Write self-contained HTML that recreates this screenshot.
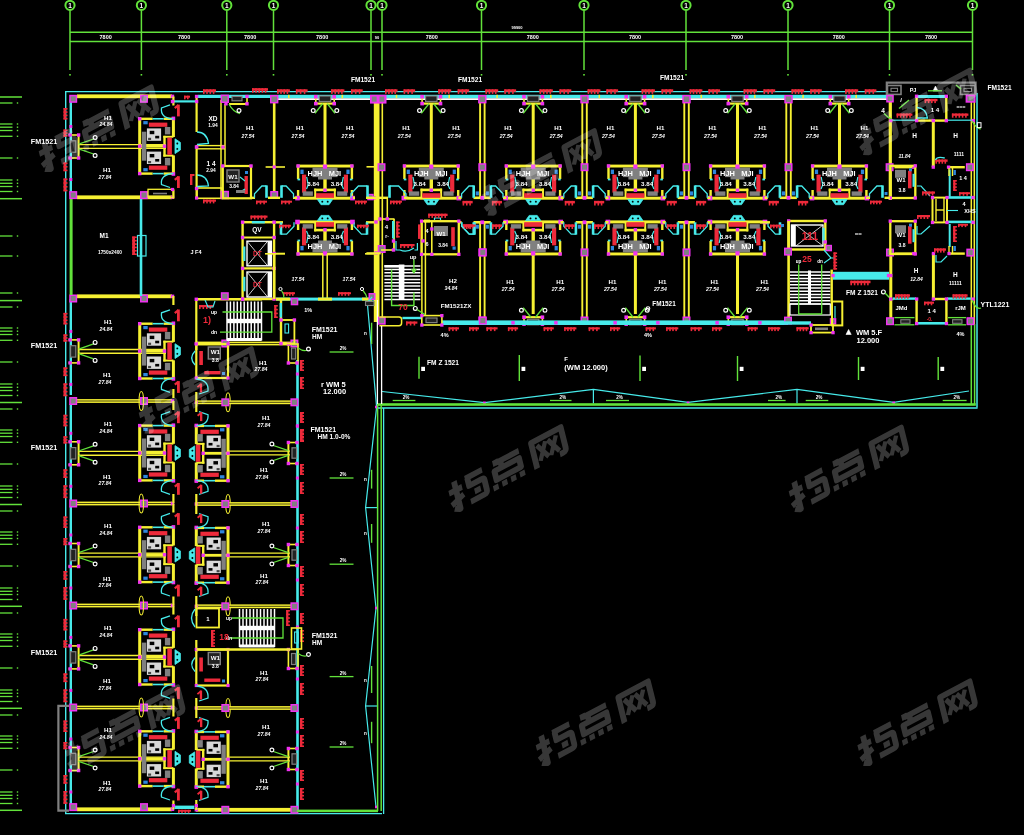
<!DOCTYPE html>
<html><head><meta charset="utf-8"><title>Floor plan</title>
<style>html,body{margin:0;padding:0;background:#000;overflow:hidden}svg{display:block}text{font-family:"Liberation Sans",sans-serif}</style>
</head><body>
<svg width="1024" height="835" viewBox="0 0 1024 835" font-family="Liberation Sans, sans-serif">
<defs><filter id="bl" x="0" y="0" width="1024" height="835" filterUnits="userSpaceOnUse"><feGaussianBlur stdDeviation="0.45"/></filter><g id="wm" fill="none" stroke="#fff" stroke-width="5.8" stroke-linejoin="round" stroke-linecap="butt">
<g transform="translate(-65,-13.6) scale(1.05,0.96)">
<path d="M0 9 H14 M7.5 0 V28.5 L2 25.5 M0 21.5 L14 16.5 M18.5 3 H37 M21 3 V11.5 H34 Q37 11.5 37 14.5 V24 Q37 27 34 27 H19 M25 19.5 H31.5"/>
<g transform="translate(43.5,0)"><path d="M8 0 V6 M8 3.5 H33 M13 3.5 V10 M5 10.5 H31.5 V19.5 H5 Z"/><path d="M0 23.5 h5.5 v5.5 h-5.5z M9.5 23.5 h5.5 v5.5 h-5.5z M19 23.5 h5.5 v5.5 h-5.5z M28.5 23.5 h5.5 v5.5 h-5.5z" fill="#fff" stroke="none"/></g>
<g transform="translate(87,0)"><path d="M3 29 V2.5 H35 V24 Q35 27 32 27 H28" /><path d="M8 7.5 L17 23.5 M17 7.5 L8 23.5 M19.5 7.5 L28.5 23.5 M28.5 7.5 L19.5 23.5" stroke-width="4.6"/></g>
</g></g></defs>
<rect width="1024" height="835" fill="#000"/>
<g filter="url(#bl)">
<line x1="70.0" y1="10.5" x2="70.0" y2="70.0" stroke="#62e23a" stroke-width="1.5" />
<rect x="69.2" y="74.0" width="1.6" height="1.6" fill="#62e23a"/>
<circle cx="70.0" cy="5.3" r="4.6" fill="none" stroke="#62e23a" stroke-width="2.0"/>
<text x="70.0" y="7.6" fill="#ffffff" font-size="6.5" text-anchor="middle" font-weight="bold" >1</text>
<line x1="141.4" y1="10.5" x2="141.4" y2="70.0" stroke="#62e23a" stroke-width="1.5" />
<rect x="140.6" y="74.0" width="1.6" height="1.6" fill="#62e23a"/>
<circle cx="141.4" cy="5.3" r="4.6" fill="none" stroke="#62e23a" stroke-width="2.0"/>
<text x="141.4" y="7.6" fill="#ffffff" font-size="6.5" text-anchor="middle" font-weight="bold" >1</text>
<line x1="226.8" y1="10.5" x2="226.8" y2="70.0" stroke="#62e23a" stroke-width="1.5" />
<rect x="226.0" y="74.0" width="1.6" height="1.6" fill="#62e23a"/>
<circle cx="226.8" cy="5.3" r="4.6" fill="none" stroke="#62e23a" stroke-width="2.0"/>
<text x="226.8" y="7.6" fill="#ffffff" font-size="6.5" text-anchor="middle" font-weight="bold" >1</text>
<line x1="273.5" y1="10.5" x2="273.5" y2="70.0" stroke="#62e23a" stroke-width="1.5" />
<rect x="272.7" y="74.0" width="1.6" height="1.6" fill="#62e23a"/>
<circle cx="273.5" cy="5.3" r="4.6" fill="none" stroke="#62e23a" stroke-width="2.0"/>
<text x="273.5" y="7.6" fill="#ffffff" font-size="6.5" text-anchor="middle" font-weight="bold" >1</text>
<line x1="371.0" y1="10.5" x2="371.0" y2="70.0" stroke="#62e23a" stroke-width="1.5" />
<rect x="370.2" y="74.0" width="1.6" height="1.6" fill="#62e23a"/>
<circle cx="371.0" cy="5.3" r="4.6" fill="none" stroke="#62e23a" stroke-width="2.0"/>
<text x="371.0" y="7.6" fill="#ffffff" font-size="6.5" text-anchor="middle" font-weight="bold" >1</text>
<line x1="382.0" y1="10.5" x2="382.0" y2="70.0" stroke="#62e23a" stroke-width="1.5" />
<rect x="381.2" y="74.0" width="1.6" height="1.6" fill="#62e23a"/>
<circle cx="382.0" cy="5.3" r="4.6" fill="none" stroke="#62e23a" stroke-width="2.0"/>
<text x="382.0" y="7.6" fill="#ffffff" font-size="6.5" text-anchor="middle" font-weight="bold" >1</text>
<line x1="481.5" y1="10.5" x2="481.5" y2="70.0" stroke="#62e23a" stroke-width="1.5" />
<rect x="480.7" y="74.0" width="1.6" height="1.6" fill="#62e23a"/>
<circle cx="481.5" cy="5.3" r="4.6" fill="none" stroke="#62e23a" stroke-width="2.0"/>
<text x="481.5" y="7.6" fill="#ffffff" font-size="6.5" text-anchor="middle" font-weight="bold" >1</text>
<line x1="584.0" y1="10.5" x2="584.0" y2="70.0" stroke="#62e23a" stroke-width="1.5" />
<rect x="583.2" y="74.0" width="1.6" height="1.6" fill="#62e23a"/>
<circle cx="584.0" cy="5.3" r="4.6" fill="none" stroke="#62e23a" stroke-width="2.0"/>
<text x="584.0" y="7.6" fill="#ffffff" font-size="6.5" text-anchor="middle" font-weight="bold" >1</text>
<line x1="686.0" y1="10.5" x2="686.0" y2="70.0" stroke="#62e23a" stroke-width="1.5" />
<rect x="685.2" y="74.0" width="1.6" height="1.6" fill="#62e23a"/>
<circle cx="686.0" cy="5.3" r="4.6" fill="none" stroke="#62e23a" stroke-width="2.0"/>
<text x="686.0" y="7.6" fill="#ffffff" font-size="6.5" text-anchor="middle" font-weight="bold" >1</text>
<line x1="788.0" y1="10.5" x2="788.0" y2="70.0" stroke="#62e23a" stroke-width="1.5" />
<rect x="787.2" y="74.0" width="1.6" height="1.6" fill="#62e23a"/>
<circle cx="788.0" cy="5.3" r="4.6" fill="none" stroke="#62e23a" stroke-width="2.0"/>
<text x="788.0" y="7.6" fill="#ffffff" font-size="6.5" text-anchor="middle" font-weight="bold" >1</text>
<line x1="889.5" y1="10.5" x2="889.5" y2="70.0" stroke="#62e23a" stroke-width="1.5" />
<rect x="888.7" y="74.0" width="1.6" height="1.6" fill="#62e23a"/>
<circle cx="889.5" cy="5.3" r="4.6" fill="none" stroke="#62e23a" stroke-width="2.0"/>
<text x="889.5" y="7.6" fill="#ffffff" font-size="6.5" text-anchor="middle" font-weight="bold" >1</text>
<line x1="972.5" y1="10.5" x2="972.5" y2="70.0" stroke="#62e23a" stroke-width="1.5" />
<rect x="971.7" y="74.0" width="1.6" height="1.6" fill="#62e23a"/>
<circle cx="972.5" cy="5.3" r="4.6" fill="none" stroke="#62e23a" stroke-width="2.0"/>
<text x="972.5" y="7.6" fill="#ffffff" font-size="6.5" text-anchor="middle" font-weight="bold" >1</text>
<line x1="70.0" y1="32.2" x2="972.5" y2="32.2" stroke="#62e23a" stroke-width="1.5" />
<line x1="70.0" y1="41.4" x2="972.5" y2="41.4" stroke="#62e23a" stroke-width="1.5" />
<text x="105.7" y="39.2" fill="#ffffff" font-size="5.5" text-anchor="middle" font-weight="bold" >7800</text>
<text x="184.1" y="39.2" fill="#ffffff" font-size="5.5" text-anchor="middle" font-weight="bold" >7800</text>
<text x="250.2" y="39.2" fill="#ffffff" font-size="5.5" text-anchor="middle" font-weight="bold" >7800</text>
<text x="322.2" y="39.2" fill="#ffffff" font-size="5.5" text-anchor="middle" font-weight="bold" >7800</text>
<text x="431.8" y="39.2" fill="#ffffff" font-size="5.5" text-anchor="middle" font-weight="bold" >7800</text>
<text x="532.8" y="39.2" fill="#ffffff" font-size="5.5" text-anchor="middle" font-weight="bold" >7800</text>
<text x="635.0" y="39.2" fill="#ffffff" font-size="5.5" text-anchor="middle" font-weight="bold" >7800</text>
<text x="737.0" y="39.2" fill="#ffffff" font-size="5.5" text-anchor="middle" font-weight="bold" >7800</text>
<text x="838.8" y="39.2" fill="#ffffff" font-size="5.5" text-anchor="middle" font-weight="bold" >7800</text>
<text x="931.0" y="39.2" fill="#ffffff" font-size="5.5" text-anchor="middle" font-weight="bold" >7800</text>
<text x="377.0" y="39.2" fill="#ffffff" font-size="4" text-anchor="middle" font-weight="bold" >90</text>
<text x="517.0" y="29.0" fill="#ffffff" font-size="4" text-anchor="middle" font-weight="bold" >99900</text>
<line x1="0.0" y1="103.0" x2="12.5" y2="103.0" stroke="#62e23a" stroke-width="1.3" />
<rect x="16.8" y="102.3" width="1.4" height="1.4" fill="#62e23a"/>
<line x1="0.0" y1="124.0" x2="12.5" y2="124.0" stroke="#62e23a" stroke-width="1.3" />
<rect x="16.8" y="123.3" width="1.4" height="1.4" fill="#62e23a"/>
<line x1="0.0" y1="127.2" x2="12.5" y2="127.2" stroke="#62e23a" stroke-width="1.3" />
<rect x="16.8" y="126.5" width="1.4" height="1.4" fill="#62e23a"/>
<line x1="0.0" y1="130.5" x2="12.5" y2="130.5" stroke="#62e23a" stroke-width="1.3" />
<rect x="16.8" y="129.8" width="1.4" height="1.4" fill="#62e23a"/>
<line x1="0.0" y1="136.3" x2="12.5" y2="136.3" stroke="#62e23a" stroke-width="1.3" />
<rect x="16.8" y="135.6" width="1.4" height="1.4" fill="#62e23a"/>
<line x1="0.0" y1="158.0" x2="12.5" y2="158.0" stroke="#62e23a" stroke-width="1.3" />
<rect x="16.8" y="157.3" width="1.4" height="1.4" fill="#62e23a"/>
<line x1="0.0" y1="180.0" x2="12.5" y2="180.0" stroke="#62e23a" stroke-width="1.3" />
<rect x="16.8" y="179.3" width="1.4" height="1.4" fill="#62e23a"/>
<line x1="0.0" y1="183.3" x2="12.5" y2="183.3" stroke="#62e23a" stroke-width="1.3" />
<rect x="16.8" y="182.6" width="1.4" height="1.4" fill="#62e23a"/>
<line x1="0.0" y1="186.5" x2="12.5" y2="186.5" stroke="#62e23a" stroke-width="1.3" />
<rect x="16.8" y="185.8" width="1.4" height="1.4" fill="#62e23a"/>
<line x1="0.0" y1="191.5" x2="12.5" y2="191.5" stroke="#62e23a" stroke-width="1.3" />
<rect x="16.8" y="190.8" width="1.4" height="1.4" fill="#62e23a"/>
<line x1="0.0" y1="307.0" x2="12.5" y2="307.0" stroke="#62e23a" stroke-width="1.3" />
<rect x="16.8" y="306.3" width="1.4" height="1.4" fill="#62e23a"/>
<line x1="0.0" y1="328.0" x2="12.5" y2="328.0" stroke="#62e23a" stroke-width="1.3" />
<rect x="16.8" y="327.3" width="1.4" height="1.4" fill="#62e23a"/>
<line x1="0.0" y1="331.2" x2="12.5" y2="331.2" stroke="#62e23a" stroke-width="1.3" />
<rect x="16.8" y="330.5" width="1.4" height="1.4" fill="#62e23a"/>
<line x1="0.0" y1="334.5" x2="12.5" y2="334.5" stroke="#62e23a" stroke-width="1.3" />
<rect x="16.8" y="333.8" width="1.4" height="1.4" fill="#62e23a"/>
<line x1="0.0" y1="340.3" x2="12.5" y2="340.3" stroke="#62e23a" stroke-width="1.3" />
<rect x="16.8" y="339.6" width="1.4" height="1.4" fill="#62e23a"/>
<line x1="0.0" y1="362.0" x2="12.5" y2="362.0" stroke="#62e23a" stroke-width="1.3" />
<rect x="16.8" y="361.3" width="1.4" height="1.4" fill="#62e23a"/>
<line x1="0.0" y1="384.0" x2="12.5" y2="384.0" stroke="#62e23a" stroke-width="1.3" />
<rect x="16.8" y="383.3" width="1.4" height="1.4" fill="#62e23a"/>
<line x1="0.0" y1="387.3" x2="12.5" y2="387.3" stroke="#62e23a" stroke-width="1.3" />
<rect x="16.8" y="386.6" width="1.4" height="1.4" fill="#62e23a"/>
<line x1="0.0" y1="390.5" x2="12.5" y2="390.5" stroke="#62e23a" stroke-width="1.3" />
<rect x="16.8" y="389.8" width="1.4" height="1.4" fill="#62e23a"/>
<line x1="0.0" y1="395.5" x2="12.5" y2="395.5" stroke="#62e23a" stroke-width="1.3" />
<rect x="16.8" y="394.8" width="1.4" height="1.4" fill="#62e23a"/>
<line x1="0.0" y1="409.0" x2="12.5" y2="409.0" stroke="#62e23a" stroke-width="1.3" />
<rect x="16.8" y="408.3" width="1.4" height="1.4" fill="#62e23a"/>
<line x1="0.0" y1="430.0" x2="12.5" y2="430.0" stroke="#62e23a" stroke-width="1.3" />
<rect x="16.8" y="429.3" width="1.4" height="1.4" fill="#62e23a"/>
<line x1="0.0" y1="433.2" x2="12.5" y2="433.2" stroke="#62e23a" stroke-width="1.3" />
<rect x="16.8" y="432.5" width="1.4" height="1.4" fill="#62e23a"/>
<line x1="0.0" y1="436.5" x2="12.5" y2="436.5" stroke="#62e23a" stroke-width="1.3" />
<rect x="16.8" y="435.8" width="1.4" height="1.4" fill="#62e23a"/>
<line x1="0.0" y1="442.3" x2="12.5" y2="442.3" stroke="#62e23a" stroke-width="1.3" />
<rect x="16.8" y="441.6" width="1.4" height="1.4" fill="#62e23a"/>
<line x1="0.0" y1="464.0" x2="12.5" y2="464.0" stroke="#62e23a" stroke-width="1.3" />
<rect x="16.8" y="463.3" width="1.4" height="1.4" fill="#62e23a"/>
<line x1="0.0" y1="486.0" x2="12.5" y2="486.0" stroke="#62e23a" stroke-width="1.3" />
<rect x="16.8" y="485.3" width="1.4" height="1.4" fill="#62e23a"/>
<line x1="0.0" y1="489.3" x2="12.5" y2="489.3" stroke="#62e23a" stroke-width="1.3" />
<rect x="16.8" y="488.6" width="1.4" height="1.4" fill="#62e23a"/>
<line x1="0.0" y1="492.5" x2="12.5" y2="492.5" stroke="#62e23a" stroke-width="1.3" />
<rect x="16.8" y="491.8" width="1.4" height="1.4" fill="#62e23a"/>
<line x1="0.0" y1="497.5" x2="12.5" y2="497.5" stroke="#62e23a" stroke-width="1.3" />
<rect x="16.8" y="496.8" width="1.4" height="1.4" fill="#62e23a"/>
<line x1="0.0" y1="511.0" x2="12.5" y2="511.0" stroke="#62e23a" stroke-width="1.3" />
<rect x="16.8" y="510.3" width="1.4" height="1.4" fill="#62e23a"/>
<line x1="0.0" y1="532.0" x2="12.5" y2="532.0" stroke="#62e23a" stroke-width="1.3" />
<rect x="16.8" y="531.3" width="1.4" height="1.4" fill="#62e23a"/>
<line x1="0.0" y1="535.2" x2="12.5" y2="535.2" stroke="#62e23a" stroke-width="1.3" />
<rect x="16.8" y="534.5" width="1.4" height="1.4" fill="#62e23a"/>
<line x1="0.0" y1="538.5" x2="12.5" y2="538.5" stroke="#62e23a" stroke-width="1.3" />
<rect x="16.8" y="537.8" width="1.4" height="1.4" fill="#62e23a"/>
<line x1="0.0" y1="544.3" x2="12.5" y2="544.3" stroke="#62e23a" stroke-width="1.3" />
<rect x="16.8" y="543.6" width="1.4" height="1.4" fill="#62e23a"/>
<line x1="0.0" y1="566.0" x2="12.5" y2="566.0" stroke="#62e23a" stroke-width="1.3" />
<rect x="16.8" y="565.3" width="1.4" height="1.4" fill="#62e23a"/>
<line x1="0.0" y1="588.0" x2="12.5" y2="588.0" stroke="#62e23a" stroke-width="1.3" />
<rect x="16.8" y="587.3" width="1.4" height="1.4" fill="#62e23a"/>
<line x1="0.0" y1="591.3" x2="12.5" y2="591.3" stroke="#62e23a" stroke-width="1.3" />
<rect x="16.8" y="590.6" width="1.4" height="1.4" fill="#62e23a"/>
<line x1="0.0" y1="594.5" x2="12.5" y2="594.5" stroke="#62e23a" stroke-width="1.3" />
<rect x="16.8" y="593.8" width="1.4" height="1.4" fill="#62e23a"/>
<line x1="0.0" y1="599.5" x2="12.5" y2="599.5" stroke="#62e23a" stroke-width="1.3" />
<rect x="16.8" y="598.8" width="1.4" height="1.4" fill="#62e23a"/>
<line x1="0.0" y1="613.0" x2="12.5" y2="613.0" stroke="#62e23a" stroke-width="1.3" />
<rect x="16.8" y="612.3" width="1.4" height="1.4" fill="#62e23a"/>
<line x1="0.0" y1="634.0" x2="12.5" y2="634.0" stroke="#62e23a" stroke-width="1.3" />
<rect x="16.8" y="633.3" width="1.4" height="1.4" fill="#62e23a"/>
<line x1="0.0" y1="637.2" x2="12.5" y2="637.2" stroke="#62e23a" stroke-width="1.3" />
<rect x="16.8" y="636.5" width="1.4" height="1.4" fill="#62e23a"/>
<line x1="0.0" y1="640.5" x2="12.5" y2="640.5" stroke="#62e23a" stroke-width="1.3" />
<rect x="16.8" y="639.8" width="1.4" height="1.4" fill="#62e23a"/>
<line x1="0.0" y1="646.3" x2="12.5" y2="646.3" stroke="#62e23a" stroke-width="1.3" />
<rect x="16.8" y="645.6" width="1.4" height="1.4" fill="#62e23a"/>
<line x1="0.0" y1="668.0" x2="12.5" y2="668.0" stroke="#62e23a" stroke-width="1.3" />
<rect x="16.8" y="667.3" width="1.4" height="1.4" fill="#62e23a"/>
<line x1="0.0" y1="690.0" x2="12.5" y2="690.0" stroke="#62e23a" stroke-width="1.3" />
<rect x="16.8" y="689.3" width="1.4" height="1.4" fill="#62e23a"/>
<line x1="0.0" y1="693.3" x2="12.5" y2="693.3" stroke="#62e23a" stroke-width="1.3" />
<rect x="16.8" y="692.6" width="1.4" height="1.4" fill="#62e23a"/>
<line x1="0.0" y1="696.5" x2="12.5" y2="696.5" stroke="#62e23a" stroke-width="1.3" />
<rect x="16.8" y="695.8" width="1.4" height="1.4" fill="#62e23a"/>
<line x1="0.0" y1="701.5" x2="12.5" y2="701.5" stroke="#62e23a" stroke-width="1.3" />
<rect x="16.8" y="700.8" width="1.4" height="1.4" fill="#62e23a"/>
<line x1="0.0" y1="715.0" x2="12.5" y2="715.0" stroke="#62e23a" stroke-width="1.3" />
<rect x="16.8" y="714.3" width="1.4" height="1.4" fill="#62e23a"/>
<line x1="0.0" y1="736.0" x2="12.5" y2="736.0" stroke="#62e23a" stroke-width="1.3" />
<rect x="16.8" y="735.3" width="1.4" height="1.4" fill="#62e23a"/>
<line x1="0.0" y1="739.2" x2="12.5" y2="739.2" stroke="#62e23a" stroke-width="1.3" />
<rect x="16.8" y="738.5" width="1.4" height="1.4" fill="#62e23a"/>
<line x1="0.0" y1="742.5" x2="12.5" y2="742.5" stroke="#62e23a" stroke-width="1.3" />
<rect x="16.8" y="741.8" width="1.4" height="1.4" fill="#62e23a"/>
<line x1="0.0" y1="748.3" x2="12.5" y2="748.3" stroke="#62e23a" stroke-width="1.3" />
<rect x="16.8" y="747.6" width="1.4" height="1.4" fill="#62e23a"/>
<line x1="0.0" y1="770.0" x2="12.5" y2="770.0" stroke="#62e23a" stroke-width="1.3" />
<rect x="16.8" y="769.3" width="1.4" height="1.4" fill="#62e23a"/>
<line x1="0.0" y1="792.0" x2="12.5" y2="792.0" stroke="#62e23a" stroke-width="1.3" />
<rect x="16.8" y="791.3" width="1.4" height="1.4" fill="#62e23a"/>
<line x1="0.0" y1="795.3" x2="12.5" y2="795.3" stroke="#62e23a" stroke-width="1.3" />
<rect x="16.8" y="794.6" width="1.4" height="1.4" fill="#62e23a"/>
<line x1="0.0" y1="798.5" x2="12.5" y2="798.5" stroke="#62e23a" stroke-width="1.3" />
<rect x="16.8" y="797.8" width="1.4" height="1.4" fill="#62e23a"/>
<line x1="0.0" y1="803.5" x2="12.5" y2="803.5" stroke="#62e23a" stroke-width="1.3" />
<rect x="16.8" y="802.8" width="1.4" height="1.4" fill="#62e23a"/>
<line x1="0.0" y1="97.0" x2="22.0" y2="97.0" stroke="#62e23a" stroke-width="1.5" />
<line x1="0.0" y1="198.7" x2="22.0" y2="198.7" stroke="#62e23a" stroke-width="1.5" />
<line x1="0.0" y1="300.6" x2="22.0" y2="300.6" stroke="#62e23a" stroke-width="1.5" />
<line x1="0.0" y1="402.5" x2="22.0" y2="402.5" stroke="#62e23a" stroke-width="1.5" />
<line x1="0.0" y1="504.5" x2="22.0" y2="504.5" stroke="#62e23a" stroke-width="1.5" />
<line x1="0.0" y1="606.3" x2="22.0" y2="606.3" stroke="#62e23a" stroke-width="1.5" />
<line x1="0.0" y1="708.3" x2="22.0" y2="708.3" stroke="#62e23a" stroke-width="1.5" />
<line x1="0.0" y1="810.3" x2="22.0" y2="810.3" stroke="#62e23a" stroke-width="1.5" />
<line x1="0.0" y1="236.0" x2="12.5" y2="236.0" stroke="#62e23a" stroke-width="1.3" />
<rect x="16.8" y="235.3" width="1.4" height="1.4" fill="#62e23a"/>
<line x1="0.0" y1="256.0" x2="12.5" y2="256.0" stroke="#62e23a" stroke-width="1.3" />
<rect x="16.8" y="255.3" width="1.4" height="1.4" fill="#62e23a"/>
<line x1="0.0" y1="293.0" x2="12.5" y2="293.0" stroke="#62e23a" stroke-width="1.3" />
<rect x="16.8" y="292.3" width="1.4" height="1.4" fill="#62e23a"/>
<line x1="65.7" y1="91.0" x2="65.7" y2="814.0" stroke="#46eaea" stroke-width="1.4" />
<line x1="65.0" y1="91.6" x2="886.0" y2="91.6" stroke="#46eaea" stroke-width="1.4" />
<line x1="65.0" y1="813.6" x2="382.0" y2="813.6" stroke="#46eaea" stroke-width="1.4" />
<rect x="198.0" y="94.8" width="76.0" height="3.2" fill="#46eaea"/>
<rect x="274.0" y="94.8" width="615.0" height="3.4" fill="#46eaea"/>
<rect x="274.0" y="98.2" width="615.0" height="1.8" fill="#ffffff"/>
<rect x="173.0" y="100.3" width="23.0" height="2.2" fill="#46eaea"/>
<rect x="277.1" y="89.3" width="12.8" height="2.5" fill="#ee2a3a"/>
<rect x="277.1" y="89.3" width="1.6" height="4.6" fill="#ee2a3a"/>
<rect x="280.2" y="89.3" width="1.6" height="4.6" fill="#ee2a3a"/>
<rect x="283.4" y="89.3" width="1.6" height="4.6" fill="#ee2a3a"/>
<rect x="286.6" y="89.3" width="1.6" height="4.6" fill="#ee2a3a"/>
<rect x="295.9" y="89.3" width="11.7" height="2.5" fill="#ee2a3a"/>
<rect x="295.9" y="89.3" width="1.6" height="4.6" fill="#ee2a3a"/>
<rect x="299.8" y="89.3" width="1.6" height="4.6" fill="#ee2a3a"/>
<rect x="303.8" y="89.3" width="1.6" height="4.6" fill="#ee2a3a"/>
<rect x="331.1" y="89.3" width="13.3" height="2.5" fill="#ee2a3a"/>
<rect x="331.1" y="89.3" width="1.6" height="4.6" fill="#ee2a3a"/>
<rect x="334.4" y="89.3" width="1.6" height="4.6" fill="#ee2a3a"/>
<rect x="337.8" y="89.3" width="1.6" height="4.6" fill="#ee2a3a"/>
<rect x="341.1" y="89.3" width="1.6" height="4.6" fill="#ee2a3a"/>
<rect x="351.0" y="89.3" width="11.7" height="2.5" fill="#ee2a3a"/>
<rect x="351.0" y="89.3" width="1.6" height="4.6" fill="#ee2a3a"/>
<rect x="354.9" y="89.3" width="1.6" height="4.6" fill="#ee2a3a"/>
<rect x="358.8" y="89.3" width="1.6" height="4.6" fill="#ee2a3a"/>
<rect x="288.0" y="94.8" width="1.6" height="3.4" fill="#f6f032"/>
<rect x="341.5" y="94.8" width="1.6" height="3.4" fill="#f6f032"/>
<rect x="385.0" y="89.3" width="12.5" height="2.5" fill="#ee2a3a"/>
<rect x="385.0" y="89.3" width="1.6" height="4.6" fill="#ee2a3a"/>
<rect x="388.1" y="89.3" width="1.6" height="4.6" fill="#ee2a3a"/>
<rect x="391.3" y="89.3" width="1.6" height="4.6" fill="#ee2a3a"/>
<rect x="394.4" y="89.3" width="1.6" height="4.6" fill="#ee2a3a"/>
<rect x="403.6" y="89.3" width="11.5" height="2.5" fill="#ee2a3a"/>
<rect x="403.6" y="89.3" width="1.6" height="4.6" fill="#ee2a3a"/>
<rect x="407.4" y="89.3" width="1.6" height="4.6" fill="#ee2a3a"/>
<rect x="411.3" y="89.3" width="1.6" height="4.6" fill="#ee2a3a"/>
<rect x="438.2" y="89.3" width="13.0" height="2.5" fill="#ee2a3a"/>
<rect x="438.2" y="89.3" width="1.6" height="4.6" fill="#ee2a3a"/>
<rect x="441.4" y="89.3" width="1.6" height="4.6" fill="#ee2a3a"/>
<rect x="444.7" y="89.3" width="1.6" height="4.6" fill="#ee2a3a"/>
<rect x="447.9" y="89.3" width="1.6" height="4.6" fill="#ee2a3a"/>
<rect x="457.7" y="89.3" width="11.5" height="2.5" fill="#ee2a3a"/>
<rect x="457.7" y="89.3" width="1.6" height="4.6" fill="#ee2a3a"/>
<rect x="461.6" y="89.3" width="1.6" height="4.6" fill="#ee2a3a"/>
<rect x="465.4" y="89.3" width="1.6" height="4.6" fill="#ee2a3a"/>
<rect x="395.7" y="94.8" width="1.6" height="3.4" fill="#f6f032"/>
<rect x="448.4" y="94.8" width="1.6" height="3.4" fill="#f6f032"/>
<rect x="485.4" y="89.3" width="12.8" height="2.5" fill="#ee2a3a"/>
<rect x="485.4" y="89.3" width="1.6" height="4.6" fill="#ee2a3a"/>
<rect x="488.6" y="89.3" width="1.6" height="4.6" fill="#ee2a3a"/>
<rect x="491.8" y="89.3" width="1.6" height="4.6" fill="#ee2a3a"/>
<rect x="494.9" y="89.3" width="1.6" height="4.6" fill="#ee2a3a"/>
<rect x="504.3" y="89.3" width="11.8" height="2.5" fill="#ee2a3a"/>
<rect x="504.3" y="89.3" width="1.6" height="4.6" fill="#ee2a3a"/>
<rect x="508.2" y="89.3" width="1.6" height="4.6" fill="#ee2a3a"/>
<rect x="512.1" y="89.3" width="1.6" height="4.6" fill="#ee2a3a"/>
<rect x="539.5" y="89.3" width="13.3" height="2.5" fill="#ee2a3a"/>
<rect x="539.5" y="89.3" width="1.6" height="4.6" fill="#ee2a3a"/>
<rect x="542.9" y="89.3" width="1.6" height="4.6" fill="#ee2a3a"/>
<rect x="546.2" y="89.3" width="1.6" height="4.6" fill="#ee2a3a"/>
<rect x="549.5" y="89.3" width="1.6" height="4.6" fill="#ee2a3a"/>
<rect x="559.5" y="89.3" width="11.8" height="2.5" fill="#ee2a3a"/>
<rect x="559.5" y="89.3" width="1.6" height="4.6" fill="#ee2a3a"/>
<rect x="563.4" y="89.3" width="1.6" height="4.6" fill="#ee2a3a"/>
<rect x="567.3" y="89.3" width="1.6" height="4.6" fill="#ee2a3a"/>
<rect x="496.3" y="94.8" width="1.6" height="3.4" fill="#f6f032"/>
<rect x="550.0" y="94.8" width="1.6" height="3.4" fill="#f6f032"/>
<rect x="587.6" y="89.3" width="12.8" height="2.5" fill="#ee2a3a"/>
<rect x="587.6" y="89.3" width="1.6" height="4.6" fill="#ee2a3a"/>
<rect x="590.7" y="89.3" width="1.6" height="4.6" fill="#ee2a3a"/>
<rect x="593.9" y="89.3" width="1.6" height="4.6" fill="#ee2a3a"/>
<rect x="597.1" y="89.3" width="1.6" height="4.6" fill="#ee2a3a"/>
<rect x="606.4" y="89.3" width="11.7" height="2.5" fill="#ee2a3a"/>
<rect x="606.4" y="89.3" width="1.6" height="4.6" fill="#ee2a3a"/>
<rect x="610.3" y="89.3" width="1.6" height="4.6" fill="#ee2a3a"/>
<rect x="614.2" y="89.3" width="1.6" height="4.6" fill="#ee2a3a"/>
<rect x="641.6" y="89.3" width="13.3" height="2.5" fill="#ee2a3a"/>
<rect x="641.6" y="89.3" width="1.6" height="4.6" fill="#ee2a3a"/>
<rect x="644.9" y="89.3" width="1.6" height="4.6" fill="#ee2a3a"/>
<rect x="648.2" y="89.3" width="1.6" height="4.6" fill="#ee2a3a"/>
<rect x="651.6" y="89.3" width="1.6" height="4.6" fill="#ee2a3a"/>
<rect x="661.5" y="89.3" width="11.7" height="2.5" fill="#ee2a3a"/>
<rect x="661.5" y="89.3" width="1.6" height="4.6" fill="#ee2a3a"/>
<rect x="665.4" y="89.3" width="1.6" height="4.6" fill="#ee2a3a"/>
<rect x="669.3" y="89.3" width="1.6" height="4.6" fill="#ee2a3a"/>
<rect x="598.5" y="94.8" width="1.6" height="3.4" fill="#f6f032"/>
<rect x="652.0" y="94.8" width="1.6" height="3.4" fill="#f6f032"/>
<rect x="689.6" y="89.3" width="12.8" height="2.5" fill="#ee2a3a"/>
<rect x="689.6" y="89.3" width="1.6" height="4.6" fill="#ee2a3a"/>
<rect x="692.7" y="89.3" width="1.6" height="4.6" fill="#ee2a3a"/>
<rect x="695.9" y="89.3" width="1.6" height="4.6" fill="#ee2a3a"/>
<rect x="699.1" y="89.3" width="1.6" height="4.6" fill="#ee2a3a"/>
<rect x="708.4" y="89.3" width="11.7" height="2.5" fill="#ee2a3a"/>
<rect x="708.4" y="89.3" width="1.6" height="4.6" fill="#ee2a3a"/>
<rect x="712.3" y="89.3" width="1.6" height="4.6" fill="#ee2a3a"/>
<rect x="716.2" y="89.3" width="1.6" height="4.6" fill="#ee2a3a"/>
<rect x="743.6" y="89.3" width="13.3" height="2.5" fill="#ee2a3a"/>
<rect x="743.6" y="89.3" width="1.6" height="4.6" fill="#ee2a3a"/>
<rect x="746.9" y="89.3" width="1.6" height="4.6" fill="#ee2a3a"/>
<rect x="750.2" y="89.3" width="1.6" height="4.6" fill="#ee2a3a"/>
<rect x="753.6" y="89.3" width="1.6" height="4.6" fill="#ee2a3a"/>
<rect x="763.5" y="89.3" width="11.7" height="2.5" fill="#ee2a3a"/>
<rect x="763.5" y="89.3" width="1.6" height="4.6" fill="#ee2a3a"/>
<rect x="767.4" y="89.3" width="1.6" height="4.6" fill="#ee2a3a"/>
<rect x="771.3" y="89.3" width="1.6" height="4.6" fill="#ee2a3a"/>
<rect x="700.5" y="94.8" width="1.6" height="3.4" fill="#f6f032"/>
<rect x="754.0" y="94.8" width="1.6" height="3.4" fill="#f6f032"/>
<rect x="791.5" y="89.3" width="12.6" height="2.5" fill="#ee2a3a"/>
<rect x="791.5" y="89.3" width="1.6" height="4.6" fill="#ee2a3a"/>
<rect x="794.7" y="89.3" width="1.6" height="4.6" fill="#ee2a3a"/>
<rect x="797.8" y="89.3" width="1.6" height="4.6" fill="#ee2a3a"/>
<rect x="801.0" y="89.3" width="1.6" height="4.6" fill="#ee2a3a"/>
<rect x="810.2" y="89.3" width="11.6" height="2.5" fill="#ee2a3a"/>
<rect x="810.2" y="89.3" width="1.6" height="4.6" fill="#ee2a3a"/>
<rect x="814.1" y="89.3" width="1.6" height="4.6" fill="#ee2a3a"/>
<rect x="818.0" y="89.3" width="1.6" height="4.6" fill="#ee2a3a"/>
<rect x="845.1" y="89.3" width="13.1" height="2.5" fill="#ee2a3a"/>
<rect x="845.1" y="89.3" width="1.6" height="4.6" fill="#ee2a3a"/>
<rect x="848.3" y="89.3" width="1.6" height="4.6" fill="#ee2a3a"/>
<rect x="851.6" y="89.3" width="1.6" height="4.6" fill="#ee2a3a"/>
<rect x="854.9" y="89.3" width="1.6" height="4.6" fill="#ee2a3a"/>
<rect x="864.8" y="89.3" width="11.6" height="2.5" fill="#ee2a3a"/>
<rect x="864.8" y="89.3" width="1.6" height="4.6" fill="#ee2a3a"/>
<rect x="868.6" y="89.3" width="1.6" height="4.6" fill="#ee2a3a"/>
<rect x="872.5" y="89.3" width="1.6" height="4.6" fill="#ee2a3a"/>
<rect x="802.3" y="94.8" width="1.6" height="3.4" fill="#f6f032"/>
<rect x="855.4" y="94.8" width="1.6" height="3.4" fill="#f6f032"/>
<rect x="203.0" y="89.3" width="13.0" height="2.5" fill="#ee2a3a"/>
<rect x="203.0" y="89.3" width="1.6" height="4.6" fill="#ee2a3a"/>
<rect x="206.2" y="89.3" width="1.6" height="4.6" fill="#ee2a3a"/>
<rect x="209.5" y="89.3" width="1.6" height="4.6" fill="#ee2a3a"/>
<rect x="212.8" y="89.3" width="1.6" height="4.6" fill="#ee2a3a"/>
<rect x="252.0" y="88.2" width="16.0" height="2.5" fill="#ee2a3a"/>
<rect x="252.0" y="88.2" width="1.6" height="4.6" fill="#ee2a3a"/>
<rect x="255.2" y="88.2" width="1.6" height="4.6" fill="#ee2a3a"/>
<rect x="258.4" y="88.2" width="1.6" height="4.6" fill="#ee2a3a"/>
<rect x="261.6" y="88.2" width="1.6" height="4.6" fill="#ee2a3a"/>
<rect x="264.8" y="88.2" width="1.6" height="4.6" fill="#ee2a3a"/>
<rect x="373.8" y="100.0" width="5.7" height="222.0" fill="#f6f032"/>
<line x1="382.3" y1="100.0" x2="382.3" y2="322.0" stroke="#f6f032" stroke-width="1.6" />
<line x1="274.2" y1="100.0" x2="274.2" y2="198.0" stroke="#f6f032" stroke-width="2.6" />
<line x1="480.1" y1="100.0" x2="480.1" y2="198.0" stroke="#f6f032" stroke-width="1.9" />
<line x1="484.6" y1="100.0" x2="484.6" y2="198.0" stroke="#f6f032" stroke-width="1.9" />
<line x1="582.3" y1="100.0" x2="582.3" y2="198.0" stroke="#f6f032" stroke-width="1.9" />
<line x1="586.8" y1="100.0" x2="586.8" y2="198.0" stroke="#f6f032" stroke-width="1.9" />
<line x1="684.3" y1="100.0" x2="684.3" y2="198.0" stroke="#f6f032" stroke-width="1.9" />
<line x1="688.8" y1="100.0" x2="688.8" y2="198.0" stroke="#f6f032" stroke-width="1.9" />
<line x1="786.3" y1="100.0" x2="786.3" y2="198.0" stroke="#f6f032" stroke-width="1.9" />
<line x1="790.8" y1="100.0" x2="790.8" y2="198.0" stroke="#f6f032" stroke-width="1.9" />
<line x1="480.1" y1="222.0" x2="480.1" y2="322.0" stroke="#f6f032" stroke-width="1.9" />
<line x1="484.6" y1="222.0" x2="484.6" y2="322.0" stroke="#f6f032" stroke-width="1.9" />
<line x1="582.3" y1="222.0" x2="582.3" y2="322.0" stroke="#f6f032" stroke-width="1.9" />
<line x1="586.8" y1="222.0" x2="586.8" y2="322.0" stroke="#f6f032" stroke-width="1.9" />
<line x1="684.3" y1="222.0" x2="684.3" y2="322.0" stroke="#f6f032" stroke-width="1.9" />
<line x1="688.8" y1="222.0" x2="688.8" y2="322.0" stroke="#f6f032" stroke-width="1.9" />
<line x1="325.0" y1="104.0" x2="325.0" y2="166.0" stroke="#f6f032" stroke-width="3.0" />
<line x1="315.8" y1="95.0" x2="315.8" y2="103.6" stroke="#f6f032" stroke-width="1.6" />
<line x1="334.2" y1="95.0" x2="334.2" y2="103.6" stroke="#f6f032" stroke-width="1.6" />
<line x1="315.8" y1="103.6" x2="334.2" y2="103.6" stroke="#f6f032" stroke-width="2.2" />
<rect x="319.3" y="96.0" width="11.4" height="5.5" fill="#202020" stroke="#808080" stroke-width="1.2"/>
<rect x="314.0" y="94.9" width="3.6" height="3.6" fill="#f030f0"/>
<rect x="314.0" y="101.8" width="3.6" height="3.6" fill="#f030f0"/>
<rect x="332.4" y="94.9" width="3.6" height="3.6" fill="#f030f0"/>
<rect x="332.4" y="101.8" width="3.6" height="3.6" fill="#f030f0"/>
<path d="M322.7 103.6 L315.0 113.2" fill="none" stroke="#62e23a" stroke-width="1.4"/>
<path d="M327.3 103.6 L335.0 113.2" fill="none" stroke="#62e23a" stroke-width="1.4"/>
<circle cx="313.2" cy="110.6" r="1.9" fill="none" stroke="#ffffff" stroke-width="1.2"/>
<circle cx="336.8" cy="110.6" r="1.9" fill="none" stroke="#ffffff" stroke-width="1.2"/>
<rect x="296.7" y="164.6" width="56.6" height="2.9" fill="#f6f032"/>
<rect x="296.7" y="196.7" width="56.6" height="3.0" fill="#f6f032"/>
<rect x="296.9" y="166.0" width="2.4" height="13.0" fill="#f6f032"/>
<rect x="296.9" y="190.0" width="2.4" height="8.3" fill="#f6f032"/>
<rect x="350.7" y="166.0" width="2.4" height="13.0" fill="#f6f032"/>
<rect x="350.7" y="190.0" width="2.4" height="8.3" fill="#f6f032"/>
<rect x="323.3" y="166.0" width="3.4" height="25.0" fill="#f6f032"/>
<rect x="314.2" y="188.6" width="21.6" height="2.6" fill="#f6f032"/>
<rect x="314.2" y="188.6" width="2.0" height="9.7" fill="#f6f032"/>
<rect x="333.8" y="188.6" width="2.0" height="9.7" fill="#f6f032"/>
<rect x="316.0" y="193.2" width="18.0" height="4.6" fill="#ee2a3a"/>
<rect x="312.5" y="167.6" width="25.0" height="9.5" fill="#808080"/>
<rect x="318.0" y="174.0" width="14.0" height="5.5" fill="#808080"/>
<rect x="300.4" y="169.6" width="3.2" height="4.4" fill="#2f86dc"/>
<rect x="302.0" y="174.6" width="4.2" height="18.0" fill="#ee2a3a"/>
<rect x="297.5" y="178.6" width="2.6" height="1.8" fill="#46eaea"/>
<path d="M306.7 177.0 L308.2 185.0 L306.5 189.0" fill="none" stroke="#46eaea" stroke-width="1.2"/>
<text x="315.0" y="176.2" fill="#ffffff" font-size="7.4" text-anchor="middle" font-weight="bold" >HJH</text>
<text x="313.3" y="185.7" fill="#ffffff" font-size="6.2" text-anchor="middle" font-weight="bold" >3.84</text>
<rect x="302.7" y="191.4" width="10.2" height="4.4" fill="#808080"/>
<rect x="346.4" y="169.6" width="3.2" height="4.4" fill="#2f86dc"/>
<rect x="343.8" y="174.6" width="4.2" height="18.0" fill="#ee2a3a"/>
<rect x="349.9" y="178.6" width="2.6" height="1.8" fill="#46eaea"/>
<path d="M343.3 177.0 L341.8 185.0 L343.5 189.0" fill="none" stroke="#46eaea" stroke-width="1.2"/>
<text x="335.0" y="176.2" fill="#ffffff" font-size="7.4" text-anchor="middle" font-weight="bold" >MJI</text>
<text x="336.7" y="185.7" fill="#ffffff" font-size="6.2" text-anchor="middle" font-weight="bold" >3.84</text>
<rect x="337.1" y="191.4" width="10.2" height="4.4" fill="#808080"/>
<rect x="296.4" y="164.3" width="3.4" height="3.4" fill="#f030f0"/>
<rect x="350.2" y="164.3" width="3.4" height="3.4" fill="#f030f0"/>
<rect x="322.9" y="164.5" width="4.2" height="4.2" fill="#f030f0"/>
<rect x="323.3" y="188.5" width="3.4" height="3.4" fill="#f030f0"/>
<rect x="295.2" y="195.8" width="4.6" height="4.6" fill="#f030f0"/>
<rect x="350.2" y="195.8" width="4.6" height="4.6" fill="#f030f0"/>
<path d="M317.4 199.5 H332.6 L329.0 204.7 H321.0 Z" fill="#46eaea" stroke="#46eaea" stroke-width="0.8"/>
<circle cx="322.3" cy="201.7" r="0.9" fill="#000" stroke="#000" stroke-width="0.1"/>
<circle cx="327.7" cy="201.7" r="0.9" fill="#000" stroke="#000" stroke-width="0.1"/>
<line x1="431.3" y1="104.0" x2="431.3" y2="166.0" stroke="#f6f032" stroke-width="3.0" />
<line x1="422.1" y1="95.0" x2="422.1" y2="103.6" stroke="#f6f032" stroke-width="1.6" />
<line x1="440.5" y1="95.0" x2="440.5" y2="103.6" stroke="#f6f032" stroke-width="1.6" />
<line x1="422.1" y1="103.6" x2="440.5" y2="103.6" stroke="#f6f032" stroke-width="2.2" />
<rect x="425.6" y="96.0" width="11.4" height="5.5" fill="#202020" stroke="#808080" stroke-width="1.2"/>
<rect x="420.3" y="94.9" width="3.6" height="3.6" fill="#f030f0"/>
<rect x="420.3" y="101.8" width="3.6" height="3.6" fill="#f030f0"/>
<rect x="438.7" y="94.9" width="3.6" height="3.6" fill="#f030f0"/>
<rect x="438.7" y="101.8" width="3.6" height="3.6" fill="#f030f0"/>
<path d="M429.0 103.6 L421.3 113.2" fill="none" stroke="#62e23a" stroke-width="1.4"/>
<path d="M433.6 103.6 L441.3 113.2" fill="none" stroke="#62e23a" stroke-width="1.4"/>
<circle cx="419.5" cy="110.6" r="1.9" fill="none" stroke="#ffffff" stroke-width="1.2"/>
<circle cx="443.1" cy="110.6" r="1.9" fill="none" stroke="#ffffff" stroke-width="1.2"/>
<rect x="403.0" y="164.6" width="56.6" height="2.9" fill="#f6f032"/>
<rect x="403.0" y="196.7" width="56.6" height="3.0" fill="#f6f032"/>
<rect x="403.2" y="166.0" width="2.4" height="13.0" fill="#f6f032"/>
<rect x="403.2" y="190.0" width="2.4" height="8.3" fill="#f6f032"/>
<rect x="457.0" y="166.0" width="2.4" height="13.0" fill="#f6f032"/>
<rect x="457.0" y="190.0" width="2.4" height="8.3" fill="#f6f032"/>
<rect x="429.6" y="166.0" width="3.4" height="25.0" fill="#f6f032"/>
<rect x="420.5" y="188.6" width="21.6" height="2.6" fill="#f6f032"/>
<rect x="420.5" y="188.6" width="2.0" height="9.7" fill="#f6f032"/>
<rect x="440.1" y="188.6" width="2.0" height="9.7" fill="#f6f032"/>
<rect x="422.3" y="193.2" width="18.0" height="4.6" fill="#ee2a3a"/>
<rect x="418.8" y="167.6" width="25.0" height="9.5" fill="#808080"/>
<rect x="424.3" y="174.0" width="14.0" height="5.5" fill="#808080"/>
<rect x="406.7" y="169.6" width="3.2" height="4.4" fill="#2f86dc"/>
<rect x="408.3" y="174.6" width="4.2" height="18.0" fill="#ee2a3a"/>
<rect x="403.8" y="178.6" width="2.6" height="1.8" fill="#46eaea"/>
<path d="M413.0 177.0 L414.5 185.0 L412.8 189.0" fill="none" stroke="#46eaea" stroke-width="1.2"/>
<text x="421.3" y="176.2" fill="#ffffff" font-size="7.4" text-anchor="middle" font-weight="bold" >HJH</text>
<text x="419.6" y="185.7" fill="#ffffff" font-size="6.2" text-anchor="middle" font-weight="bold" >3.84</text>
<rect x="409.0" y="191.4" width="10.2" height="4.4" fill="#808080"/>
<rect x="452.7" y="169.6" width="3.2" height="4.4" fill="#2f86dc"/>
<rect x="450.1" y="174.6" width="4.2" height="18.0" fill="#ee2a3a"/>
<rect x="456.2" y="178.6" width="2.6" height="1.8" fill="#46eaea"/>
<path d="M449.6 177.0 L448.1 185.0 L449.8 189.0" fill="none" stroke="#46eaea" stroke-width="1.2"/>
<text x="441.3" y="176.2" fill="#ffffff" font-size="7.4" text-anchor="middle" font-weight="bold" >MJI</text>
<text x="443.0" y="185.7" fill="#ffffff" font-size="6.2" text-anchor="middle" font-weight="bold" >3.84</text>
<rect x="443.4" y="191.4" width="10.2" height="4.4" fill="#808080"/>
<rect x="402.7" y="164.3" width="3.4" height="3.4" fill="#f030f0"/>
<rect x="456.5" y="164.3" width="3.4" height="3.4" fill="#f030f0"/>
<rect x="429.2" y="164.5" width="4.2" height="4.2" fill="#f030f0"/>
<rect x="429.6" y="188.5" width="3.4" height="3.4" fill="#f030f0"/>
<rect x="401.5" y="195.8" width="4.6" height="4.6" fill="#f030f0"/>
<rect x="456.5" y="195.8" width="4.6" height="4.6" fill="#f030f0"/>
<path d="M423.7 199.5 H438.9 L435.3 204.7 H427.3 Z" fill="#46eaea" stroke="#46eaea" stroke-width="0.8"/>
<circle cx="428.6" cy="201.7" r="0.9" fill="#000" stroke="#000" stroke-width="0.1"/>
<circle cx="434.0" cy="201.7" r="0.9" fill="#000" stroke="#000" stroke-width="0.1"/>
<line x1="533.2" y1="104.0" x2="533.2" y2="166.0" stroke="#f6f032" stroke-width="3.0" />
<line x1="524.0" y1="95.0" x2="524.0" y2="103.6" stroke="#f6f032" stroke-width="1.6" />
<line x1="542.4" y1="95.0" x2="542.4" y2="103.6" stroke="#f6f032" stroke-width="1.6" />
<line x1="524.0" y1="103.6" x2="542.4" y2="103.6" stroke="#f6f032" stroke-width="2.2" />
<rect x="527.5" y="96.0" width="11.4" height="5.5" fill="#202020" stroke="#808080" stroke-width="1.2"/>
<rect x="522.2" y="94.9" width="3.6" height="3.6" fill="#f030f0"/>
<rect x="522.2" y="101.8" width="3.6" height="3.6" fill="#f030f0"/>
<rect x="540.6" y="94.9" width="3.6" height="3.6" fill="#f030f0"/>
<rect x="540.6" y="101.8" width="3.6" height="3.6" fill="#f030f0"/>
<path d="M530.9 103.6 L523.2 113.2" fill="none" stroke="#62e23a" stroke-width="1.4"/>
<path d="M535.5 103.6 L543.2 113.2" fill="none" stroke="#62e23a" stroke-width="1.4"/>
<circle cx="521.4" cy="110.6" r="1.9" fill="none" stroke="#ffffff" stroke-width="1.2"/>
<circle cx="545.0" cy="110.6" r="1.9" fill="none" stroke="#ffffff" stroke-width="1.2"/>
<rect x="504.9" y="164.6" width="56.6" height="2.9" fill="#f6f032"/>
<rect x="504.9" y="196.7" width="56.6" height="3.0" fill="#f6f032"/>
<rect x="505.1" y="166.0" width="2.4" height="13.0" fill="#f6f032"/>
<rect x="505.1" y="190.0" width="2.4" height="8.3" fill="#f6f032"/>
<rect x="558.9" y="166.0" width="2.4" height="13.0" fill="#f6f032"/>
<rect x="558.9" y="190.0" width="2.4" height="8.3" fill="#f6f032"/>
<rect x="531.5" y="166.0" width="3.4" height="25.0" fill="#f6f032"/>
<rect x="522.4" y="188.6" width="21.6" height="2.6" fill="#f6f032"/>
<rect x="522.4" y="188.6" width="2.0" height="9.7" fill="#f6f032"/>
<rect x="542.0" y="188.6" width="2.0" height="9.7" fill="#f6f032"/>
<rect x="524.2" y="193.2" width="18.0" height="4.6" fill="#ee2a3a"/>
<rect x="520.7" y="167.6" width="25.0" height="9.5" fill="#808080"/>
<rect x="526.2" y="174.0" width="14.0" height="5.5" fill="#808080"/>
<rect x="508.6" y="169.6" width="3.2" height="4.4" fill="#2f86dc"/>
<rect x="510.2" y="174.6" width="4.2" height="18.0" fill="#ee2a3a"/>
<rect x="505.7" y="178.6" width="2.6" height="1.8" fill="#46eaea"/>
<path d="M514.9 177.0 L516.4 185.0 L514.7 189.0" fill="none" stroke="#46eaea" stroke-width="1.2"/>
<text x="523.2" y="176.2" fill="#ffffff" font-size="7.4" text-anchor="middle" font-weight="bold" >HJH</text>
<text x="521.5" y="185.7" fill="#ffffff" font-size="6.2" text-anchor="middle" font-weight="bold" >3.84</text>
<rect x="510.9" y="191.4" width="10.2" height="4.4" fill="#808080"/>
<rect x="554.6" y="169.6" width="3.2" height="4.4" fill="#2f86dc"/>
<rect x="552.0" y="174.6" width="4.2" height="18.0" fill="#ee2a3a"/>
<rect x="558.1" y="178.6" width="2.6" height="1.8" fill="#46eaea"/>
<path d="M551.5 177.0 L550.0 185.0 L551.7 189.0" fill="none" stroke="#46eaea" stroke-width="1.2"/>
<text x="543.2" y="176.2" fill="#ffffff" font-size="7.4" text-anchor="middle" font-weight="bold" >MJI</text>
<text x="544.9" y="185.7" fill="#ffffff" font-size="6.2" text-anchor="middle" font-weight="bold" >3.84</text>
<rect x="545.3" y="191.4" width="10.2" height="4.4" fill="#808080"/>
<rect x="504.6" y="164.3" width="3.4" height="3.4" fill="#f030f0"/>
<rect x="558.4" y="164.3" width="3.4" height="3.4" fill="#f030f0"/>
<rect x="531.1" y="164.5" width="4.2" height="4.2" fill="#f030f0"/>
<rect x="531.5" y="188.5" width="3.4" height="3.4" fill="#f030f0"/>
<rect x="503.4" y="195.8" width="4.6" height="4.6" fill="#f030f0"/>
<rect x="558.4" y="195.8" width="4.6" height="4.6" fill="#f030f0"/>
<path d="M525.6 199.5 H540.8 L537.2 204.7 H529.2 Z" fill="#46eaea" stroke="#46eaea" stroke-width="0.8"/>
<circle cx="530.5" cy="201.7" r="0.9" fill="#000" stroke="#000" stroke-width="0.1"/>
<circle cx="535.9" cy="201.7" r="0.9" fill="#000" stroke="#000" stroke-width="0.1"/>
<line x1="635.4" y1="104.0" x2="635.4" y2="166.0" stroke="#f6f032" stroke-width="3.0" />
<line x1="626.2" y1="95.0" x2="626.2" y2="103.6" stroke="#f6f032" stroke-width="1.6" />
<line x1="644.6" y1="95.0" x2="644.6" y2="103.6" stroke="#f6f032" stroke-width="1.6" />
<line x1="626.2" y1="103.6" x2="644.6" y2="103.6" stroke="#f6f032" stroke-width="2.2" />
<rect x="629.7" y="96.0" width="11.4" height="5.5" fill="#202020" stroke="#808080" stroke-width="1.2"/>
<rect x="624.4" y="94.9" width="3.6" height="3.6" fill="#f030f0"/>
<rect x="624.4" y="101.8" width="3.6" height="3.6" fill="#f030f0"/>
<rect x="642.8" y="94.9" width="3.6" height="3.6" fill="#f030f0"/>
<rect x="642.8" y="101.8" width="3.6" height="3.6" fill="#f030f0"/>
<path d="M633.1 103.6 L625.4 113.2" fill="none" stroke="#62e23a" stroke-width="1.4"/>
<path d="M637.7 103.6 L645.4 113.2" fill="none" stroke="#62e23a" stroke-width="1.4"/>
<circle cx="623.6" cy="110.6" r="1.9" fill="none" stroke="#ffffff" stroke-width="1.2"/>
<circle cx="647.2" cy="110.6" r="1.9" fill="none" stroke="#ffffff" stroke-width="1.2"/>
<rect x="607.1" y="164.6" width="56.6" height="2.9" fill="#f6f032"/>
<rect x="607.1" y="196.7" width="56.6" height="3.0" fill="#f6f032"/>
<rect x="607.3" y="166.0" width="2.4" height="13.0" fill="#f6f032"/>
<rect x="607.3" y="190.0" width="2.4" height="8.3" fill="#f6f032"/>
<rect x="661.1" y="166.0" width="2.4" height="13.0" fill="#f6f032"/>
<rect x="661.1" y="190.0" width="2.4" height="8.3" fill="#f6f032"/>
<rect x="633.7" y="166.0" width="3.4" height="25.0" fill="#f6f032"/>
<rect x="624.6" y="188.6" width="21.6" height="2.6" fill="#f6f032"/>
<rect x="624.6" y="188.6" width="2.0" height="9.7" fill="#f6f032"/>
<rect x="644.2" y="188.6" width="2.0" height="9.7" fill="#f6f032"/>
<rect x="626.4" y="193.2" width="18.0" height="4.6" fill="#ee2a3a"/>
<rect x="622.9" y="167.6" width="25.0" height="9.5" fill="#808080"/>
<rect x="628.4" y="174.0" width="14.0" height="5.5" fill="#808080"/>
<rect x="610.8" y="169.6" width="3.2" height="4.4" fill="#2f86dc"/>
<rect x="612.4" y="174.6" width="4.2" height="18.0" fill="#ee2a3a"/>
<rect x="607.9" y="178.6" width="2.6" height="1.8" fill="#46eaea"/>
<path d="M617.1 177.0 L618.6 185.0 L616.9 189.0" fill="none" stroke="#46eaea" stroke-width="1.2"/>
<text x="625.4" y="176.2" fill="#ffffff" font-size="7.4" text-anchor="middle" font-weight="bold" >HJH</text>
<text x="623.7" y="185.7" fill="#ffffff" font-size="6.2" text-anchor="middle" font-weight="bold" >3.84</text>
<rect x="613.1" y="191.4" width="10.2" height="4.4" fill="#808080"/>
<rect x="656.8" y="169.6" width="3.2" height="4.4" fill="#2f86dc"/>
<rect x="654.2" y="174.6" width="4.2" height="18.0" fill="#ee2a3a"/>
<rect x="660.3" y="178.6" width="2.6" height="1.8" fill="#46eaea"/>
<path d="M653.7 177.0 L652.2 185.0 L653.9 189.0" fill="none" stroke="#46eaea" stroke-width="1.2"/>
<text x="645.4" y="176.2" fill="#ffffff" font-size="7.4" text-anchor="middle" font-weight="bold" >MJI</text>
<text x="647.1" y="185.7" fill="#ffffff" font-size="6.2" text-anchor="middle" font-weight="bold" >3.84</text>
<rect x="647.5" y="191.4" width="10.2" height="4.4" fill="#808080"/>
<rect x="606.8" y="164.3" width="3.4" height="3.4" fill="#f030f0"/>
<rect x="660.6" y="164.3" width="3.4" height="3.4" fill="#f030f0"/>
<rect x="633.3" y="164.5" width="4.2" height="4.2" fill="#f030f0"/>
<rect x="633.7" y="188.5" width="3.4" height="3.4" fill="#f030f0"/>
<rect x="605.6" y="195.8" width="4.6" height="4.6" fill="#f030f0"/>
<rect x="660.6" y="195.8" width="4.6" height="4.6" fill="#f030f0"/>
<path d="M627.8 199.5 H643.0 L639.4 204.7 H631.4 Z" fill="#46eaea" stroke="#46eaea" stroke-width="0.8"/>
<circle cx="632.7" cy="201.7" r="0.9" fill="#000" stroke="#000" stroke-width="0.1"/>
<circle cx="638.1" cy="201.7" r="0.9" fill="#000" stroke="#000" stroke-width="0.1"/>
<line x1="737.5" y1="104.0" x2="737.5" y2="166.0" stroke="#f6f032" stroke-width="3.0" />
<line x1="728.3" y1="95.0" x2="728.3" y2="103.6" stroke="#f6f032" stroke-width="1.6" />
<line x1="746.7" y1="95.0" x2="746.7" y2="103.6" stroke="#f6f032" stroke-width="1.6" />
<line x1="728.3" y1="103.6" x2="746.7" y2="103.6" stroke="#f6f032" stroke-width="2.2" />
<rect x="731.8" y="96.0" width="11.4" height="5.5" fill="#202020" stroke="#808080" stroke-width="1.2"/>
<rect x="726.5" y="94.9" width="3.6" height="3.6" fill="#f030f0"/>
<rect x="726.5" y="101.8" width="3.6" height="3.6" fill="#f030f0"/>
<rect x="744.9" y="94.9" width="3.6" height="3.6" fill="#f030f0"/>
<rect x="744.9" y="101.8" width="3.6" height="3.6" fill="#f030f0"/>
<path d="M735.2 103.6 L727.5 113.2" fill="none" stroke="#62e23a" stroke-width="1.4"/>
<path d="M739.8 103.6 L747.5 113.2" fill="none" stroke="#62e23a" stroke-width="1.4"/>
<circle cx="725.7" cy="110.6" r="1.9" fill="none" stroke="#ffffff" stroke-width="1.2"/>
<circle cx="749.3" cy="110.6" r="1.9" fill="none" stroke="#ffffff" stroke-width="1.2"/>
<rect x="709.2" y="164.6" width="56.6" height="2.9" fill="#f6f032"/>
<rect x="709.2" y="196.7" width="56.6" height="3.0" fill="#f6f032"/>
<rect x="709.4" y="166.0" width="2.4" height="13.0" fill="#f6f032"/>
<rect x="709.4" y="190.0" width="2.4" height="8.3" fill="#f6f032"/>
<rect x="763.2" y="166.0" width="2.4" height="13.0" fill="#f6f032"/>
<rect x="763.2" y="190.0" width="2.4" height="8.3" fill="#f6f032"/>
<rect x="735.8" y="166.0" width="3.4" height="25.0" fill="#f6f032"/>
<rect x="726.7" y="188.6" width="21.6" height="2.6" fill="#f6f032"/>
<rect x="726.7" y="188.6" width="2.0" height="9.7" fill="#f6f032"/>
<rect x="746.3" y="188.6" width="2.0" height="9.7" fill="#f6f032"/>
<rect x="728.5" y="193.2" width="18.0" height="4.6" fill="#ee2a3a"/>
<rect x="725.0" y="167.6" width="25.0" height="9.5" fill="#808080"/>
<rect x="730.5" y="174.0" width="14.0" height="5.5" fill="#808080"/>
<rect x="712.9" y="169.6" width="3.2" height="4.4" fill="#2f86dc"/>
<rect x="714.5" y="174.6" width="4.2" height="18.0" fill="#ee2a3a"/>
<rect x="710.0" y="178.6" width="2.6" height="1.8" fill="#46eaea"/>
<path d="M719.2 177.0 L720.7 185.0 L719.0 189.0" fill="none" stroke="#46eaea" stroke-width="1.2"/>
<text x="727.5" y="176.2" fill="#ffffff" font-size="7.4" text-anchor="middle" font-weight="bold" >HJH</text>
<text x="725.8" y="185.7" fill="#ffffff" font-size="6.2" text-anchor="middle" font-weight="bold" >3.84</text>
<rect x="715.2" y="191.4" width="10.2" height="4.4" fill="#808080"/>
<rect x="758.9" y="169.6" width="3.2" height="4.4" fill="#2f86dc"/>
<rect x="756.3" y="174.6" width="4.2" height="18.0" fill="#ee2a3a"/>
<rect x="762.4" y="178.6" width="2.6" height="1.8" fill="#46eaea"/>
<path d="M755.8 177.0 L754.3 185.0 L756.0 189.0" fill="none" stroke="#46eaea" stroke-width="1.2"/>
<text x="747.5" y="176.2" fill="#ffffff" font-size="7.4" text-anchor="middle" font-weight="bold" >MJI</text>
<text x="749.2" y="185.7" fill="#ffffff" font-size="6.2" text-anchor="middle" font-weight="bold" >3.84</text>
<rect x="749.6" y="191.4" width="10.2" height="4.4" fill="#808080"/>
<rect x="708.9" y="164.3" width="3.4" height="3.4" fill="#f030f0"/>
<rect x="762.7" y="164.3" width="3.4" height="3.4" fill="#f030f0"/>
<rect x="735.4" y="164.5" width="4.2" height="4.2" fill="#f030f0"/>
<rect x="735.8" y="188.5" width="3.4" height="3.4" fill="#f030f0"/>
<rect x="707.7" y="195.8" width="4.6" height="4.6" fill="#f030f0"/>
<rect x="762.7" y="195.8" width="4.6" height="4.6" fill="#f030f0"/>
<path d="M729.9 199.5 H745.1 L741.5 204.7 H733.5 Z" fill="#46eaea" stroke="#46eaea" stroke-width="0.8"/>
<circle cx="734.8" cy="201.7" r="0.9" fill="#000" stroke="#000" stroke-width="0.1"/>
<circle cx="740.2" cy="201.7" r="0.9" fill="#000" stroke="#000" stroke-width="0.1"/>
<line x1="839.5" y1="104.0" x2="839.5" y2="166.0" stroke="#f6f032" stroke-width="3.0" />
<line x1="830.3" y1="95.0" x2="830.3" y2="103.6" stroke="#f6f032" stroke-width="1.6" />
<line x1="848.7" y1="95.0" x2="848.7" y2="103.6" stroke="#f6f032" stroke-width="1.6" />
<line x1="830.3" y1="103.6" x2="848.7" y2="103.6" stroke="#f6f032" stroke-width="2.2" />
<rect x="833.8" y="96.0" width="11.4" height="5.5" fill="#202020" stroke="#808080" stroke-width="1.2"/>
<rect x="828.5" y="94.9" width="3.6" height="3.6" fill="#f030f0"/>
<rect x="828.5" y="101.8" width="3.6" height="3.6" fill="#f030f0"/>
<rect x="846.9" y="94.9" width="3.6" height="3.6" fill="#f030f0"/>
<rect x="846.9" y="101.8" width="3.6" height="3.6" fill="#f030f0"/>
<path d="M837.2 103.6 L829.5 113.2" fill="none" stroke="#62e23a" stroke-width="1.4"/>
<path d="M841.8 103.6 L849.5 113.2" fill="none" stroke="#62e23a" stroke-width="1.4"/>
<circle cx="827.7" cy="110.6" r="1.9" fill="none" stroke="#ffffff" stroke-width="1.2"/>
<circle cx="851.3" cy="110.6" r="1.9" fill="none" stroke="#ffffff" stroke-width="1.2"/>
<rect x="811.2" y="164.6" width="56.6" height="2.9" fill="#f6f032"/>
<rect x="811.2" y="196.7" width="56.6" height="3.0" fill="#f6f032"/>
<rect x="811.4" y="166.0" width="2.4" height="13.0" fill="#f6f032"/>
<rect x="811.4" y="190.0" width="2.4" height="8.3" fill="#f6f032"/>
<rect x="865.2" y="166.0" width="2.4" height="13.0" fill="#f6f032"/>
<rect x="865.2" y="190.0" width="2.4" height="8.3" fill="#f6f032"/>
<rect x="837.8" y="166.0" width="3.4" height="25.0" fill="#f6f032"/>
<rect x="828.7" y="188.6" width="21.6" height="2.6" fill="#f6f032"/>
<rect x="828.7" y="188.6" width="2.0" height="9.7" fill="#f6f032"/>
<rect x="848.3" y="188.6" width="2.0" height="9.7" fill="#f6f032"/>
<rect x="830.5" y="193.2" width="18.0" height="4.6" fill="#ee2a3a"/>
<rect x="827.0" y="167.6" width="25.0" height="9.5" fill="#808080"/>
<rect x="832.5" y="174.0" width="14.0" height="5.5" fill="#808080"/>
<rect x="814.9" y="169.6" width="3.2" height="4.4" fill="#2f86dc"/>
<rect x="816.5" y="174.6" width="4.2" height="18.0" fill="#ee2a3a"/>
<rect x="812.0" y="178.6" width="2.6" height="1.8" fill="#46eaea"/>
<path d="M821.2 177.0 L822.7 185.0 L821.0 189.0" fill="none" stroke="#46eaea" stroke-width="1.2"/>
<text x="829.5" y="176.2" fill="#ffffff" font-size="7.4" text-anchor="middle" font-weight="bold" >HJH</text>
<text x="827.8" y="185.7" fill="#ffffff" font-size="6.2" text-anchor="middle" font-weight="bold" >3.84</text>
<rect x="817.2" y="191.4" width="10.2" height="4.4" fill="#808080"/>
<rect x="860.9" y="169.6" width="3.2" height="4.4" fill="#2f86dc"/>
<rect x="858.3" y="174.6" width="4.2" height="18.0" fill="#ee2a3a"/>
<rect x="864.4" y="178.6" width="2.6" height="1.8" fill="#46eaea"/>
<path d="M857.8 177.0 L856.3 185.0 L858.0 189.0" fill="none" stroke="#46eaea" stroke-width="1.2"/>
<text x="849.5" y="176.2" fill="#ffffff" font-size="7.4" text-anchor="middle" font-weight="bold" >MJI</text>
<text x="851.2" y="185.7" fill="#ffffff" font-size="6.2" text-anchor="middle" font-weight="bold" >3.84</text>
<rect x="851.6" y="191.4" width="10.2" height="4.4" fill="#808080"/>
<rect x="810.9" y="164.3" width="3.4" height="3.4" fill="#f030f0"/>
<rect x="864.7" y="164.3" width="3.4" height="3.4" fill="#f030f0"/>
<rect x="837.4" y="164.5" width="4.2" height="4.2" fill="#f030f0"/>
<rect x="837.8" y="188.5" width="3.4" height="3.4" fill="#f030f0"/>
<rect x="809.7" y="195.8" width="4.6" height="4.6" fill="#f030f0"/>
<rect x="864.7" y="195.8" width="4.6" height="4.6" fill="#f030f0"/>
<path d="M831.9 199.5 H847.1 L843.5 204.7 H835.5 Z" fill="#46eaea" stroke="#46eaea" stroke-width="0.8"/>
<circle cx="836.8" cy="201.7" r="0.9" fill="#000" stroke="#000" stroke-width="0.1"/>
<circle cx="842.2" cy="201.7" r="0.9" fill="#000" stroke="#000" stroke-width="0.1"/>
<line x1="533.2" y1="254.0" x2="533.2" y2="314.0" stroke="#f6f032" stroke-width="3.0" />
<line x1="524.0" y1="325.8" x2="524.0" y2="317.2" stroke="#f6f032" stroke-width="1.6" />
<line x1="542.4" y1="325.8" x2="542.4" y2="317.2" stroke="#f6f032" stroke-width="1.6" />
<line x1="524.0" y1="317.2" x2="542.4" y2="317.2" stroke="#f6f032" stroke-width="2.2" />
<rect x="527.5" y="319.3" width="11.4" height="5.5" fill="#202020" stroke="#808080" stroke-width="1.2"/>
<rect x="522.2" y="322.3" width="3.6" height="3.6" fill="#f030f0"/>
<rect x="522.2" y="315.4" width="3.6" height="3.6" fill="#f030f0"/>
<rect x="540.6" y="322.3" width="3.6" height="3.6" fill="#f030f0"/>
<rect x="540.6" y="315.4" width="3.6" height="3.6" fill="#f030f0"/>
<path d="M530.9 317.2 L523.2 307.6" fill="none" stroke="#62e23a" stroke-width="1.4"/>
<path d="M535.5 317.2 L543.2 307.6" fill="none" stroke="#62e23a" stroke-width="1.4"/>
<circle cx="521.4" cy="310.2" r="1.9" fill="none" stroke="#ffffff" stroke-width="1.2"/>
<circle cx="545.0" cy="310.2" r="1.9" fill="none" stroke="#ffffff" stroke-width="1.2"/>
<rect x="504.9" y="252.5" width="56.6" height="2.9" fill="#f6f032"/>
<rect x="504.9" y="220.4" width="56.6" height="3.0" fill="#f6f032"/>
<rect x="505.1" y="241.0" width="2.4" height="13.0" fill="#f6f032"/>
<rect x="505.1" y="221.8" width="2.4" height="8.2" fill="#f6f032"/>
<rect x="558.9" y="241.0" width="2.4" height="13.0" fill="#f6f032"/>
<rect x="558.9" y="221.8" width="2.4" height="8.2" fill="#f6f032"/>
<rect x="531.5" y="229.0" width="3.4" height="25.0" fill="#f6f032"/>
<rect x="522.4" y="228.8" width="21.6" height="2.6" fill="#f6f032"/>
<rect x="522.4" y="221.8" width="2.0" height="9.6" fill="#f6f032"/>
<rect x="542.0" y="221.8" width="2.0" height="9.6" fill="#f6f032"/>
<rect x="524.2" y="222.2" width="18.0" height="4.6" fill="#ee2a3a"/>
<rect x="520.7" y="242.9" width="25.0" height="9.5" fill="#808080"/>
<rect x="526.2" y="240.5" width="14.0" height="5.5" fill="#808080"/>
<rect x="508.6" y="246.0" width="3.2" height="4.4" fill="#2f86dc"/>
<rect x="510.2" y="227.4" width="4.2" height="18.0" fill="#ee2a3a"/>
<rect x="505.7" y="239.6" width="2.6" height="1.8" fill="#46eaea"/>
<path d="M514.9 243.0 L516.4 235.0 L514.7 231.0" fill="none" stroke="#46eaea" stroke-width="1.2"/>
<text x="523.2" y="249.0" fill="#ffffff" font-size="7.4" text-anchor="middle" font-weight="bold" >HJH</text>
<text x="521.5" y="238.5" fill="#ffffff" font-size="6.2" text-anchor="middle" font-weight="bold" >3.84</text>
<rect x="510.9" y="224.2" width="10.2" height="4.4" fill="#808080"/>
<rect x="554.6" y="246.0" width="3.2" height="4.4" fill="#2f86dc"/>
<rect x="552.0" y="227.4" width="4.2" height="18.0" fill="#ee2a3a"/>
<rect x="558.1" y="239.6" width="2.6" height="1.8" fill="#46eaea"/>
<path d="M551.5 243.0 L550.0 235.0 L551.7 231.0" fill="none" stroke="#46eaea" stroke-width="1.2"/>
<text x="543.2" y="249.0" fill="#ffffff" font-size="7.4" text-anchor="middle" font-weight="bold" >MJI</text>
<text x="544.9" y="238.5" fill="#ffffff" font-size="6.2" text-anchor="middle" font-weight="bold" >3.84</text>
<rect x="545.3" y="224.2" width="10.2" height="4.4" fill="#808080"/>
<rect x="504.6" y="252.3" width="3.4" height="3.4" fill="#f030f0"/>
<rect x="558.4" y="252.3" width="3.4" height="3.4" fill="#f030f0"/>
<rect x="531.1" y="251.3" width="4.2" height="4.2" fill="#f030f0"/>
<rect x="531.5" y="228.1" width="3.4" height="3.4" fill="#f030f0"/>
<rect x="503.4" y="219.7" width="4.6" height="4.6" fill="#f030f0"/>
<rect x="558.4" y="219.7" width="4.6" height="4.6" fill="#f030f0"/>
<path d="M525.6 220.6 H540.8 L537.2 215.4 H529.2 Z" fill="#46eaea" stroke="#46eaea" stroke-width="0.8"/>
<circle cx="530.5" cy="218.4" r="0.9" fill="#000" stroke="#000" stroke-width="0.1"/>
<circle cx="535.9" cy="218.4" r="0.9" fill="#000" stroke="#000" stroke-width="0.1"/>
<line x1="635.4" y1="254.0" x2="635.4" y2="314.0" stroke="#f6f032" stroke-width="3.0" />
<line x1="626.2" y1="325.8" x2="626.2" y2="317.2" stroke="#f6f032" stroke-width="1.6" />
<line x1="644.6" y1="325.8" x2="644.6" y2="317.2" stroke="#f6f032" stroke-width="1.6" />
<line x1="626.2" y1="317.2" x2="644.6" y2="317.2" stroke="#f6f032" stroke-width="2.2" />
<rect x="629.7" y="319.3" width="11.4" height="5.5" fill="#202020" stroke="#808080" stroke-width="1.2"/>
<rect x="624.4" y="322.3" width="3.6" height="3.6" fill="#f030f0"/>
<rect x="624.4" y="315.4" width="3.6" height="3.6" fill="#f030f0"/>
<rect x="642.8" y="322.3" width="3.6" height="3.6" fill="#f030f0"/>
<rect x="642.8" y="315.4" width="3.6" height="3.6" fill="#f030f0"/>
<path d="M633.1 317.2 L625.4 307.6" fill="none" stroke="#62e23a" stroke-width="1.4"/>
<path d="M637.7 317.2 L645.4 307.6" fill="none" stroke="#62e23a" stroke-width="1.4"/>
<circle cx="623.6" cy="310.2" r="1.9" fill="none" stroke="#ffffff" stroke-width="1.2"/>
<circle cx="647.2" cy="310.2" r="1.9" fill="none" stroke="#ffffff" stroke-width="1.2"/>
<rect x="607.1" y="252.5" width="56.6" height="2.9" fill="#f6f032"/>
<rect x="607.1" y="220.4" width="56.6" height="3.0" fill="#f6f032"/>
<rect x="607.3" y="241.0" width="2.4" height="13.0" fill="#f6f032"/>
<rect x="607.3" y="221.8" width="2.4" height="8.2" fill="#f6f032"/>
<rect x="661.1" y="241.0" width="2.4" height="13.0" fill="#f6f032"/>
<rect x="661.1" y="221.8" width="2.4" height="8.2" fill="#f6f032"/>
<rect x="633.7" y="229.0" width="3.4" height="25.0" fill="#f6f032"/>
<rect x="624.6" y="228.8" width="21.6" height="2.6" fill="#f6f032"/>
<rect x="624.6" y="221.8" width="2.0" height="9.6" fill="#f6f032"/>
<rect x="644.2" y="221.8" width="2.0" height="9.6" fill="#f6f032"/>
<rect x="626.4" y="222.2" width="18.0" height="4.6" fill="#ee2a3a"/>
<rect x="622.9" y="242.9" width="25.0" height="9.5" fill="#808080"/>
<rect x="628.4" y="240.5" width="14.0" height="5.5" fill="#808080"/>
<rect x="610.8" y="246.0" width="3.2" height="4.4" fill="#2f86dc"/>
<rect x="612.4" y="227.4" width="4.2" height="18.0" fill="#ee2a3a"/>
<rect x="607.9" y="239.6" width="2.6" height="1.8" fill="#46eaea"/>
<path d="M617.1 243.0 L618.6 235.0 L616.9 231.0" fill="none" stroke="#46eaea" stroke-width="1.2"/>
<text x="625.4" y="249.0" fill="#ffffff" font-size="7.4" text-anchor="middle" font-weight="bold" >HJH</text>
<text x="623.7" y="238.5" fill="#ffffff" font-size="6.2" text-anchor="middle" font-weight="bold" >3.84</text>
<rect x="613.1" y="224.2" width="10.2" height="4.4" fill="#808080"/>
<rect x="656.8" y="246.0" width="3.2" height="4.4" fill="#2f86dc"/>
<rect x="654.2" y="227.4" width="4.2" height="18.0" fill="#ee2a3a"/>
<rect x="660.3" y="239.6" width="2.6" height="1.8" fill="#46eaea"/>
<path d="M653.7 243.0 L652.2 235.0 L653.9 231.0" fill="none" stroke="#46eaea" stroke-width="1.2"/>
<text x="645.4" y="249.0" fill="#ffffff" font-size="7.4" text-anchor="middle" font-weight="bold" >MJI</text>
<text x="647.1" y="238.5" fill="#ffffff" font-size="6.2" text-anchor="middle" font-weight="bold" >3.84</text>
<rect x="647.5" y="224.2" width="10.2" height="4.4" fill="#808080"/>
<rect x="606.8" y="252.3" width="3.4" height="3.4" fill="#f030f0"/>
<rect x="660.6" y="252.3" width="3.4" height="3.4" fill="#f030f0"/>
<rect x="633.3" y="251.3" width="4.2" height="4.2" fill="#f030f0"/>
<rect x="633.7" y="228.1" width="3.4" height="3.4" fill="#f030f0"/>
<rect x="605.6" y="219.7" width="4.6" height="4.6" fill="#f030f0"/>
<rect x="660.6" y="219.7" width="4.6" height="4.6" fill="#f030f0"/>
<path d="M627.8 220.6 H643.0 L639.4 215.4 H631.4 Z" fill="#46eaea" stroke="#46eaea" stroke-width="0.8"/>
<circle cx="632.7" cy="218.4" r="0.9" fill="#000" stroke="#000" stroke-width="0.1"/>
<circle cx="638.1" cy="218.4" r="0.9" fill="#000" stroke="#000" stroke-width="0.1"/>
<line x1="737.5" y1="254.0" x2="737.5" y2="314.0" stroke="#f6f032" stroke-width="3.0" />
<line x1="728.3" y1="325.8" x2="728.3" y2="317.2" stroke="#f6f032" stroke-width="1.6" />
<line x1="746.7" y1="325.8" x2="746.7" y2="317.2" stroke="#f6f032" stroke-width="1.6" />
<line x1="728.3" y1="317.2" x2="746.7" y2="317.2" stroke="#f6f032" stroke-width="2.2" />
<rect x="731.8" y="319.3" width="11.4" height="5.5" fill="#202020" stroke="#808080" stroke-width="1.2"/>
<rect x="726.5" y="322.3" width="3.6" height="3.6" fill="#f030f0"/>
<rect x="726.5" y="315.4" width="3.6" height="3.6" fill="#f030f0"/>
<rect x="744.9" y="322.3" width="3.6" height="3.6" fill="#f030f0"/>
<rect x="744.9" y="315.4" width="3.6" height="3.6" fill="#f030f0"/>
<path d="M735.2 317.2 L727.5 307.6" fill="none" stroke="#62e23a" stroke-width="1.4"/>
<path d="M739.8 317.2 L747.5 307.6" fill="none" stroke="#62e23a" stroke-width="1.4"/>
<circle cx="725.7" cy="310.2" r="1.9" fill="none" stroke="#ffffff" stroke-width="1.2"/>
<circle cx="749.3" cy="310.2" r="1.9" fill="none" stroke="#ffffff" stroke-width="1.2"/>
<rect x="709.2" y="252.5" width="56.6" height="2.9" fill="#f6f032"/>
<rect x="709.2" y="220.4" width="56.6" height="3.0" fill="#f6f032"/>
<rect x="709.4" y="241.0" width="2.4" height="13.0" fill="#f6f032"/>
<rect x="709.4" y="221.8" width="2.4" height="8.2" fill="#f6f032"/>
<rect x="763.2" y="241.0" width="2.4" height="13.0" fill="#f6f032"/>
<rect x="763.2" y="221.8" width="2.4" height="8.2" fill="#f6f032"/>
<rect x="735.8" y="229.0" width="3.4" height="25.0" fill="#f6f032"/>
<rect x="726.7" y="228.8" width="21.6" height="2.6" fill="#f6f032"/>
<rect x="726.7" y="221.8" width="2.0" height="9.6" fill="#f6f032"/>
<rect x="746.3" y="221.8" width="2.0" height="9.6" fill="#f6f032"/>
<rect x="728.5" y="222.2" width="18.0" height="4.6" fill="#ee2a3a"/>
<rect x="725.0" y="242.9" width="25.0" height="9.5" fill="#808080"/>
<rect x="730.5" y="240.5" width="14.0" height="5.5" fill="#808080"/>
<rect x="712.9" y="246.0" width="3.2" height="4.4" fill="#2f86dc"/>
<rect x="714.5" y="227.4" width="4.2" height="18.0" fill="#ee2a3a"/>
<rect x="710.0" y="239.6" width="2.6" height="1.8" fill="#46eaea"/>
<path d="M719.2 243.0 L720.7 235.0 L719.0 231.0" fill="none" stroke="#46eaea" stroke-width="1.2"/>
<text x="727.5" y="249.0" fill="#ffffff" font-size="7.4" text-anchor="middle" font-weight="bold" >HJH</text>
<text x="725.8" y="238.5" fill="#ffffff" font-size="6.2" text-anchor="middle" font-weight="bold" >3.84</text>
<rect x="715.2" y="224.2" width="10.2" height="4.4" fill="#808080"/>
<rect x="758.9" y="246.0" width="3.2" height="4.4" fill="#2f86dc"/>
<rect x="756.3" y="227.4" width="4.2" height="18.0" fill="#ee2a3a"/>
<rect x="762.4" y="239.6" width="2.6" height="1.8" fill="#46eaea"/>
<path d="M755.8 243.0 L754.3 235.0 L756.0 231.0" fill="none" stroke="#46eaea" stroke-width="1.2"/>
<text x="747.5" y="249.0" fill="#ffffff" font-size="7.4" text-anchor="middle" font-weight="bold" >MJI</text>
<text x="749.2" y="238.5" fill="#ffffff" font-size="6.2" text-anchor="middle" font-weight="bold" >3.84</text>
<rect x="749.6" y="224.2" width="10.2" height="4.4" fill="#808080"/>
<rect x="708.9" y="252.3" width="3.4" height="3.4" fill="#f030f0"/>
<rect x="762.7" y="252.3" width="3.4" height="3.4" fill="#f030f0"/>
<rect x="735.4" y="251.3" width="4.2" height="4.2" fill="#f030f0"/>
<rect x="735.8" y="228.1" width="3.4" height="3.4" fill="#f030f0"/>
<rect x="707.7" y="219.7" width="4.6" height="4.6" fill="#f030f0"/>
<rect x="762.7" y="219.7" width="4.6" height="4.6" fill="#f030f0"/>
<path d="M729.9 220.6 H745.1 L741.5 215.4 H733.5 Z" fill="#46eaea" stroke="#46eaea" stroke-width="0.8"/>
<circle cx="734.8" cy="218.4" r="0.9" fill="#000" stroke="#000" stroke-width="0.1"/>
<circle cx="740.2" cy="218.4" r="0.9" fill="#000" stroke="#000" stroke-width="0.1"/>
<rect x="296.7" y="252.5" width="56.6" height="2.9" fill="#f6f032"/>
<rect x="296.7" y="220.4" width="56.6" height="3.0" fill="#f6f032"/>
<rect x="296.9" y="241.0" width="2.4" height="13.0" fill="#f6f032"/>
<rect x="296.9" y="221.8" width="2.4" height="8.2" fill="#f6f032"/>
<rect x="350.7" y="241.0" width="2.4" height="13.0" fill="#f6f032"/>
<rect x="350.7" y="221.8" width="2.4" height="8.2" fill="#f6f032"/>
<rect x="323.3" y="229.0" width="3.4" height="25.0" fill="#f6f032"/>
<rect x="314.2" y="228.8" width="21.6" height="2.6" fill="#f6f032"/>
<rect x="314.2" y="221.8" width="2.0" height="9.6" fill="#f6f032"/>
<rect x="333.8" y="221.8" width="2.0" height="9.6" fill="#f6f032"/>
<rect x="316.0" y="222.2" width="18.0" height="4.6" fill="#ee2a3a"/>
<rect x="312.5" y="242.9" width="25.0" height="9.5" fill="#808080"/>
<rect x="318.0" y="240.5" width="14.0" height="5.5" fill="#808080"/>
<rect x="300.4" y="246.0" width="3.2" height="4.4" fill="#2f86dc"/>
<rect x="302.0" y="227.4" width="4.2" height="18.0" fill="#ee2a3a"/>
<rect x="297.5" y="239.6" width="2.6" height="1.8" fill="#46eaea"/>
<path d="M306.7 243.0 L308.2 235.0 L306.5 231.0" fill="none" stroke="#46eaea" stroke-width="1.2"/>
<text x="315.0" y="249.0" fill="#ffffff" font-size="7.4" text-anchor="middle" font-weight="bold" >HJH</text>
<text x="313.3" y="238.5" fill="#ffffff" font-size="6.2" text-anchor="middle" font-weight="bold" >3.84</text>
<rect x="302.7" y="224.2" width="10.2" height="4.4" fill="#808080"/>
<rect x="346.4" y="246.0" width="3.2" height="4.4" fill="#2f86dc"/>
<rect x="343.8" y="227.4" width="4.2" height="18.0" fill="#ee2a3a"/>
<rect x="349.9" y="239.6" width="2.6" height="1.8" fill="#46eaea"/>
<path d="M343.3 243.0 L341.8 235.0 L343.5 231.0" fill="none" stroke="#46eaea" stroke-width="1.2"/>
<text x="335.0" y="249.0" fill="#ffffff" font-size="7.4" text-anchor="middle" font-weight="bold" >MJI</text>
<text x="336.7" y="238.5" fill="#ffffff" font-size="6.2" text-anchor="middle" font-weight="bold" >3.84</text>
<rect x="337.1" y="224.2" width="10.2" height="4.4" fill="#808080"/>
<rect x="296.4" y="252.3" width="3.4" height="3.4" fill="#f030f0"/>
<rect x="350.2" y="252.3" width="3.4" height="3.4" fill="#f030f0"/>
<rect x="322.9" y="251.3" width="4.2" height="4.2" fill="#f030f0"/>
<rect x="323.3" y="228.1" width="3.4" height="3.4" fill="#f030f0"/>
<rect x="295.2" y="219.7" width="4.6" height="4.6" fill="#f030f0"/>
<rect x="350.2" y="219.7" width="4.6" height="4.6" fill="#f030f0"/>
<path d="M317.4 220.6 H332.6 L329.0 215.4 H321.0 Z" fill="#46eaea" stroke="#46eaea" stroke-width="0.8"/>
<circle cx="322.3" cy="218.4" r="0.9" fill="#000" stroke="#000" stroke-width="0.1"/>
<circle cx="327.7" cy="218.4" r="0.9" fill="#000" stroke="#000" stroke-width="0.1"/>
<line x1="322.8" y1="254.0" x2="322.8" y2="299.0" stroke="#f6f032" stroke-width="1.5" />
<line x1="327.2" y1="254.0" x2="327.2" y2="299.0" stroke="#f6f032" stroke-width="1.5" />
<line x1="473.5" y1="197.8" x2="490.7" y2="197.8" stroke="#f6f032" stroke-width="2.6" />
<rect x="480.4" y="195.9" width="3.8" height="3.8" fill="#f030f0"/>
<line x1="458.3" y1="197.8" x2="461.6" y2="197.8" stroke="#f6f032" stroke-width="2.6" />
<rect x="475.7" y="191.4" width="3.2" height="4.0" fill="#2f86dc"/>
<path d="M461.6 197.8 V193.8 L469.0 186.0 H473.7" fill="none" stroke="#46eaea" stroke-width="1.3"/>
<rect x="472.4" y="185.4" width="2.6" height="12.4" fill="#46eaea"/>
<rect x="462.6" y="200.9" width="10.1" height="2.5" fill="#ee2a3a"/>
<rect x="462.6" y="200.9" width="1.6" height="4.6" fill="#ee2a3a"/>
<rect x="466.0" y="200.9" width="1.6" height="4.6" fill="#ee2a3a"/>
<rect x="469.3" y="200.9" width="1.6" height="4.6" fill="#ee2a3a"/>
<line x1="506.3" y1="197.8" x2="503.0" y2="197.8" stroke="#f6f032" stroke-width="2.6" />
<rect x="485.7" y="191.4" width="3.2" height="4.0" fill="#2f86dc"/>
<path d="M503.0 197.8 V193.8 L495.6 186.0 H490.9" fill="none" stroke="#46eaea" stroke-width="1.3"/>
<rect x="489.6" y="185.4" width="2.6" height="12.4" fill="#46eaea"/>
<rect x="491.9" y="200.9" width="10.1" height="2.5" fill="#ee2a3a"/>
<rect x="491.9" y="200.9" width="1.6" height="4.6" fill="#ee2a3a"/>
<rect x="495.3" y="200.9" width="1.6" height="4.6" fill="#ee2a3a"/>
<rect x="498.6" y="200.9" width="1.6" height="4.6" fill="#ee2a3a"/>
<line x1="575.7" y1="197.8" x2="592.9" y2="197.8" stroke="#f6f032" stroke-width="2.6" />
<rect x="582.6" y="195.9" width="3.8" height="3.8" fill="#f030f0"/>
<line x1="560.5" y1="197.8" x2="563.8" y2="197.8" stroke="#f6f032" stroke-width="2.6" />
<rect x="577.9" y="191.4" width="3.2" height="4.0" fill="#2f86dc"/>
<path d="M563.8 197.8 V193.8 L571.2 186.0 H575.9" fill="none" stroke="#46eaea" stroke-width="1.3"/>
<rect x="574.6" y="185.4" width="2.6" height="12.4" fill="#46eaea"/>
<rect x="564.8" y="200.9" width="10.1" height="2.5" fill="#ee2a3a"/>
<rect x="564.8" y="200.9" width="1.6" height="4.6" fill="#ee2a3a"/>
<rect x="568.2" y="200.9" width="1.6" height="4.6" fill="#ee2a3a"/>
<rect x="571.5" y="200.9" width="1.6" height="4.6" fill="#ee2a3a"/>
<line x1="608.5" y1="197.8" x2="605.2" y2="197.8" stroke="#f6f032" stroke-width="2.6" />
<rect x="587.9" y="191.4" width="3.2" height="4.0" fill="#2f86dc"/>
<path d="M605.2 197.8 V193.8 L597.8 186.0 H593.1" fill="none" stroke="#46eaea" stroke-width="1.3"/>
<rect x="591.8" y="185.4" width="2.6" height="12.4" fill="#46eaea"/>
<rect x="594.1" y="200.9" width="10.1" height="2.5" fill="#ee2a3a"/>
<rect x="594.1" y="200.9" width="1.6" height="4.6" fill="#ee2a3a"/>
<rect x="597.5" y="200.9" width="1.6" height="4.6" fill="#ee2a3a"/>
<rect x="600.8" y="200.9" width="1.6" height="4.6" fill="#ee2a3a"/>
<line x1="677.7" y1="197.8" x2="694.9" y2="197.8" stroke="#f6f032" stroke-width="2.6" />
<rect x="684.6" y="195.9" width="3.8" height="3.8" fill="#f030f0"/>
<line x1="662.5" y1="197.8" x2="665.8" y2="197.8" stroke="#f6f032" stroke-width="2.6" />
<rect x="679.9" y="191.4" width="3.2" height="4.0" fill="#2f86dc"/>
<path d="M665.8 197.8 V193.8 L673.2 186.0 H677.9" fill="none" stroke="#46eaea" stroke-width="1.3"/>
<rect x="676.6" y="185.4" width="2.6" height="12.4" fill="#46eaea"/>
<rect x="666.8" y="200.9" width="10.1" height="2.5" fill="#ee2a3a"/>
<rect x="666.8" y="200.9" width="1.6" height="4.6" fill="#ee2a3a"/>
<rect x="670.2" y="200.9" width="1.6" height="4.6" fill="#ee2a3a"/>
<rect x="673.5" y="200.9" width="1.6" height="4.6" fill="#ee2a3a"/>
<line x1="710.5" y1="197.8" x2="707.2" y2="197.8" stroke="#f6f032" stroke-width="2.6" />
<rect x="689.9" y="191.4" width="3.2" height="4.0" fill="#2f86dc"/>
<path d="M707.2 197.8 V193.8 L699.8 186.0 H695.1" fill="none" stroke="#46eaea" stroke-width="1.3"/>
<rect x="693.8" y="185.4" width="2.6" height="12.4" fill="#46eaea"/>
<rect x="696.1" y="200.9" width="10.1" height="2.5" fill="#ee2a3a"/>
<rect x="696.1" y="200.9" width="1.6" height="4.6" fill="#ee2a3a"/>
<rect x="699.5" y="200.9" width="1.6" height="4.6" fill="#ee2a3a"/>
<rect x="702.8" y="200.9" width="1.6" height="4.6" fill="#ee2a3a"/>
<line x1="779.7" y1="197.8" x2="796.9" y2="197.8" stroke="#f6f032" stroke-width="2.6" />
<rect x="786.6" y="195.9" width="3.8" height="3.8" fill="#f030f0"/>
<line x1="764.5" y1="197.8" x2="767.8" y2="197.8" stroke="#f6f032" stroke-width="2.6" />
<rect x="781.9" y="191.4" width="3.2" height="4.0" fill="#2f86dc"/>
<path d="M767.8 197.8 V193.8 L775.2 186.0 H779.9" fill="none" stroke="#46eaea" stroke-width="1.3"/>
<rect x="778.6" y="185.4" width="2.6" height="12.4" fill="#46eaea"/>
<rect x="768.8" y="200.9" width="10.1" height="2.5" fill="#ee2a3a"/>
<rect x="768.8" y="200.9" width="1.6" height="4.6" fill="#ee2a3a"/>
<rect x="772.2" y="200.9" width="1.6" height="4.6" fill="#ee2a3a"/>
<rect x="775.5" y="200.9" width="1.6" height="4.6" fill="#ee2a3a"/>
<line x1="812.5" y1="197.8" x2="809.2" y2="197.8" stroke="#f6f032" stroke-width="2.6" />
<rect x="791.9" y="191.4" width="3.2" height="4.0" fill="#2f86dc"/>
<path d="M809.2 197.8 V193.8 L801.8 186.0 H797.1" fill="none" stroke="#46eaea" stroke-width="1.3"/>
<rect x="795.8" y="185.4" width="2.6" height="12.4" fill="#46eaea"/>
<rect x="798.1" y="200.9" width="10.1" height="2.5" fill="#ee2a3a"/>
<rect x="798.1" y="200.9" width="1.6" height="4.6" fill="#ee2a3a"/>
<rect x="801.5" y="200.9" width="1.6" height="4.6" fill="#ee2a3a"/>
<rect x="804.8" y="200.9" width="1.6" height="4.6" fill="#ee2a3a"/>
<line x1="473.5" y1="222.3" x2="490.7" y2="222.3" stroke="#f6f032" stroke-width="2.6" />
<rect x="480.4" y="220.4" width="3.8" height="3.8" fill="#f030f0"/>
<line x1="458.3" y1="222.3" x2="461.6" y2="222.3" stroke="#f6f032" stroke-width="2.6" />
<rect x="475.7" y="224.7" width="3.2" height="4.0" fill="#2f86dc"/>
<path d="M461.6 222.3 V226.3 L469.0 234.1 H473.7" fill="none" stroke="#46eaea" stroke-width="1.3"/>
<rect x="472.4" y="222.3" width="2.6" height="12.4" fill="#46eaea"/>
<rect x="462.6" y="224.4" width="10.1" height="2.5" fill="#ee2a3a"/>
<rect x="462.6" y="224.4" width="1.6" height="4.6" fill="#ee2a3a"/>
<rect x="466.0" y="224.4" width="1.6" height="4.6" fill="#ee2a3a"/>
<rect x="469.3" y="224.4" width="1.6" height="4.6" fill="#ee2a3a"/>
<line x1="506.3" y1="222.3" x2="503.0" y2="222.3" stroke="#f6f032" stroke-width="2.6" />
<rect x="485.7" y="224.7" width="3.2" height="4.0" fill="#2f86dc"/>
<path d="M503.0 222.3 V226.3 L495.6 234.1 H490.9" fill="none" stroke="#46eaea" stroke-width="1.3"/>
<rect x="489.6" y="222.3" width="2.6" height="12.4" fill="#46eaea"/>
<rect x="491.9" y="224.4" width="10.1" height="2.5" fill="#ee2a3a"/>
<rect x="491.9" y="224.4" width="1.6" height="4.6" fill="#ee2a3a"/>
<rect x="495.3" y="224.4" width="1.6" height="4.6" fill="#ee2a3a"/>
<rect x="498.6" y="224.4" width="1.6" height="4.6" fill="#ee2a3a"/>
<line x1="575.7" y1="222.3" x2="592.9" y2="222.3" stroke="#f6f032" stroke-width="2.6" />
<rect x="582.6" y="220.4" width="3.8" height="3.8" fill="#f030f0"/>
<line x1="560.5" y1="222.3" x2="563.8" y2="222.3" stroke="#f6f032" stroke-width="2.6" />
<rect x="577.9" y="224.7" width="3.2" height="4.0" fill="#2f86dc"/>
<path d="M563.8 222.3 V226.3 L571.2 234.1 H575.9" fill="none" stroke="#46eaea" stroke-width="1.3"/>
<rect x="574.6" y="222.3" width="2.6" height="12.4" fill="#46eaea"/>
<rect x="564.8" y="224.4" width="10.1" height="2.5" fill="#ee2a3a"/>
<rect x="564.8" y="224.4" width="1.6" height="4.6" fill="#ee2a3a"/>
<rect x="568.2" y="224.4" width="1.6" height="4.6" fill="#ee2a3a"/>
<rect x="571.5" y="224.4" width="1.6" height="4.6" fill="#ee2a3a"/>
<line x1="608.5" y1="222.3" x2="605.2" y2="222.3" stroke="#f6f032" stroke-width="2.6" />
<rect x="587.9" y="224.7" width="3.2" height="4.0" fill="#2f86dc"/>
<path d="M605.2 222.3 V226.3 L597.8 234.1 H593.1" fill="none" stroke="#46eaea" stroke-width="1.3"/>
<rect x="591.8" y="222.3" width="2.6" height="12.4" fill="#46eaea"/>
<rect x="594.1" y="224.4" width="10.1" height="2.5" fill="#ee2a3a"/>
<rect x="594.1" y="224.4" width="1.6" height="4.6" fill="#ee2a3a"/>
<rect x="597.5" y="224.4" width="1.6" height="4.6" fill="#ee2a3a"/>
<rect x="600.8" y="224.4" width="1.6" height="4.6" fill="#ee2a3a"/>
<line x1="677.7" y1="222.3" x2="694.9" y2="222.3" stroke="#f6f032" stroke-width="2.6" />
<rect x="684.6" y="220.4" width="3.8" height="3.8" fill="#f030f0"/>
<line x1="662.5" y1="222.3" x2="665.8" y2="222.3" stroke="#f6f032" stroke-width="2.6" />
<rect x="679.9" y="224.7" width="3.2" height="4.0" fill="#2f86dc"/>
<path d="M665.8 222.3 V226.3 L673.2 234.1 H677.9" fill="none" stroke="#46eaea" stroke-width="1.3"/>
<rect x="676.6" y="222.3" width="2.6" height="12.4" fill="#46eaea"/>
<rect x="666.8" y="224.4" width="10.1" height="2.5" fill="#ee2a3a"/>
<rect x="666.8" y="224.4" width="1.6" height="4.6" fill="#ee2a3a"/>
<rect x="670.2" y="224.4" width="1.6" height="4.6" fill="#ee2a3a"/>
<rect x="673.5" y="224.4" width="1.6" height="4.6" fill="#ee2a3a"/>
<line x1="710.5" y1="222.3" x2="707.2" y2="222.3" stroke="#f6f032" stroke-width="2.6" />
<rect x="689.9" y="224.7" width="3.2" height="4.0" fill="#2f86dc"/>
<path d="M707.2 222.3 V226.3 L699.8 234.1 H695.1" fill="none" stroke="#46eaea" stroke-width="1.3"/>
<rect x="693.8" y="222.3" width="2.6" height="12.4" fill="#46eaea"/>
<rect x="696.1" y="224.4" width="10.1" height="2.5" fill="#ee2a3a"/>
<rect x="696.1" y="224.4" width="1.6" height="4.6" fill="#ee2a3a"/>
<rect x="699.5" y="224.4" width="1.6" height="4.6" fill="#ee2a3a"/>
<rect x="702.8" y="224.4" width="1.6" height="4.6" fill="#ee2a3a"/>
<rect x="478.1" y="95.0" width="8.4" height="8.4" fill="#f030f0"/>
<rect x="479.6" y="96.5" width="5.4" height="5.4" fill="#808080"/>
<rect x="478.3" y="163.2" width="8.0" height="8.0" fill="#f030f0"/>
<rect x="479.8" y="164.7" width="5.0" height="5.0" fill="#808080"/>
<rect x="580.3" y="95.0" width="8.4" height="8.4" fill="#f030f0"/>
<rect x="581.8" y="96.5" width="5.4" height="5.4" fill="#808080"/>
<rect x="580.5" y="163.2" width="8.0" height="8.0" fill="#f030f0"/>
<rect x="582.0" y="164.7" width="5.0" height="5.0" fill="#808080"/>
<rect x="682.3" y="95.0" width="8.4" height="8.4" fill="#f030f0"/>
<rect x="683.8" y="96.5" width="5.4" height="5.4" fill="#808080"/>
<rect x="682.5" y="163.2" width="8.0" height="8.0" fill="#f030f0"/>
<rect x="684.0" y="164.7" width="5.0" height="5.0" fill="#808080"/>
<rect x="784.3" y="95.0" width="8.4" height="8.4" fill="#f030f0"/>
<rect x="785.8" y="96.5" width="5.4" height="5.4" fill="#808080"/>
<rect x="784.5" y="163.2" width="8.0" height="8.0" fill="#f030f0"/>
<rect x="786.0" y="164.7" width="5.0" height="5.0" fill="#808080"/>
<rect x="478.3" y="248.4" width="8.0" height="8.0" fill="#f030f0"/>
<rect x="479.8" y="249.9" width="5.0" height="5.0" fill="#808080"/>
<rect x="478.3" y="316.5" width="8.0" height="8.0" fill="#f030f0"/>
<rect x="479.8" y="318.0" width="5.0" height="5.0" fill="#808080"/>
<rect x="580.5" y="248.4" width="8.0" height="8.0" fill="#f030f0"/>
<rect x="582.0" y="249.9" width="5.0" height="5.0" fill="#808080"/>
<rect x="580.5" y="316.5" width="8.0" height="8.0" fill="#f030f0"/>
<rect x="582.0" y="318.0" width="5.0" height="5.0" fill="#808080"/>
<rect x="682.5" y="248.4" width="8.0" height="8.0" fill="#f030f0"/>
<rect x="684.0" y="249.9" width="5.0" height="5.0" fill="#808080"/>
<rect x="682.5" y="316.5" width="8.0" height="8.0" fill="#f030f0"/>
<rect x="684.0" y="318.0" width="5.0" height="5.0" fill="#808080"/>
<rect x="270.0" y="95.0" width="8.4" height="8.4" fill="#f030f0"/>
<rect x="271.5" y="96.5" width="5.4" height="5.4" fill="#808080"/>
<rect x="270.2" y="191.0" width="8.0" height="8.0" fill="#f030f0"/>
<rect x="271.7" y="192.5" width="5.0" height="5.0" fill="#808080"/>
<rect x="370.0" y="94.8" width="16.5" height="8.8" fill="#f030f0"/>
<rect x="371.8" y="96.5" width="4.8" height="5.2" fill="#808080"/>
<rect x="379.5" y="96.5" width="4.8" height="5.2" fill="#808080"/>
<rect x="377.5" y="163.2" width="8.0" height="8.0" fill="#f030f0"/>
<rect x="379.0" y="164.7" width="5.0" height="5.0" fill="#808080"/>
<rect x="377.7" y="245.0" width="8.0" height="8.0" fill="#f030f0"/>
<rect x="379.2" y="246.5" width="5.0" height="5.0" fill="#808080"/>
<rect x="377.7" y="316.7" width="8.0" height="8.0" fill="#f030f0"/>
<rect x="379.2" y="318.2" width="5.0" height="5.0" fill="#808080"/>
<rect x="372.3" y="196.1" width="3.4" height="3.4" fill="#f030f0"/>
<rect x="367.2" y="193.8" width="6.5" height="6.5" fill="#f030f0"/>
<rect x="368.8" y="195.2" width="3.5" height="3.5" fill="#808080"/>
<rect x="442.0" y="320.4" width="346.0" height="4.6" fill="#46eaea"/>
<rect x="486.4" y="327.3" width="11.2" height="2.1" fill="#ee2a3a"/>
<rect x="486.4" y="327.3" width="1.6" height="3.8" fill="#ee2a3a"/>
<rect x="490.1" y="327.3" width="1.6" height="3.8" fill="#ee2a3a"/>
<rect x="493.9" y="327.3" width="1.6" height="3.8" fill="#ee2a3a"/>
<rect x="507.9" y="327.3" width="10.2" height="2.1" fill="#ee2a3a"/>
<rect x="507.9" y="327.3" width="1.6" height="3.8" fill="#ee2a3a"/>
<rect x="511.3" y="327.3" width="1.6" height="3.8" fill="#ee2a3a"/>
<rect x="514.7" y="327.3" width="1.6" height="3.8" fill="#ee2a3a"/>
<rect x="543.6" y="327.3" width="10.2" height="2.1" fill="#ee2a3a"/>
<rect x="543.6" y="327.3" width="1.6" height="3.8" fill="#ee2a3a"/>
<rect x="547.0" y="327.3" width="1.6" height="3.8" fill="#ee2a3a"/>
<rect x="550.4" y="327.3" width="1.6" height="3.8" fill="#ee2a3a"/>
<rect x="564.1" y="327.3" width="12.3" height="2.1" fill="#ee2a3a"/>
<rect x="564.1" y="327.3" width="1.6" height="3.8" fill="#ee2a3a"/>
<rect x="567.1" y="327.3" width="1.6" height="3.8" fill="#ee2a3a"/>
<rect x="570.2" y="327.3" width="1.6" height="3.8" fill="#ee2a3a"/>
<rect x="573.3" y="327.3" width="1.6" height="3.8" fill="#ee2a3a"/>
<rect x="511.3" y="321.1" width="3.4" height="3.4" fill="#f030f0"/>
<rect x="554.2" y="321.1" width="3.4" height="3.4" fill="#f030f0"/>
<rect x="588.6" y="327.3" width="11.2" height="2.1" fill="#ee2a3a"/>
<rect x="588.6" y="327.3" width="1.6" height="3.8" fill="#ee2a3a"/>
<rect x="592.3" y="327.3" width="1.6" height="3.8" fill="#ee2a3a"/>
<rect x="596.1" y="327.3" width="1.6" height="3.8" fill="#ee2a3a"/>
<rect x="610.0" y="327.3" width="10.2" height="2.1" fill="#ee2a3a"/>
<rect x="610.0" y="327.3" width="1.6" height="3.8" fill="#ee2a3a"/>
<rect x="613.4" y="327.3" width="1.6" height="3.8" fill="#ee2a3a"/>
<rect x="616.8" y="327.3" width="1.6" height="3.8" fill="#ee2a3a"/>
<rect x="645.7" y="327.3" width="10.2" height="2.1" fill="#ee2a3a"/>
<rect x="645.7" y="327.3" width="1.6" height="3.8" fill="#ee2a3a"/>
<rect x="649.1" y="327.3" width="1.6" height="3.8" fill="#ee2a3a"/>
<rect x="652.5" y="327.3" width="1.6" height="3.8" fill="#ee2a3a"/>
<rect x="666.1" y="327.3" width="12.2" height="2.1" fill="#ee2a3a"/>
<rect x="666.1" y="327.3" width="1.6" height="3.8" fill="#ee2a3a"/>
<rect x="669.2" y="327.3" width="1.6" height="3.8" fill="#ee2a3a"/>
<rect x="672.2" y="327.3" width="1.6" height="3.8" fill="#ee2a3a"/>
<rect x="675.3" y="327.3" width="1.6" height="3.8" fill="#ee2a3a"/>
<rect x="613.4" y="321.1" width="3.4" height="3.4" fill="#f030f0"/>
<rect x="656.2" y="321.1" width="3.4" height="3.4" fill="#f030f0"/>
<rect x="690.6" y="327.3" width="11.2" height="2.1" fill="#ee2a3a"/>
<rect x="690.6" y="327.3" width="1.6" height="3.8" fill="#ee2a3a"/>
<rect x="694.3" y="327.3" width="1.6" height="3.8" fill="#ee2a3a"/>
<rect x="698.1" y="327.3" width="1.6" height="3.8" fill="#ee2a3a"/>
<rect x="712.0" y="327.3" width="10.2" height="2.1" fill="#ee2a3a"/>
<rect x="712.0" y="327.3" width="1.6" height="3.8" fill="#ee2a3a"/>
<rect x="715.4" y="327.3" width="1.6" height="3.8" fill="#ee2a3a"/>
<rect x="718.8" y="327.3" width="1.6" height="3.8" fill="#ee2a3a"/>
<rect x="747.7" y="327.3" width="10.2" height="2.1" fill="#ee2a3a"/>
<rect x="747.7" y="327.3" width="1.6" height="3.8" fill="#ee2a3a"/>
<rect x="751.1" y="327.3" width="1.6" height="3.8" fill="#ee2a3a"/>
<rect x="754.5" y="327.3" width="1.6" height="3.8" fill="#ee2a3a"/>
<rect x="768.1" y="327.3" width="12.2" height="2.1" fill="#ee2a3a"/>
<rect x="768.1" y="327.3" width="1.6" height="3.8" fill="#ee2a3a"/>
<rect x="771.2" y="327.3" width="1.6" height="3.8" fill="#ee2a3a"/>
<rect x="774.2" y="327.3" width="1.6" height="3.8" fill="#ee2a3a"/>
<rect x="777.3" y="327.3" width="1.6" height="3.8" fill="#ee2a3a"/>
<rect x="715.4" y="321.1" width="3.4" height="3.4" fill="#f030f0"/>
<rect x="758.2" y="321.1" width="3.4" height="3.4" fill="#f030f0"/>
<text x="300.0" y="129.6" fill="#ffffff" font-size="6.2" text-anchor="middle" font-weight="bold" >H1</text>
<text x="298.0" y="138.0" fill="#ffffff" font-size="5.2" text-anchor="middle" font-weight="bold" font-style="italic">27.54</text>
<text x="350.0" y="129.6" fill="#ffffff" font-size="6.2" text-anchor="middle" font-weight="bold" >H1</text>
<text x="348.0" y="138.0" fill="#ffffff" font-size="5.2" text-anchor="middle" font-weight="bold" font-style="italic">27.54</text>
<text x="406.3" y="129.6" fill="#ffffff" font-size="6.2" text-anchor="middle" font-weight="bold" >H1</text>
<text x="404.3" y="138.0" fill="#ffffff" font-size="5.2" text-anchor="middle" font-weight="bold" font-style="italic">27.54</text>
<text x="456.3" y="129.6" fill="#ffffff" font-size="6.2" text-anchor="middle" font-weight="bold" >H1</text>
<text x="454.3" y="138.0" fill="#ffffff" font-size="5.2" text-anchor="middle" font-weight="bold" font-style="italic">27.54</text>
<text x="508.2" y="129.6" fill="#ffffff" font-size="6.2" text-anchor="middle" font-weight="bold" >H1</text>
<text x="506.2" y="138.0" fill="#ffffff" font-size="5.2" text-anchor="middle" font-weight="bold" font-style="italic">27.54</text>
<text x="558.2" y="129.6" fill="#ffffff" font-size="6.2" text-anchor="middle" font-weight="bold" >H1</text>
<text x="556.2" y="138.0" fill="#ffffff" font-size="5.2" text-anchor="middle" font-weight="bold" font-style="italic">27.54</text>
<text x="610.4" y="129.6" fill="#ffffff" font-size="6.2" text-anchor="middle" font-weight="bold" >H1</text>
<text x="608.4" y="138.0" fill="#ffffff" font-size="5.2" text-anchor="middle" font-weight="bold" font-style="italic">27.54</text>
<text x="660.4" y="129.6" fill="#ffffff" font-size="6.2" text-anchor="middle" font-weight="bold" >H1</text>
<text x="658.4" y="138.0" fill="#ffffff" font-size="5.2" text-anchor="middle" font-weight="bold" font-style="italic">27.54</text>
<text x="712.5" y="129.6" fill="#ffffff" font-size="6.2" text-anchor="middle" font-weight="bold" >H1</text>
<text x="710.5" y="138.0" fill="#ffffff" font-size="5.2" text-anchor="middle" font-weight="bold" font-style="italic">27.54</text>
<text x="762.5" y="129.6" fill="#ffffff" font-size="6.2" text-anchor="middle" font-weight="bold" >H1</text>
<text x="760.5" y="138.0" fill="#ffffff" font-size="5.2" text-anchor="middle" font-weight="bold" font-style="italic">27.54</text>
<text x="814.5" y="129.6" fill="#ffffff" font-size="6.2" text-anchor="middle" font-weight="bold" >H1</text>
<text x="812.5" y="138.0" fill="#ffffff" font-size="5.2" text-anchor="middle" font-weight="bold" font-style="italic">27.54</text>
<text x="864.5" y="129.6" fill="#ffffff" font-size="6.2" text-anchor="middle" font-weight="bold" >H1</text>
<text x="862.5" y="138.0" fill="#ffffff" font-size="5.2" text-anchor="middle" font-weight="bold" font-style="italic">27.54</text>
<text x="510.2" y="283.5" fill="#ffffff" font-size="6.2" text-anchor="middle" font-weight="bold" >H1</text>
<text x="508.2" y="291.1" fill="#ffffff" font-size="5.2" text-anchor="middle" font-weight="bold" font-style="italic">27.54</text>
<text x="560.2" y="283.5" fill="#ffffff" font-size="6.2" text-anchor="middle" font-weight="bold" >H1</text>
<text x="558.2" y="291.1" fill="#ffffff" font-size="5.2" text-anchor="middle" font-weight="bold" font-style="italic">27.54</text>
<text x="612.4" y="283.5" fill="#ffffff" font-size="6.2" text-anchor="middle" font-weight="bold" >H1</text>
<text x="610.4" y="291.1" fill="#ffffff" font-size="5.2" text-anchor="middle" font-weight="bold" font-style="italic">27.54</text>
<text x="662.4" y="283.5" fill="#ffffff" font-size="6.2" text-anchor="middle" font-weight="bold" >H1</text>
<text x="660.4" y="291.1" fill="#ffffff" font-size="5.2" text-anchor="middle" font-weight="bold" font-style="italic">27.54</text>
<text x="714.5" y="283.5" fill="#ffffff" font-size="6.2" text-anchor="middle" font-weight="bold" >H1</text>
<text x="712.5" y="291.1" fill="#ffffff" font-size="5.2" text-anchor="middle" font-weight="bold" font-style="italic">27.54</text>
<text x="764.5" y="283.5" fill="#ffffff" font-size="6.2" text-anchor="middle" font-weight="bold" >H1</text>
<text x="762.5" y="291.1" fill="#ffffff" font-size="5.2" text-anchor="middle" font-weight="bold" font-style="italic">27.54</text>
<rect x="69.6" y="99.5" width="2.4" height="96.0" fill="#46eaea"/>
<line x1="78.0" y1="144.6" x2="166.0" y2="144.6" stroke="#f6f032" stroke-width="1.4" />
<line x1="78.0" y1="148.4" x2="166.0" y2="148.4" stroke="#f6f032" stroke-width="1.4" />
<line x1="68.6" y1="135.0" x2="78.6" y2="135.0" stroke="#f6f032" stroke-width="1.6" />
<line x1="68.6" y1="158.0" x2="78.6" y2="158.0" stroke="#f6f032" stroke-width="1.6" />
<line x1="78.6" y1="135.0" x2="78.6" y2="158.0" stroke="#f6f032" stroke-width="2.0" />
<rect x="70.6" y="140.8" width="5.2" height="11.4" fill="#202020" stroke="#808080" stroke-width="1.2"/>
<rect x="68.4" y="133.3" width="3.4" height="3.4" fill="#f030f0"/>
<rect x="76.9" y="133.3" width="3.4" height="3.4" fill="#f030f0"/>
<rect x="68.4" y="156.3" width="3.4" height="3.4" fill="#f030f0"/>
<rect x="76.9" y="156.3" width="3.4" height="3.4" fill="#f030f0"/>
<path d="M78.6 144.2 L93.6 139.0" fill="none" stroke="#62e23a" stroke-width="1.3"/>
<path d="M78.6 148.8 L93.6 154.0" fill="none" stroke="#62e23a" stroke-width="1.3"/>
<circle cx="95.1" cy="137.5" r="1.9" fill="none" stroke="#ffffff" stroke-width="1.2"/>
<circle cx="95.1" cy="155.5" r="1.9" fill="none" stroke="#ffffff" stroke-width="1.2"/>
<rect x="63.5" y="108.0" width="2.4" height="11.5" fill="#ee2a3a"/>
<rect x="63.5" y="108.0" width="4.0" height="1.6" fill="#ee2a3a"/>
<rect x="63.5" y="111.3" width="4.0" height="1.6" fill="#ee2a3a"/>
<rect x="63.5" y="114.6" width="4.0" height="1.6" fill="#ee2a3a"/>
<rect x="63.5" y="117.9" width="4.0" height="1.6" fill="#ee2a3a"/>
<rect x="63.5" y="129.5" width="2.4" height="7.2" fill="#ee2a3a"/>
<rect x="63.5" y="129.5" width="4.0" height="1.6" fill="#ee2a3a"/>
<rect x="63.5" y="132.3" width="4.0" height="1.6" fill="#ee2a3a"/>
<rect x="63.5" y="135.1" width="4.0" height="1.6" fill="#ee2a3a"/>
<rect x="63.5" y="162.5" width="2.4" height="8.7" fill="#ee2a3a"/>
<rect x="63.5" y="162.5" width="4.0" height="1.6" fill="#ee2a3a"/>
<rect x="63.5" y="166.0" width="4.0" height="1.6" fill="#ee2a3a"/>
<rect x="63.5" y="169.6" width="4.0" height="1.6" fill="#ee2a3a"/>
<rect x="63.5" y="178.5" width="2.4" height="12.8" fill="#ee2a3a"/>
<rect x="63.5" y="178.5" width="4.0" height="1.6" fill="#ee2a3a"/>
<rect x="63.5" y="182.2" width="4.0" height="1.6" fill="#ee2a3a"/>
<rect x="63.5" y="186.0" width="4.0" height="1.6" fill="#ee2a3a"/>
<rect x="63.5" y="189.7" width="4.0" height="1.6" fill="#ee2a3a"/>
<rect x="69.3" y="125.0" width="3.0" height="3.0" fill="#f030f0"/>
<rect x="69.3" y="178.0" width="3.0" height="3.0" fill="#f030f0"/>
<rect x="138.2" y="117.5" width="3.0" height="57.4" fill="#f6f032"/>
<rect x="171.9" y="117.5" width="3.0" height="19.5" fill="#f6f032"/>
<rect x="171.9" y="155.4" width="3.0" height="19.5" fill="#f6f032"/>
<rect x="139.7" y="117.6" width="13.0" height="2.4" fill="#f6f032"/>
<rect x="163.7" y="117.6" width="9.7" height="2.4" fill="#f6f032"/>
<rect x="152.7" y="118.0" width="11.0" height="1.6" fill="#46eaea"/>
<rect x="139.7" y="172.4" width="13.0" height="2.4" fill="#f6f032"/>
<rect x="163.7" y="172.4" width="9.7" height="2.4" fill="#f6f032"/>
<rect x="152.7" y="172.8" width="11.0" height="1.6" fill="#46eaea"/>
<rect x="139.7" y="144.8" width="26.0" height="2.8" fill="#f6f032"/>
<rect x="163.3" y="135.8" width="2.4" height="20.8" fill="#f6f032"/>
<rect x="163.3" y="135.8" width="10.1" height="2.0" fill="#f6f032"/>
<rect x="163.3" y="154.6" width="10.1" height="2.0" fill="#f6f032"/>
<rect x="167.3" y="137.6" width="4.6" height="17.2" fill="#ee2a3a"/>
<rect x="141.9" y="131.7" width="4.4" height="29.0" fill="#808080"/>
<rect x="143.3" y="121.1" width="4.4" height="3.2" fill="#2f86dc"/>
<rect x="148.9" y="122.6" width="18.4" height="4.2" fill="#ee2a3a"/>
<rect x="146.9" y="128.4" width="14.2" height="12.4" fill="#d8d8d8"/>
<rect x="149.7" y="130.8" width="4.6" height="3.4" fill="#000"/>
<rect x="155.2" y="135.8" width="4.0" height="2.6" fill="#000"/>
<rect x="148.1" y="137.8" width="3.0" height="2.2" fill="#444"/>
<rect x="164.9" y="127.0" width="5.4" height="7.4" fill="#808080"/>
<rect x="138.0" y="117.1" width="3.4" height="3.4" fill="#f030f0"/>
<rect x="143.3" y="168.1" width="4.4" height="3.2" fill="#2f86dc"/>
<rect x="148.9" y="165.6" width="18.4" height="4.2" fill="#ee2a3a"/>
<rect x="146.9" y="151.6" width="14.2" height="12.4" fill="#d8d8d8"/>
<rect x="149.7" y="154.0" width="4.6" height="3.4" fill="#000"/>
<rect x="155.2" y="159.0" width="4.0" height="2.6" fill="#000"/>
<rect x="148.1" y="161.0" width="3.0" height="2.2" fill="#444"/>
<rect x="164.9" y="158.0" width="5.4" height="7.4" fill="#808080"/>
<rect x="138.0" y="171.9" width="3.4" height="3.4" fill="#f030f0"/>
<rect x="171.6" y="116.6" width="3.6" height="3.6" fill="#f030f0"/>
<rect x="138.0" y="144.5" width="3.4" height="3.4" fill="#f030f0"/>
<rect x="162.8" y="144.5" width="3.4" height="3.4" fill="#f030f0"/>
<rect x="171.6" y="172.2" width="3.6" height="3.6" fill="#f030f0"/>
<path d="M175.0 138.8 V153.6 L180.4 150.0 V142.4 Z" fill="#46eaea" stroke="#46eaea" stroke-width="0.8"/>
<circle cx="177.3" cy="143.5" r="0.9" fill="#000" stroke="#000" stroke-width="0.1"/>
<circle cx="177.3" cy="148.9" r="0.9" fill="#000" stroke="#000" stroke-width="0.1"/>
<path d="M173.4 118.9 Q160.0 117.9 161.5 107.9 L170.0 104.9" fill="none" stroke="#46eaea" stroke-width="1.3"/>
<path d="M174.8 108.2 L178.4 105.2" fill="none" stroke="#ee2a3a" stroke-width="2.2399999999999998"/>
<rect x="177.0" y="104.6" width="2.8" height="11.8" fill="#ee2a3a"/>
<path d="M173.4 173.5 Q160.0 174.5 161.5 184.5 L170.0 187.5" fill="none" stroke="#46eaea" stroke-width="1.3"/>
<path d="M174.8 179.8 L178.4 176.8" fill="none" stroke="#ee2a3a" stroke-width="2.2399999999999998"/>
<rect x="177.0" y="176.2" width="2.8" height="11.8" fill="#ee2a3a"/>
<text x="108.0" y="119.5" fill="#ffffff" font-size="6.2" text-anchor="middle" font-weight="bold" >H1</text>
<text x="106.0" y="126.1" fill="#ffffff" font-size="5.2" text-anchor="middle" font-weight="bold" font-style="italic">24.84</text>
<text x="107.0" y="172.0" fill="#ffffff" font-size="6.2" text-anchor="middle" font-weight="bold" >H1</text>
<text x="105.0" y="178.6" fill="#ffffff" font-size="5.2" text-anchor="middle" font-weight="bold" font-style="italic">27.84</text>
<rect x="69.6" y="299.0" width="2.4" height="96.0" fill="#46eaea"/>
<line x1="78.0" y1="349.5" x2="166.0" y2="349.5" stroke="#f6f032" stroke-width="1.4" />
<line x1="78.0" y1="353.3" x2="166.0" y2="353.3" stroke="#f6f032" stroke-width="1.4" />
<line x1="68.6" y1="339.9" x2="78.6" y2="339.9" stroke="#f6f032" stroke-width="1.6" />
<line x1="68.6" y1="362.9" x2="78.6" y2="362.9" stroke="#f6f032" stroke-width="1.6" />
<line x1="78.6" y1="339.9" x2="78.6" y2="362.9" stroke="#f6f032" stroke-width="2.0" />
<rect x="70.6" y="345.7" width="5.2" height="11.4" fill="#202020" stroke="#808080" stroke-width="1.2"/>
<rect x="68.4" y="338.2" width="3.4" height="3.4" fill="#f030f0"/>
<rect x="76.9" y="338.2" width="3.4" height="3.4" fill="#f030f0"/>
<rect x="68.4" y="361.2" width="3.4" height="3.4" fill="#f030f0"/>
<rect x="76.9" y="361.2" width="3.4" height="3.4" fill="#f030f0"/>
<path d="M78.6 349.1 L93.6 343.9" fill="none" stroke="#62e23a" stroke-width="1.3"/>
<path d="M78.6 353.7 L93.6 358.9" fill="none" stroke="#62e23a" stroke-width="1.3"/>
<circle cx="95.1" cy="342.4" r="1.9" fill="none" stroke="#ffffff" stroke-width="1.2"/>
<circle cx="95.1" cy="360.4" r="1.9" fill="none" stroke="#ffffff" stroke-width="1.2"/>
<rect x="63.5" y="312.9" width="2.4" height="11.5" fill="#ee2a3a"/>
<rect x="63.5" y="312.9" width="4.0" height="1.6" fill="#ee2a3a"/>
<rect x="63.5" y="316.2" width="4.0" height="1.6" fill="#ee2a3a"/>
<rect x="63.5" y="319.5" width="4.0" height="1.6" fill="#ee2a3a"/>
<rect x="63.5" y="322.8" width="4.0" height="1.6" fill="#ee2a3a"/>
<rect x="63.5" y="334.4" width="2.4" height="7.2" fill="#ee2a3a"/>
<rect x="63.5" y="334.4" width="4.0" height="1.6" fill="#ee2a3a"/>
<rect x="63.5" y="337.2" width="4.0" height="1.6" fill="#ee2a3a"/>
<rect x="63.5" y="340.0" width="4.0" height="1.6" fill="#ee2a3a"/>
<rect x="63.5" y="367.4" width="2.4" height="8.7" fill="#ee2a3a"/>
<rect x="63.5" y="367.4" width="4.0" height="1.6" fill="#ee2a3a"/>
<rect x="63.5" y="370.9" width="4.0" height="1.6" fill="#ee2a3a"/>
<rect x="63.5" y="374.5" width="4.0" height="1.6" fill="#ee2a3a"/>
<rect x="63.5" y="383.4" width="2.4" height="12.8" fill="#ee2a3a"/>
<rect x="63.5" y="383.4" width="4.0" height="1.6" fill="#ee2a3a"/>
<rect x="63.5" y="387.1" width="4.0" height="1.6" fill="#ee2a3a"/>
<rect x="63.5" y="390.9" width="4.0" height="1.6" fill="#ee2a3a"/>
<rect x="63.5" y="394.6" width="4.0" height="1.6" fill="#ee2a3a"/>
<rect x="69.3" y="329.9" width="3.0" height="3.0" fill="#f030f0"/>
<rect x="69.3" y="382.9" width="3.0" height="3.0" fill="#f030f0"/>
<rect x="138.2" y="322.4" width="3.0" height="57.4" fill="#f6f032"/>
<rect x="171.9" y="322.4" width="3.0" height="19.5" fill="#f6f032"/>
<rect x="171.9" y="360.3" width="3.0" height="19.5" fill="#f6f032"/>
<rect x="139.7" y="322.5" width="13.0" height="2.4" fill="#f6f032"/>
<rect x="163.7" y="322.5" width="9.7" height="2.4" fill="#f6f032"/>
<rect x="152.7" y="322.9" width="11.0" height="1.6" fill="#46eaea"/>
<rect x="139.7" y="377.3" width="13.0" height="2.4" fill="#f6f032"/>
<rect x="163.7" y="377.3" width="9.7" height="2.4" fill="#f6f032"/>
<rect x="152.7" y="377.7" width="11.0" height="1.6" fill="#46eaea"/>
<rect x="139.7" y="349.7" width="26.0" height="2.8" fill="#f6f032"/>
<rect x="163.3" y="340.7" width="2.4" height="20.8" fill="#f6f032"/>
<rect x="163.3" y="340.7" width="10.1" height="2.0" fill="#f6f032"/>
<rect x="163.3" y="359.5" width="10.1" height="2.0" fill="#f6f032"/>
<rect x="167.3" y="342.5" width="4.6" height="17.2" fill="#ee2a3a"/>
<rect x="141.9" y="336.6" width="4.4" height="29.0" fill="#808080"/>
<rect x="143.3" y="326.0" width="4.4" height="3.2" fill="#2f86dc"/>
<rect x="148.9" y="327.5" width="18.4" height="4.2" fill="#ee2a3a"/>
<rect x="146.9" y="333.3" width="14.2" height="12.4" fill="#d8d8d8"/>
<rect x="149.7" y="335.7" width="4.6" height="3.4" fill="#000"/>
<rect x="155.2" y="340.7" width="4.0" height="2.6" fill="#000"/>
<rect x="148.1" y="342.7" width="3.0" height="2.2" fill="#444"/>
<rect x="164.9" y="331.9" width="5.4" height="7.4" fill="#808080"/>
<rect x="138.0" y="322.0" width="3.4" height="3.4" fill="#f030f0"/>
<rect x="143.3" y="373.0" width="4.4" height="3.2" fill="#2f86dc"/>
<rect x="148.9" y="370.5" width="18.4" height="4.2" fill="#ee2a3a"/>
<rect x="146.9" y="356.5" width="14.2" height="12.4" fill="#d8d8d8"/>
<rect x="149.7" y="358.9" width="4.6" height="3.4" fill="#000"/>
<rect x="155.2" y="363.9" width="4.0" height="2.6" fill="#000"/>
<rect x="148.1" y="365.9" width="3.0" height="2.2" fill="#444"/>
<rect x="164.9" y="362.9" width="5.4" height="7.4" fill="#808080"/>
<rect x="138.0" y="376.8" width="3.4" height="3.4" fill="#f030f0"/>
<rect x="171.6" y="321.5" width="3.6" height="3.6" fill="#f030f0"/>
<rect x="138.0" y="349.4" width="3.4" height="3.4" fill="#f030f0"/>
<rect x="162.8" y="349.4" width="3.4" height="3.4" fill="#f030f0"/>
<rect x="171.6" y="377.1" width="3.6" height="3.6" fill="#f030f0"/>
<path d="M175.0 343.7 V358.5 L180.4 354.9 V347.3 Z" fill="#46eaea" stroke="#46eaea" stroke-width="0.8"/>
<circle cx="177.3" cy="348.4" r="0.9" fill="#000" stroke="#000" stroke-width="0.1"/>
<circle cx="177.3" cy="353.8" r="0.9" fill="#000" stroke="#000" stroke-width="0.1"/>
<path d="M173.4 323.8 Q160.0 322.8 161.5 312.8 L170.0 309.8" fill="none" stroke="#46eaea" stroke-width="1.3"/>
<path d="M174.8 313.1 L178.4 310.1" fill="none" stroke="#ee2a3a" stroke-width="2.2399999999999998"/>
<rect x="177.0" y="309.5" width="2.8" height="11.8" fill="#ee2a3a"/>
<path d="M173.4 378.4 Q160.0 379.4 161.5 389.4 L170.0 392.4" fill="none" stroke="#46eaea" stroke-width="1.3"/>
<path d="M174.8 384.7 L178.4 381.7" fill="none" stroke="#ee2a3a" stroke-width="2.2399999999999998"/>
<rect x="177.0" y="381.1" width="2.8" height="11.8" fill="#ee2a3a"/>
<text x="108.0" y="324.4" fill="#ffffff" font-size="6.2" text-anchor="middle" font-weight="bold" >H1</text>
<text x="106.0" y="331.0" fill="#ffffff" font-size="5.2" text-anchor="middle" font-weight="bold" font-style="italic">24.84</text>
<text x="107.0" y="376.9" fill="#ffffff" font-size="6.2" text-anchor="middle" font-weight="bold" >H1</text>
<text x="105.0" y="383.5" fill="#ffffff" font-size="5.2" text-anchor="middle" font-weight="bold" font-style="italic">27.84</text>
<rect x="69.6" y="404.0" width="2.4" height="96.0" fill="#46eaea"/>
<line x1="78.0" y1="451.4" x2="166.0" y2="451.4" stroke="#f6f032" stroke-width="1.4" />
<line x1="78.0" y1="455.2" x2="166.0" y2="455.2" stroke="#f6f032" stroke-width="1.4" />
<line x1="68.6" y1="441.8" x2="78.6" y2="441.8" stroke="#f6f032" stroke-width="1.6" />
<line x1="68.6" y1="464.8" x2="78.6" y2="464.8" stroke="#f6f032" stroke-width="1.6" />
<line x1="78.6" y1="441.8" x2="78.6" y2="464.8" stroke="#f6f032" stroke-width="2.0" />
<rect x="70.6" y="447.6" width="5.2" height="11.4" fill="#202020" stroke="#808080" stroke-width="1.2"/>
<rect x="68.4" y="440.1" width="3.4" height="3.4" fill="#f030f0"/>
<rect x="76.9" y="440.1" width="3.4" height="3.4" fill="#f030f0"/>
<rect x="68.4" y="463.1" width="3.4" height="3.4" fill="#f030f0"/>
<rect x="76.9" y="463.1" width="3.4" height="3.4" fill="#f030f0"/>
<path d="M78.6 451.0 L93.6 445.8" fill="none" stroke="#62e23a" stroke-width="1.3"/>
<path d="M78.6 455.6 L93.6 460.8" fill="none" stroke="#62e23a" stroke-width="1.3"/>
<circle cx="95.1" cy="444.3" r="1.9" fill="none" stroke="#ffffff" stroke-width="1.2"/>
<circle cx="95.1" cy="462.3" r="1.9" fill="none" stroke="#ffffff" stroke-width="1.2"/>
<rect x="63.5" y="414.8" width="2.4" height="11.5" fill="#ee2a3a"/>
<rect x="63.5" y="414.8" width="4.0" height="1.6" fill="#ee2a3a"/>
<rect x="63.5" y="418.1" width="4.0" height="1.6" fill="#ee2a3a"/>
<rect x="63.5" y="421.4" width="4.0" height="1.6" fill="#ee2a3a"/>
<rect x="63.5" y="424.7" width="4.0" height="1.6" fill="#ee2a3a"/>
<rect x="63.5" y="436.3" width="2.4" height="7.2" fill="#ee2a3a"/>
<rect x="63.5" y="436.3" width="4.0" height="1.6" fill="#ee2a3a"/>
<rect x="63.5" y="439.1" width="4.0" height="1.6" fill="#ee2a3a"/>
<rect x="63.5" y="441.9" width="4.0" height="1.6" fill="#ee2a3a"/>
<rect x="63.5" y="469.3" width="2.4" height="8.7" fill="#ee2a3a"/>
<rect x="63.5" y="469.3" width="4.0" height="1.6" fill="#ee2a3a"/>
<rect x="63.5" y="472.9" width="4.0" height="1.6" fill="#ee2a3a"/>
<rect x="63.5" y="476.4" width="4.0" height="1.6" fill="#ee2a3a"/>
<rect x="63.5" y="485.3" width="2.4" height="12.8" fill="#ee2a3a"/>
<rect x="63.5" y="485.3" width="4.0" height="1.6" fill="#ee2a3a"/>
<rect x="63.5" y="489.0" width="4.0" height="1.6" fill="#ee2a3a"/>
<rect x="63.5" y="492.8" width="4.0" height="1.6" fill="#ee2a3a"/>
<rect x="63.5" y="496.5" width="4.0" height="1.6" fill="#ee2a3a"/>
<rect x="69.3" y="431.8" width="3.0" height="3.0" fill="#f030f0"/>
<rect x="69.3" y="484.8" width="3.0" height="3.0" fill="#f030f0"/>
<rect x="138.2" y="424.3" width="3.0" height="57.4" fill="#f6f032"/>
<rect x="171.9" y="424.3" width="3.0" height="19.5" fill="#f6f032"/>
<rect x="171.9" y="462.2" width="3.0" height="19.5" fill="#f6f032"/>
<rect x="139.7" y="424.4" width="13.0" height="2.4" fill="#f6f032"/>
<rect x="163.7" y="424.4" width="9.7" height="2.4" fill="#f6f032"/>
<rect x="152.7" y="424.8" width="11.0" height="1.6" fill="#46eaea"/>
<rect x="139.7" y="479.2" width="13.0" height="2.4" fill="#f6f032"/>
<rect x="163.7" y="479.2" width="9.7" height="2.4" fill="#f6f032"/>
<rect x="152.7" y="479.6" width="11.0" height="1.6" fill="#46eaea"/>
<rect x="139.7" y="451.6" width="26.0" height="2.8" fill="#f6f032"/>
<rect x="163.3" y="442.6" width="2.4" height="20.8" fill="#f6f032"/>
<rect x="163.3" y="442.6" width="10.1" height="2.0" fill="#f6f032"/>
<rect x="163.3" y="461.4" width="10.1" height="2.0" fill="#f6f032"/>
<rect x="167.3" y="444.4" width="4.6" height="17.2" fill="#ee2a3a"/>
<rect x="141.9" y="438.5" width="4.4" height="29.0" fill="#808080"/>
<rect x="143.3" y="427.9" width="4.4" height="3.2" fill="#2f86dc"/>
<rect x="148.9" y="429.4" width="18.4" height="4.2" fill="#ee2a3a"/>
<rect x="146.9" y="435.2" width="14.2" height="12.4" fill="#d8d8d8"/>
<rect x="149.7" y="437.6" width="4.6" height="3.4" fill="#000"/>
<rect x="155.2" y="442.6" width="4.0" height="2.6" fill="#000"/>
<rect x="148.1" y="444.6" width="3.0" height="2.2" fill="#444"/>
<rect x="164.9" y="433.8" width="5.4" height="7.4" fill="#808080"/>
<rect x="138.0" y="423.9" width="3.4" height="3.4" fill="#f030f0"/>
<rect x="143.3" y="474.9" width="4.4" height="3.2" fill="#2f86dc"/>
<rect x="148.9" y="472.4" width="18.4" height="4.2" fill="#ee2a3a"/>
<rect x="146.9" y="458.4" width="14.2" height="12.4" fill="#d8d8d8"/>
<rect x="149.7" y="460.8" width="4.6" height="3.4" fill="#000"/>
<rect x="155.2" y="465.8" width="4.0" height="2.6" fill="#000"/>
<rect x="148.1" y="467.8" width="3.0" height="2.2" fill="#444"/>
<rect x="164.9" y="464.8" width="5.4" height="7.4" fill="#808080"/>
<rect x="138.0" y="478.7" width="3.4" height="3.4" fill="#f030f0"/>
<rect x="171.6" y="423.4" width="3.6" height="3.6" fill="#f030f0"/>
<rect x="138.0" y="451.3" width="3.4" height="3.4" fill="#f030f0"/>
<rect x="162.8" y="451.3" width="3.4" height="3.4" fill="#f030f0"/>
<rect x="171.6" y="479.0" width="3.6" height="3.6" fill="#f030f0"/>
<path d="M175.0 445.6 V460.4 L180.4 456.8 V449.2 Z" fill="#46eaea" stroke="#46eaea" stroke-width="0.8"/>
<circle cx="177.3" cy="450.3" r="0.9" fill="#000" stroke="#000" stroke-width="0.1"/>
<circle cx="177.3" cy="455.7" r="0.9" fill="#000" stroke="#000" stroke-width="0.1"/>
<path d="M173.4 425.7 Q160.0 424.7 161.5 414.7 L170.0 411.7" fill="none" stroke="#46eaea" stroke-width="1.3"/>
<path d="M174.8 415.0 L178.4 412.0" fill="none" stroke="#ee2a3a" stroke-width="2.2399999999999998"/>
<rect x="177.0" y="411.4" width="2.8" height="11.8" fill="#ee2a3a"/>
<path d="M173.4 480.3 Q160.0 481.3 161.5 491.3 L170.0 494.3" fill="none" stroke="#46eaea" stroke-width="1.3"/>
<path d="M174.8 486.6 L178.4 483.6" fill="none" stroke="#ee2a3a" stroke-width="2.2399999999999998"/>
<rect x="177.0" y="483.0" width="2.8" height="11.8" fill="#ee2a3a"/>
<text x="108.0" y="426.3" fill="#ffffff" font-size="6.2" text-anchor="middle" font-weight="bold" >H1</text>
<text x="106.0" y="432.9" fill="#ffffff" font-size="5.2" text-anchor="middle" font-weight="bold" font-style="italic">24.84</text>
<text x="107.0" y="478.8" fill="#ffffff" font-size="6.2" text-anchor="middle" font-weight="bold" >H1</text>
<text x="105.0" y="485.4" fill="#ffffff" font-size="5.2" text-anchor="middle" font-weight="bold" font-style="italic">27.84</text>
<rect x="69.6" y="506.5" width="2.4" height="96.0" fill="#46eaea"/>
<line x1="78.0" y1="553.1" x2="166.0" y2="553.1" stroke="#f6f032" stroke-width="1.4" />
<line x1="78.0" y1="556.9" x2="166.0" y2="556.9" stroke="#f6f032" stroke-width="1.4" />
<line x1="68.6" y1="543.5" x2="78.6" y2="543.5" stroke="#f6f032" stroke-width="1.6" />
<line x1="68.6" y1="566.5" x2="78.6" y2="566.5" stroke="#f6f032" stroke-width="1.6" />
<line x1="78.6" y1="543.5" x2="78.6" y2="566.5" stroke="#f6f032" stroke-width="2.0" />
<rect x="70.6" y="549.3" width="5.2" height="11.4" fill="#202020" stroke="#808080" stroke-width="1.2"/>
<rect x="68.4" y="541.8" width="3.4" height="3.4" fill="#f030f0"/>
<rect x="76.9" y="541.8" width="3.4" height="3.4" fill="#f030f0"/>
<rect x="68.4" y="564.8" width="3.4" height="3.4" fill="#f030f0"/>
<rect x="76.9" y="564.8" width="3.4" height="3.4" fill="#f030f0"/>
<path d="M78.6 552.7 L93.6 547.5" fill="none" stroke="#62e23a" stroke-width="1.3"/>
<path d="M78.6 557.3 L93.6 562.5" fill="none" stroke="#62e23a" stroke-width="1.3"/>
<circle cx="95.1" cy="546.0" r="1.9" fill="none" stroke="#ffffff" stroke-width="1.2"/>
<circle cx="95.1" cy="564.0" r="1.9" fill="none" stroke="#ffffff" stroke-width="1.2"/>
<rect x="63.5" y="516.5" width="2.4" height="11.5" fill="#ee2a3a"/>
<rect x="63.5" y="516.5" width="4.0" height="1.6" fill="#ee2a3a"/>
<rect x="63.5" y="519.8" width="4.0" height="1.6" fill="#ee2a3a"/>
<rect x="63.5" y="523.1" width="4.0" height="1.6" fill="#ee2a3a"/>
<rect x="63.5" y="526.4" width="4.0" height="1.6" fill="#ee2a3a"/>
<rect x="63.5" y="538.0" width="2.4" height="7.2" fill="#ee2a3a"/>
<rect x="63.5" y="538.0" width="4.0" height="1.6" fill="#ee2a3a"/>
<rect x="63.5" y="540.8" width="4.0" height="1.6" fill="#ee2a3a"/>
<rect x="63.5" y="543.6" width="4.0" height="1.6" fill="#ee2a3a"/>
<rect x="63.5" y="571.0" width="2.4" height="8.7" fill="#ee2a3a"/>
<rect x="63.5" y="571.0" width="4.0" height="1.6" fill="#ee2a3a"/>
<rect x="63.5" y="574.6" width="4.0" height="1.6" fill="#ee2a3a"/>
<rect x="63.5" y="578.1" width="4.0" height="1.6" fill="#ee2a3a"/>
<rect x="63.5" y="587.0" width="2.4" height="12.8" fill="#ee2a3a"/>
<rect x="63.5" y="587.0" width="4.0" height="1.6" fill="#ee2a3a"/>
<rect x="63.5" y="590.7" width="4.0" height="1.6" fill="#ee2a3a"/>
<rect x="63.5" y="594.5" width="4.0" height="1.6" fill="#ee2a3a"/>
<rect x="63.5" y="598.2" width="4.0" height="1.6" fill="#ee2a3a"/>
<rect x="69.3" y="533.5" width="3.0" height="3.0" fill="#f030f0"/>
<rect x="69.3" y="586.5" width="3.0" height="3.0" fill="#f030f0"/>
<rect x="138.2" y="526.0" width="3.0" height="57.4" fill="#f6f032"/>
<rect x="171.9" y="526.0" width="3.0" height="19.5" fill="#f6f032"/>
<rect x="171.9" y="563.9" width="3.0" height="19.5" fill="#f6f032"/>
<rect x="139.7" y="526.1" width="13.0" height="2.4" fill="#f6f032"/>
<rect x="163.7" y="526.1" width="9.7" height="2.4" fill="#f6f032"/>
<rect x="152.7" y="526.5" width="11.0" height="1.6" fill="#46eaea"/>
<rect x="139.7" y="580.9" width="13.0" height="2.4" fill="#f6f032"/>
<rect x="163.7" y="580.9" width="9.7" height="2.4" fill="#f6f032"/>
<rect x="152.7" y="581.3" width="11.0" height="1.6" fill="#46eaea"/>
<rect x="139.7" y="553.3" width="26.0" height="2.8" fill="#f6f032"/>
<rect x="163.3" y="544.3" width="2.4" height="20.8" fill="#f6f032"/>
<rect x="163.3" y="544.3" width="10.1" height="2.0" fill="#f6f032"/>
<rect x="163.3" y="563.1" width="10.1" height="2.0" fill="#f6f032"/>
<rect x="167.3" y="546.1" width="4.6" height="17.2" fill="#ee2a3a"/>
<rect x="141.9" y="540.2" width="4.4" height="29.0" fill="#808080"/>
<rect x="143.3" y="529.6" width="4.4" height="3.2" fill="#2f86dc"/>
<rect x="148.9" y="531.1" width="18.4" height="4.2" fill="#ee2a3a"/>
<rect x="146.9" y="536.9" width="14.2" height="12.4" fill="#d8d8d8"/>
<rect x="149.7" y="539.3" width="4.6" height="3.4" fill="#000"/>
<rect x="155.2" y="544.3" width="4.0" height="2.6" fill="#000"/>
<rect x="148.1" y="546.3" width="3.0" height="2.2" fill="#444"/>
<rect x="164.9" y="535.5" width="5.4" height="7.4" fill="#808080"/>
<rect x="138.0" y="525.6" width="3.4" height="3.4" fill="#f030f0"/>
<rect x="143.3" y="576.6" width="4.4" height="3.2" fill="#2f86dc"/>
<rect x="148.9" y="574.1" width="18.4" height="4.2" fill="#ee2a3a"/>
<rect x="146.9" y="560.1" width="14.2" height="12.4" fill="#d8d8d8"/>
<rect x="149.7" y="562.5" width="4.6" height="3.4" fill="#000"/>
<rect x="155.2" y="567.5" width="4.0" height="2.6" fill="#000"/>
<rect x="148.1" y="569.5" width="3.0" height="2.2" fill="#444"/>
<rect x="164.9" y="566.5" width="5.4" height="7.4" fill="#808080"/>
<rect x="138.0" y="580.4" width="3.4" height="3.4" fill="#f030f0"/>
<rect x="171.6" y="525.1" width="3.6" height="3.6" fill="#f030f0"/>
<rect x="138.0" y="553.0" width="3.4" height="3.4" fill="#f030f0"/>
<rect x="162.8" y="553.0" width="3.4" height="3.4" fill="#f030f0"/>
<rect x="171.6" y="580.7" width="3.6" height="3.6" fill="#f030f0"/>
<path d="M175.0 547.3 V562.1 L180.4 558.5 V550.9 Z" fill="#46eaea" stroke="#46eaea" stroke-width="0.8"/>
<circle cx="177.3" cy="552.0" r="0.9" fill="#000" stroke="#000" stroke-width="0.1"/>
<circle cx="177.3" cy="557.4" r="0.9" fill="#000" stroke="#000" stroke-width="0.1"/>
<path d="M173.4 527.4 Q160.0 526.4 161.5 516.4 L170.0 513.4" fill="none" stroke="#46eaea" stroke-width="1.3"/>
<path d="M174.8 516.7 L178.4 513.7" fill="none" stroke="#ee2a3a" stroke-width="2.2399999999999998"/>
<rect x="177.0" y="513.1" width="2.8" height="11.8" fill="#ee2a3a"/>
<path d="M173.4 582.0 Q160.0 583.0 161.5 593.0 L170.0 596.0" fill="none" stroke="#46eaea" stroke-width="1.3"/>
<path d="M174.8 588.3 L178.4 585.3" fill="none" stroke="#ee2a3a" stroke-width="2.2399999999999998"/>
<rect x="177.0" y="584.7" width="2.8" height="11.8" fill="#ee2a3a"/>
<text x="108.0" y="528.0" fill="#ffffff" font-size="6.2" text-anchor="middle" font-weight="bold" >H1</text>
<text x="106.0" y="534.6" fill="#ffffff" font-size="5.2" text-anchor="middle" font-weight="bold" font-style="italic">24.84</text>
<text x="107.0" y="580.5" fill="#ffffff" font-size="6.2" text-anchor="middle" font-weight="bold" >H1</text>
<text x="105.0" y="587.1" fill="#ffffff" font-size="5.2" text-anchor="middle" font-weight="bold" font-style="italic">27.84</text>
<rect x="69.6" y="608.5" width="2.4" height="96.0" fill="#46eaea"/>
<line x1="78.0" y1="655.5" x2="166.0" y2="655.5" stroke="#f6f032" stroke-width="1.4" />
<line x1="78.0" y1="659.3" x2="166.0" y2="659.3" stroke="#f6f032" stroke-width="1.4" />
<line x1="68.6" y1="645.9" x2="78.6" y2="645.9" stroke="#f6f032" stroke-width="1.6" />
<line x1="68.6" y1="668.9" x2="78.6" y2="668.9" stroke="#f6f032" stroke-width="1.6" />
<line x1="78.6" y1="645.9" x2="78.6" y2="668.9" stroke="#f6f032" stroke-width="2.0" />
<rect x="70.6" y="651.7" width="5.2" height="11.4" fill="#202020" stroke="#808080" stroke-width="1.2"/>
<rect x="68.4" y="644.2" width="3.4" height="3.4" fill="#f030f0"/>
<rect x="76.9" y="644.2" width="3.4" height="3.4" fill="#f030f0"/>
<rect x="68.4" y="667.2" width="3.4" height="3.4" fill="#f030f0"/>
<rect x="76.9" y="667.2" width="3.4" height="3.4" fill="#f030f0"/>
<path d="M78.6 655.1 L93.6 649.9" fill="none" stroke="#62e23a" stroke-width="1.3"/>
<path d="M78.6 659.7 L93.6 664.9" fill="none" stroke="#62e23a" stroke-width="1.3"/>
<circle cx="95.1" cy="648.4" r="1.9" fill="none" stroke="#ffffff" stroke-width="1.2"/>
<circle cx="95.1" cy="666.4" r="1.9" fill="none" stroke="#ffffff" stroke-width="1.2"/>
<rect x="63.5" y="618.9" width="2.4" height="11.5" fill="#ee2a3a"/>
<rect x="63.5" y="618.9" width="4.0" height="1.6" fill="#ee2a3a"/>
<rect x="63.5" y="622.2" width="4.0" height="1.6" fill="#ee2a3a"/>
<rect x="63.5" y="625.5" width="4.0" height="1.6" fill="#ee2a3a"/>
<rect x="63.5" y="628.8" width="4.0" height="1.6" fill="#ee2a3a"/>
<rect x="63.5" y="640.4" width="2.4" height="7.2" fill="#ee2a3a"/>
<rect x="63.5" y="640.4" width="4.0" height="1.6" fill="#ee2a3a"/>
<rect x="63.5" y="643.2" width="4.0" height="1.6" fill="#ee2a3a"/>
<rect x="63.5" y="646.0" width="4.0" height="1.6" fill="#ee2a3a"/>
<rect x="63.5" y="673.4" width="2.4" height="8.7" fill="#ee2a3a"/>
<rect x="63.5" y="673.4" width="4.0" height="1.6" fill="#ee2a3a"/>
<rect x="63.5" y="677.0" width="4.0" height="1.6" fill="#ee2a3a"/>
<rect x="63.5" y="680.5" width="4.0" height="1.6" fill="#ee2a3a"/>
<rect x="63.5" y="689.4" width="2.4" height="12.8" fill="#ee2a3a"/>
<rect x="63.5" y="689.4" width="4.0" height="1.6" fill="#ee2a3a"/>
<rect x="63.5" y="693.1" width="4.0" height="1.6" fill="#ee2a3a"/>
<rect x="63.5" y="696.9" width="4.0" height="1.6" fill="#ee2a3a"/>
<rect x="63.5" y="700.6" width="4.0" height="1.6" fill="#ee2a3a"/>
<rect x="69.3" y="635.9" width="3.0" height="3.0" fill="#f030f0"/>
<rect x="69.3" y="688.9" width="3.0" height="3.0" fill="#f030f0"/>
<rect x="138.2" y="628.4" width="3.0" height="57.4" fill="#f6f032"/>
<rect x="171.9" y="628.4" width="3.0" height="19.5" fill="#f6f032"/>
<rect x="171.9" y="666.3" width="3.0" height="19.5" fill="#f6f032"/>
<rect x="139.7" y="628.5" width="13.0" height="2.4" fill="#f6f032"/>
<rect x="163.7" y="628.5" width="9.7" height="2.4" fill="#f6f032"/>
<rect x="152.7" y="628.9" width="11.0" height="1.6" fill="#46eaea"/>
<rect x="139.7" y="683.3" width="13.0" height="2.4" fill="#f6f032"/>
<rect x="163.7" y="683.3" width="9.7" height="2.4" fill="#f6f032"/>
<rect x="152.7" y="683.7" width="11.0" height="1.6" fill="#46eaea"/>
<rect x="139.7" y="655.7" width="26.0" height="2.8" fill="#f6f032"/>
<rect x="163.3" y="646.7" width="2.4" height="20.8" fill="#f6f032"/>
<rect x="163.3" y="646.7" width="10.1" height="2.0" fill="#f6f032"/>
<rect x="163.3" y="665.5" width="10.1" height="2.0" fill="#f6f032"/>
<rect x="167.3" y="648.5" width="4.6" height="17.2" fill="#ee2a3a"/>
<rect x="141.9" y="642.6" width="4.4" height="29.0" fill="#808080"/>
<rect x="143.3" y="632.0" width="4.4" height="3.2" fill="#2f86dc"/>
<rect x="148.9" y="633.5" width="18.4" height="4.2" fill="#ee2a3a"/>
<rect x="146.9" y="639.3" width="14.2" height="12.4" fill="#d8d8d8"/>
<rect x="149.7" y="641.7" width="4.6" height="3.4" fill="#000"/>
<rect x="155.2" y="646.7" width="4.0" height="2.6" fill="#000"/>
<rect x="148.1" y="648.7" width="3.0" height="2.2" fill="#444"/>
<rect x="164.9" y="637.9" width="5.4" height="7.4" fill="#808080"/>
<rect x="138.0" y="628.0" width="3.4" height="3.4" fill="#f030f0"/>
<rect x="143.3" y="679.0" width="4.4" height="3.2" fill="#2f86dc"/>
<rect x="148.9" y="676.5" width="18.4" height="4.2" fill="#ee2a3a"/>
<rect x="146.9" y="662.5" width="14.2" height="12.4" fill="#d8d8d8"/>
<rect x="149.7" y="664.9" width="4.6" height="3.4" fill="#000"/>
<rect x="155.2" y="669.9" width="4.0" height="2.6" fill="#000"/>
<rect x="148.1" y="671.9" width="3.0" height="2.2" fill="#444"/>
<rect x="164.9" y="668.9" width="5.4" height="7.4" fill="#808080"/>
<rect x="138.0" y="682.8" width="3.4" height="3.4" fill="#f030f0"/>
<rect x="171.6" y="627.5" width="3.6" height="3.6" fill="#f030f0"/>
<rect x="138.0" y="655.4" width="3.4" height="3.4" fill="#f030f0"/>
<rect x="162.8" y="655.4" width="3.4" height="3.4" fill="#f030f0"/>
<rect x="171.6" y="683.1" width="3.6" height="3.6" fill="#f030f0"/>
<path d="M175.0 649.7 V664.5 L180.4 660.9 V653.3 Z" fill="#46eaea" stroke="#46eaea" stroke-width="0.8"/>
<circle cx="177.3" cy="654.4" r="0.9" fill="#000" stroke="#000" stroke-width="0.1"/>
<circle cx="177.3" cy="659.8" r="0.9" fill="#000" stroke="#000" stroke-width="0.1"/>
<path d="M173.4 629.8 Q160.0 628.8 161.5 618.8 L170.0 615.8" fill="none" stroke="#46eaea" stroke-width="1.3"/>
<path d="M174.8 619.1 L178.4 616.1" fill="none" stroke="#ee2a3a" stroke-width="2.2399999999999998"/>
<rect x="177.0" y="615.5" width="2.8" height="11.8" fill="#ee2a3a"/>
<path d="M173.4 684.4 Q160.0 685.4 161.5 695.4 L170.0 698.4" fill="none" stroke="#46eaea" stroke-width="1.3"/>
<path d="M174.8 690.7 L178.4 687.7" fill="none" stroke="#ee2a3a" stroke-width="2.2399999999999998"/>
<rect x="177.0" y="687.1" width="2.8" height="11.8" fill="#ee2a3a"/>
<text x="108.0" y="630.4" fill="#ffffff" font-size="6.2" text-anchor="middle" font-weight="bold" >H1</text>
<text x="106.0" y="637.0" fill="#ffffff" font-size="5.2" text-anchor="middle" font-weight="bold" font-style="italic">24.84</text>
<text x="107.0" y="682.9" fill="#ffffff" font-size="6.2" text-anchor="middle" font-weight="bold" >H1</text>
<text x="105.0" y="689.5" fill="#ffffff" font-size="5.2" text-anchor="middle" font-weight="bold" font-style="italic">27.84</text>
<rect x="69.6" y="710.5" width="2.4" height="96.0" fill="#46eaea"/>
<line x1="78.0" y1="757.1" x2="166.0" y2="757.1" stroke="#f6f032" stroke-width="1.4" />
<line x1="78.0" y1="760.9" x2="166.0" y2="760.9" stroke="#f6f032" stroke-width="1.4" />
<line x1="68.6" y1="747.5" x2="78.6" y2="747.5" stroke="#f6f032" stroke-width="1.6" />
<line x1="68.6" y1="770.5" x2="78.6" y2="770.5" stroke="#f6f032" stroke-width="1.6" />
<line x1="78.6" y1="747.5" x2="78.6" y2="770.5" stroke="#f6f032" stroke-width="2.0" />
<rect x="70.6" y="753.3" width="5.2" height="11.4" fill="#202020" stroke="#808080" stroke-width="1.2"/>
<rect x="68.4" y="745.8" width="3.4" height="3.4" fill="#f030f0"/>
<rect x="76.9" y="745.8" width="3.4" height="3.4" fill="#f030f0"/>
<rect x="68.4" y="768.8" width="3.4" height="3.4" fill="#f030f0"/>
<rect x="76.9" y="768.8" width="3.4" height="3.4" fill="#f030f0"/>
<path d="M78.6 756.7 L93.6 751.5" fill="none" stroke="#62e23a" stroke-width="1.3"/>
<path d="M78.6 761.3 L93.6 766.5" fill="none" stroke="#62e23a" stroke-width="1.3"/>
<circle cx="95.1" cy="750.0" r="1.9" fill="none" stroke="#ffffff" stroke-width="1.2"/>
<circle cx="95.1" cy="768.0" r="1.9" fill="none" stroke="#ffffff" stroke-width="1.2"/>
<rect x="63.5" y="720.5" width="2.4" height="11.5" fill="#ee2a3a"/>
<rect x="63.5" y="720.5" width="4.0" height="1.6" fill="#ee2a3a"/>
<rect x="63.5" y="723.8" width="4.0" height="1.6" fill="#ee2a3a"/>
<rect x="63.5" y="727.1" width="4.0" height="1.6" fill="#ee2a3a"/>
<rect x="63.5" y="730.4" width="4.0" height="1.6" fill="#ee2a3a"/>
<rect x="63.5" y="742.0" width="2.4" height="7.2" fill="#ee2a3a"/>
<rect x="63.5" y="742.0" width="4.0" height="1.6" fill="#ee2a3a"/>
<rect x="63.5" y="744.8" width="4.0" height="1.6" fill="#ee2a3a"/>
<rect x="63.5" y="747.6" width="4.0" height="1.6" fill="#ee2a3a"/>
<rect x="63.5" y="775.0" width="2.4" height="8.7" fill="#ee2a3a"/>
<rect x="63.5" y="775.0" width="4.0" height="1.6" fill="#ee2a3a"/>
<rect x="63.5" y="778.6" width="4.0" height="1.6" fill="#ee2a3a"/>
<rect x="63.5" y="782.1" width="4.0" height="1.6" fill="#ee2a3a"/>
<rect x="63.5" y="791.0" width="2.4" height="12.8" fill="#ee2a3a"/>
<rect x="63.5" y="791.0" width="4.0" height="1.6" fill="#ee2a3a"/>
<rect x="63.5" y="794.7" width="4.0" height="1.6" fill="#ee2a3a"/>
<rect x="63.5" y="798.5" width="4.0" height="1.6" fill="#ee2a3a"/>
<rect x="63.5" y="802.2" width="4.0" height="1.6" fill="#ee2a3a"/>
<rect x="69.3" y="737.5" width="3.0" height="3.0" fill="#f030f0"/>
<rect x="69.3" y="790.5" width="3.0" height="3.0" fill="#f030f0"/>
<rect x="138.2" y="730.0" width="3.0" height="57.4" fill="#f6f032"/>
<rect x="171.9" y="730.0" width="3.0" height="19.5" fill="#f6f032"/>
<rect x="171.9" y="767.9" width="3.0" height="19.5" fill="#f6f032"/>
<rect x="139.7" y="730.1" width="13.0" height="2.4" fill="#f6f032"/>
<rect x="163.7" y="730.1" width="9.7" height="2.4" fill="#f6f032"/>
<rect x="152.7" y="730.5" width="11.0" height="1.6" fill="#46eaea"/>
<rect x="139.7" y="784.9" width="13.0" height="2.4" fill="#f6f032"/>
<rect x="163.7" y="784.9" width="9.7" height="2.4" fill="#f6f032"/>
<rect x="152.7" y="785.3" width="11.0" height="1.6" fill="#46eaea"/>
<rect x="139.7" y="757.3" width="26.0" height="2.8" fill="#f6f032"/>
<rect x="163.3" y="748.3" width="2.4" height="20.8" fill="#f6f032"/>
<rect x="163.3" y="748.3" width="10.1" height="2.0" fill="#f6f032"/>
<rect x="163.3" y="767.1" width="10.1" height="2.0" fill="#f6f032"/>
<rect x="167.3" y="750.1" width="4.6" height="17.2" fill="#ee2a3a"/>
<rect x="141.9" y="744.2" width="4.4" height="29.0" fill="#808080"/>
<rect x="143.3" y="733.6" width="4.4" height="3.2" fill="#2f86dc"/>
<rect x="148.9" y="735.1" width="18.4" height="4.2" fill="#ee2a3a"/>
<rect x="146.9" y="740.9" width="14.2" height="12.4" fill="#d8d8d8"/>
<rect x="149.7" y="743.3" width="4.6" height="3.4" fill="#000"/>
<rect x="155.2" y="748.3" width="4.0" height="2.6" fill="#000"/>
<rect x="148.1" y="750.3" width="3.0" height="2.2" fill="#444"/>
<rect x="164.9" y="739.5" width="5.4" height="7.4" fill="#808080"/>
<rect x="138.0" y="729.6" width="3.4" height="3.4" fill="#f030f0"/>
<rect x="143.3" y="780.6" width="4.4" height="3.2" fill="#2f86dc"/>
<rect x="148.9" y="778.1" width="18.4" height="4.2" fill="#ee2a3a"/>
<rect x="146.9" y="764.1" width="14.2" height="12.4" fill="#d8d8d8"/>
<rect x="149.7" y="766.5" width="4.6" height="3.4" fill="#000"/>
<rect x="155.2" y="771.5" width="4.0" height="2.6" fill="#000"/>
<rect x="148.1" y="773.5" width="3.0" height="2.2" fill="#444"/>
<rect x="164.9" y="770.5" width="5.4" height="7.4" fill="#808080"/>
<rect x="138.0" y="784.4" width="3.4" height="3.4" fill="#f030f0"/>
<rect x="171.6" y="729.1" width="3.6" height="3.6" fill="#f030f0"/>
<rect x="138.0" y="757.0" width="3.4" height="3.4" fill="#f030f0"/>
<rect x="162.8" y="757.0" width="3.4" height="3.4" fill="#f030f0"/>
<rect x="171.6" y="784.7" width="3.6" height="3.6" fill="#f030f0"/>
<path d="M175.0 751.3 V766.1 L180.4 762.5 V754.9 Z" fill="#46eaea" stroke="#46eaea" stroke-width="0.8"/>
<circle cx="177.3" cy="756.0" r="0.9" fill="#000" stroke="#000" stroke-width="0.1"/>
<circle cx="177.3" cy="761.4" r="0.9" fill="#000" stroke="#000" stroke-width="0.1"/>
<path d="M173.4 731.4 Q160.0 730.4 161.5 720.4 L170.0 717.4" fill="none" stroke="#46eaea" stroke-width="1.3"/>
<path d="M174.8 720.7 L178.4 717.7" fill="none" stroke="#ee2a3a" stroke-width="2.2399999999999998"/>
<rect x="177.0" y="717.1" width="2.8" height="11.8" fill="#ee2a3a"/>
<path d="M173.4 786.0 Q160.0 787.0 161.5 797.0 L170.0 800.0" fill="none" stroke="#46eaea" stroke-width="1.3"/>
<path d="M174.8 792.3 L178.4 789.3" fill="none" stroke="#ee2a3a" stroke-width="2.2399999999999998"/>
<rect x="177.0" y="788.7" width="2.8" height="11.8" fill="#ee2a3a"/>
<text x="108.0" y="732.0" fill="#ffffff" font-size="6.2" text-anchor="middle" font-weight="bold" >H1</text>
<text x="106.0" y="738.6" fill="#ffffff" font-size="5.2" text-anchor="middle" font-weight="bold" font-style="italic">24.84</text>
<text x="107.0" y="784.5" fill="#ffffff" font-size="6.2" text-anchor="middle" font-weight="bold" >H1</text>
<text x="105.0" y="791.1" fill="#ffffff" font-size="5.2" text-anchor="middle" font-weight="bold" font-style="italic">27.84</text>
<rect x="77.0" y="94.4" width="95.0" height="3.8" fill="#f6f032"/>
<rect x="69.2" y="94.8" width="8.0" height="8.0" fill="#f030f0"/>
<rect x="70.7" y="96.3" width="5.0" height="5.0" fill="#808080"/>
<rect x="140.0" y="94.8" width="8.0" height="8.0" fill="#f030f0"/>
<rect x="141.5" y="96.3" width="5.0" height="5.0" fill="#808080"/>
<rect x="170.8" y="94.6" width="3.4" height="3.4" fill="#f030f0"/>
<rect x="77.0" y="195.4" width="95.0" height="3.8" fill="#f6f032"/>
<rect x="69.2" y="191.1" width="8.0" height="8.0" fill="#f030f0"/>
<rect x="70.7" y="192.6" width="5.0" height="5.0" fill="#808080"/>
<rect x="140.0" y="191.1" width="8.0" height="8.0" fill="#f030f0"/>
<rect x="141.5" y="192.6" width="5.0" height="5.0" fill="#808080"/>
<rect x="170.8" y="195.6" width="3.4" height="3.4" fill="#f030f0"/>
<rect x="77.0" y="294.4" width="95.0" height="3.8" fill="#f6f032"/>
<rect x="69.2" y="294.5" width="8.0" height="8.0" fill="#f030f0"/>
<rect x="70.7" y="296.0" width="5.0" height="5.0" fill="#808080"/>
<rect x="140.0" y="294.5" width="8.0" height="8.0" fill="#f030f0"/>
<rect x="141.5" y="296.0" width="5.0" height="5.0" fill="#808080"/>
<rect x="170.8" y="294.6" width="3.4" height="3.4" fill="#f030f0"/>
<rect x="77.0" y="399.1" width="95.0" height="3.8" fill="#f6f032"/>
<line x1="77.0" y1="401.0" x2="172.0" y2="401.0" stroke="#000" stroke-width="0.7" />
<rect x="69.2" y="397.0" width="8.0" height="8.0" fill="#f030f0"/>
<rect x="70.7" y="398.5" width="5.0" height="5.0" fill="#808080"/>
<rect x="140.0" y="397.0" width="8.0" height="8.0" fill="#f030f0"/>
<rect x="141.5" y="398.5" width="5.0" height="5.0" fill="#808080"/>
<rect x="170.8" y="399.3" width="3.4" height="3.4" fill="#f030f0"/>
<rect x="77.0" y="501.6" width="95.0" height="3.8" fill="#f6f032"/>
<line x1="77.0" y1="503.5" x2="172.0" y2="503.5" stroke="#000" stroke-width="0.7" />
<rect x="69.2" y="499.5" width="8.0" height="8.0" fill="#f030f0"/>
<rect x="70.7" y="501.0" width="5.0" height="5.0" fill="#808080"/>
<rect x="140.0" y="499.5" width="8.0" height="8.0" fill="#f030f0"/>
<rect x="141.5" y="501.0" width="5.0" height="5.0" fill="#808080"/>
<rect x="170.8" y="501.8" width="3.4" height="3.4" fill="#f030f0"/>
<rect x="77.0" y="603.6" width="95.0" height="3.8" fill="#f6f032"/>
<line x1="77.0" y1="605.5" x2="172.0" y2="605.5" stroke="#000" stroke-width="0.7" />
<rect x="69.2" y="601.5" width="8.0" height="8.0" fill="#f030f0"/>
<rect x="70.7" y="603.0" width="5.0" height="5.0" fill="#808080"/>
<rect x="140.0" y="601.5" width="8.0" height="8.0" fill="#f030f0"/>
<rect x="141.5" y="603.0" width="5.0" height="5.0" fill="#808080"/>
<rect x="170.8" y="603.8" width="3.4" height="3.4" fill="#f030f0"/>
<rect x="77.0" y="705.6" width="95.0" height="3.8" fill="#f6f032"/>
<line x1="77.0" y1="707.5" x2="172.0" y2="707.5" stroke="#000" stroke-width="0.7" />
<rect x="69.2" y="703.5" width="8.0" height="8.0" fill="#f030f0"/>
<rect x="70.7" y="705.0" width="5.0" height="5.0" fill="#808080"/>
<rect x="140.0" y="703.5" width="8.0" height="8.0" fill="#f030f0"/>
<rect x="141.5" y="705.0" width="5.0" height="5.0" fill="#808080"/>
<rect x="170.8" y="705.8" width="3.4" height="3.4" fill="#f030f0"/>
<rect x="77.0" y="807.4" width="95.0" height="3.8" fill="#f6f032"/>
<rect x="69.2" y="803.1" width="8.0" height="8.0" fill="#f030f0"/>
<rect x="70.7" y="804.6" width="5.0" height="5.0" fill="#808080"/>
<rect x="140.0" y="803.1" width="8.0" height="8.0" fill="#f030f0"/>
<rect x="141.5" y="804.6" width="5.0" height="5.0" fill="#808080"/>
<rect x="170.8" y="807.6" width="3.4" height="3.4" fill="#f030f0"/>
<ellipse cx="141.3" cy="401" rx="2.2" ry="9.5" fill="none" stroke="#f6f032" stroke-width="1.1"/>
<ellipse cx="141.3" cy="503.5" rx="2.2" ry="9.5" fill="none" stroke="#f6f032" stroke-width="1.1"/>
<ellipse cx="141.3" cy="605.5" rx="2.2" ry="9.5" fill="none" stroke="#f6f032" stroke-width="1.1"/>
<ellipse cx="141.3" cy="707.5" rx="2.2" ry="9.5" fill="none" stroke="#f6f032" stroke-width="1.1"/>
<ellipse cx="228" cy="402.3" rx="2.2" ry="9.5" fill="none" stroke="#f6f032" stroke-width="1.1"/>
<ellipse cx="228" cy="504" rx="2.2" ry="9.5" fill="none" stroke="#f6f032" stroke-width="1.1"/>
<ellipse cx="228" cy="606.3" rx="2.2" ry="9.5" fill="none" stroke="#f6f032" stroke-width="1.1"/>
<ellipse cx="228" cy="708" rx="2.2" ry="9.5" fill="none" stroke="#f6f032" stroke-width="1.1"/>
<line x1="173.4" y1="96.5" x2="173.4" y2="105.5" stroke="#f6f032" stroke-width="2.2" />
<line x1="173.4" y1="189.5" x2="173.4" y2="198.5" stroke="#f6f032" stroke-width="2.2" />
<line x1="173.4" y1="296.0" x2="173.4" y2="305.0" stroke="#f6f032" stroke-width="2.2" />
<line x1="173.4" y1="389.0" x2="173.4" y2="398.0" stroke="#f6f032" stroke-width="2.2" />
<line x1="173.4" y1="401.0" x2="173.4" y2="410.0" stroke="#f6f032" stroke-width="2.2" />
<line x1="173.4" y1="494.0" x2="173.4" y2="503.0" stroke="#f6f032" stroke-width="2.2" />
<line x1="173.4" y1="503.5" x2="173.4" y2="512.5" stroke="#f6f032" stroke-width="2.2" />
<line x1="173.4" y1="596.5" x2="173.4" y2="605.5" stroke="#f6f032" stroke-width="2.2" />
<line x1="173.4" y1="605.5" x2="173.4" y2="614.5" stroke="#f6f032" stroke-width="2.2" />
<line x1="173.4" y1="698.5" x2="173.4" y2="707.5" stroke="#f6f032" stroke-width="2.2" />
<line x1="173.4" y1="707.5" x2="173.4" y2="716.5" stroke="#f6f032" stroke-width="2.2" />
<line x1="173.4" y1="800.5" x2="173.4" y2="809.5" stroke="#f6f032" stroke-width="2.2" />
<rect x="69.6" y="199.0" width="3.0" height="96.0" fill="#62e23a"/>
<line x1="141.0" y1="199.0" x2="141.0" y2="296.0" stroke="#46eaea" stroke-width="2.6" />
<rect x="137.5" y="235.5" width="8.5" height="20.5" fill="none" stroke="#46eaea" stroke-width="1.2"/>
<rect x="132.2" y="236.5" width="2.8" height="18.5" fill="#ee2a3a"/>
<rect x="132.2" y="236.5" width="4.6" height="1.6" fill="#ee2a3a"/>
<rect x="132.2" y="239.9" width="4.6" height="1.6" fill="#ee2a3a"/>
<rect x="132.2" y="243.3" width="4.6" height="1.6" fill="#ee2a3a"/>
<rect x="132.2" y="246.6" width="4.6" height="1.6" fill="#ee2a3a"/>
<rect x="132.2" y="250.0" width="4.6" height="1.6" fill="#ee2a3a"/>
<rect x="132.2" y="253.4" width="4.6" height="1.6" fill="#ee2a3a"/>
<text x="104.0" y="238.0" fill="#ffffff" font-size="6.5" text-anchor="middle" font-weight="bold" >M1</text>
<text x="110.0" y="253.5" fill="#ffffff" font-size="4.8" text-anchor="middle" font-weight="bold" >1750x2400</text>
<text x="196.0" y="254.0" fill="#ffffff" font-size="5.5" text-anchor="middle" font-weight="bold" >J F4</text>
<rect x="148.0" y="189.3" width="25.5" height="8.2" fill="none" stroke="#f6f032" stroke-width="1.3"/>
<path d="M153 193.5 h14" fill="none" stroke="#808080" stroke-width="1.6"/>
<rect x="170.9" y="187.9" width="3.2" height="3.2" fill="#f030f0"/>
<line x1="196.6" y1="96.0" x2="196.6" y2="132.0" stroke="#f6f032" stroke-width="2.2" />
<line x1="196.6" y1="147.0" x2="196.6" y2="198.0" stroke="#f6f032" stroke-width="2.2" />
<line x1="221.0" y1="100.0" x2="221.0" y2="198.0" stroke="#f6f032" stroke-width="1.5" />
<line x1="225.0" y1="104.0" x2="225.0" y2="166.0" stroke="#f6f032" stroke-width="1.5" />
<line x1="196.0" y1="145.6" x2="225.0" y2="145.6" stroke="#f6f032" stroke-width="1.4" />
<line x1="196.0" y1="148.8" x2="225.0" y2="148.8" stroke="#f6f032" stroke-width="1.4" />
<rect x="197.0" y="188.0" width="25.0" height="10.3" fill="none" stroke="#f6f032" stroke-width="1.6"/>
<rect x="194.9" y="94.8" width="3.4" height="3.4" fill="#f030f0"/>
<rect x="194.9" y="99.8" width="3.4" height="3.4" fill="#f030f0"/>
<rect x="194.8" y="145.2" width="3.6" height="3.6" fill="#f030f0"/>
<rect x="221.4" y="145.4" width="3.2" height="3.2" fill="#f030f0"/>
<rect x="194.9" y="186.8" width="3.4" height="3.4" fill="#f030f0"/>
<rect x="195.0" y="196.4" width="3.2" height="3.2" fill="#f030f0"/>
<rect x="170.8" y="99.8" width="3.4" height="3.4" fill="#f030f0"/>
<rect x="220.6" y="94.6" width="8.4" height="8.4" fill="#f030f0"/>
<rect x="222.1" y="96.1" width="5.4" height="5.4" fill="#808080"/>
<rect x="220.6" y="190.8" width="8.4" height="8.4" fill="#f030f0"/>
<rect x="222.1" y="192.3" width="5.4" height="5.4" fill="#808080"/>
<path d="M197 132 Q207 132 208.5 143.5 L197 144.5" fill="none" stroke="#46eaea" stroke-width="1.3"/>
<path d="M197 175 Q207 175 208.5 186 L197 186.5" fill="none" stroke="#46eaea" stroke-width="1.3"/>
<text x="213.0" y="121.0" fill="#ffffff" font-size="6.5" text-anchor="middle" font-weight="bold" >XD</text>
<text x="213.0" y="127.0" fill="#ffffff" font-size="4.8" text-anchor="middle" font-weight="bold" >1.94</text>
<text x="211.0" y="166.0" fill="#ffffff" font-size="6.5" text-anchor="middle" font-weight="bold" >1 4</text>
<text x="211.0" y="171.5" fill="#ffffff" font-size="4.8" text-anchor="middle" font-weight="bold" >2.94</text>
<rect x="190.0" y="174.0" width="2.4" height="11.0" fill="#ee2a3a"/>
<rect x="190.0" y="174.0" width="4.5" height="2.0" fill="#ee2a3a"/>
<rect x="184.0" y="95.7" width="6.0" height="2.0" fill="#ee2a3a"/>
<rect x="184.0" y="95.7" width="1.6" height="3.6" fill="#ee2a3a"/>
<rect x="187.0" y="95.7" width="1.6" height="3.6" fill="#ee2a3a"/>
<rect x="203.0" y="199.6" width="13.0" height="2.1" fill="#ee2a3a"/>
<rect x="203.0" y="199.6" width="1.6" height="3.8" fill="#ee2a3a"/>
<rect x="206.2" y="199.6" width="1.6" height="3.8" fill="#ee2a3a"/>
<rect x="209.5" y="199.6" width="1.6" height="3.8" fill="#ee2a3a"/>
<rect x="212.8" y="199.6" width="1.6" height="3.8" fill="#ee2a3a"/>
<rect x="222.8" y="166.0" width="28.2" height="32.3" fill="none" stroke="#f6f032" stroke-width="2.2"/>
<rect x="221.1" y="164.3" width="3.4" height="3.4" fill="#f030f0"/>
<rect x="249.3" y="164.3" width="3.4" height="3.4" fill="#f030f0"/>
<rect x="227.0" y="170.0" width="12.0" height="12.0" fill="#202020" stroke="#808080" stroke-width="1.4"/>
<text x="233.0" y="179.0" fill="#ffffff" font-size="6.2" text-anchor="middle" font-weight="bold" >W1</text>
<text x="234.0" y="188.0" fill="#ffffff" font-size="5" text-anchor="middle" font-weight="bold" >3.84</text>
<rect x="245.0" y="171.0" width="3.0" height="3.0" fill="#2f86dc"/>
<rect x="244.5" y="176.0" width="3.4" height="18.0" fill="#ee2a3a"/>
<path d="M240 177 l5 4 M240 192 l5 -3" fill="none" stroke="#46eaea" stroke-width="1.1"/>
<rect x="236.0" y="190.0" width="9.0" height="3.0" fill="#808080"/>
<line x1="229.0" y1="104.0" x2="248.0" y2="104.0" stroke="#f6f032" stroke-width="2.0" />
<line x1="247.0" y1="96.0" x2="247.0" y2="104.0" stroke="#f6f032" stroke-width="1.6" />
<rect x="232.0" y="96.4" width="10.0" height="4.4" fill="#202020" stroke="#808080" stroke-width="1.2"/>
<rect x="245.3" y="94.8" width="3.4" height="3.4" fill="#f030f0"/>
<rect x="245.3" y="102.1" width="3.4" height="3.4" fill="#f030f0"/>
<rect x="224.3" y="102.1" width="3.4" height="3.4" fill="#f030f0"/>
<path d="M229 104 Q233 112 240 113.5" fill="none" stroke="#62e23a" stroke-width="1.3"/>
<circle cx="239.0" cy="110.5" r="1.9" fill="none" stroke="#ffffff" stroke-width="1.2"/>
<text x="250.0" y="129.6" fill="#ffffff" font-size="6.2" text-anchor="middle" font-weight="bold" >H1</text>
<text x="248.0" y="138.0" fill="#ffffff" font-size="5.2" text-anchor="middle" font-weight="bold" font-style="italic">27.54</text>
<line x1="265.6" y1="167.0" x2="285.0" y2="167.0" stroke="#f6f032" stroke-width="1.6" />
<rect x="272.6" y="165.4" width="3.2" height="3.2" fill="#f030f0"/>
<line x1="366.5" y1="166.8" x2="374.0" y2="166.8" stroke="#f6f032" stroke-width="1.6" />
<line x1="252.0" y1="197.8" x2="255.0" y2="197.8" stroke="#f6f032" stroke-width="2.4" />
<line x1="268.0" y1="197.8" x2="280.0" y2="197.8" stroke="#f6f032" stroke-width="2.4" />
<line x1="293.0" y1="197.8" x2="297.0" y2="197.8" stroke="#f6f032" stroke-width="2.4" />
<path d="M254.5 197.8 V193.8 L261.9 186.0 H266.5" fill="none" stroke="#46eaea" stroke-width="1.3"/>
<rect x="265.2" y="185.4" width="2.6" height="12.4" fill="#46eaea"/>
<path d="M293.5 197.8 V193.8 L286.1 186.0 H281.5" fill="none" stroke="#46eaea" stroke-width="1.3"/>
<rect x="280.2" y="185.4" width="2.6" height="12.4" fill="#46eaea"/>
<rect x="256.0" y="200.7" width="11.0" height="2.0" fill="#ee2a3a"/>
<rect x="256.0" y="200.7" width="1.6" height="3.6" fill="#ee2a3a"/>
<rect x="259.7" y="200.7" width="1.6" height="3.6" fill="#ee2a3a"/>
<rect x="263.3" y="200.7" width="1.6" height="3.6" fill="#ee2a3a"/>
<rect x="281.0" y="200.7" width="11.0" height="2.0" fill="#ee2a3a"/>
<rect x="281.0" y="200.7" width="1.6" height="3.6" fill="#ee2a3a"/>
<rect x="284.7" y="200.7" width="1.6" height="3.6" fill="#ee2a3a"/>
<rect x="288.3" y="200.7" width="1.6" height="3.6" fill="#ee2a3a"/>
<path d="M351.0 197.8 V193.8 L358.4 186.0 H367.5" fill="none" stroke="#46eaea" stroke-width="1.3"/>
<rect x="366.2" y="185.4" width="2.6" height="12.4" fill="#46eaea"/>
<rect x="355.0" y="200.7" width="12.0" height="2.0" fill="#ee2a3a"/>
<rect x="355.0" y="200.7" width="1.6" height="3.6" fill="#ee2a3a"/>
<rect x="358.0" y="200.7" width="1.6" height="3.6" fill="#ee2a3a"/>
<rect x="361.0" y="200.7" width="1.6" height="3.6" fill="#ee2a3a"/>
<rect x="364.0" y="200.7" width="1.6" height="3.6" fill="#ee2a3a"/>
<path d="M406.0 197.8 V193.8 L398.6 186.0 H389.5" fill="none" stroke="#46eaea" stroke-width="1.3"/>
<rect x="388.2" y="185.4" width="2.6" height="12.4" fill="#46eaea"/>
<rect x="390.0" y="200.7" width="12.0" height="2.0" fill="#ee2a3a"/>
<rect x="390.0" y="200.7" width="1.6" height="3.6" fill="#ee2a3a"/>
<rect x="393.0" y="200.7" width="1.6" height="3.6" fill="#ee2a3a"/>
<rect x="396.0" y="200.7" width="1.6" height="3.6" fill="#ee2a3a"/>
<rect x="399.0" y="200.7" width="1.6" height="3.6" fill="#ee2a3a"/>
<line x1="353.0" y1="197.8" x2="355.0" y2="197.8" stroke="#f6f032" stroke-width="2.4" />
<line x1="366.0" y1="197.8" x2="388.0" y2="197.8" stroke="#f6f032" stroke-width="2.4" />
<line x1="404.0" y1="197.8" x2="408.0" y2="197.8" stroke="#f6f032" stroke-width="2.4" />
<rect x="242.6" y="222.2" width="31.5" height="76.8" fill="none" stroke="#f6f032" stroke-width="2.4"/>
<line x1="242.6" y1="237.5" x2="274.1" y2="237.5" stroke="#f6f032" stroke-width="1.8" />
<line x1="242.6" y1="268.4" x2="274.1" y2="268.4" stroke="#f6f032" stroke-width="2.4" />
<rect x="247.0" y="241.2" width="24.4" height="24.6" fill="#000" stroke="#ffffff" stroke-width="1.4"/>
<rect x="267.6" y="241.2" width="3.8" height="24.6" fill="#ffffff"/>
<path d="M247 241.2 L267.6 265.8 M267.6 241.2 L247 265.8" fill="none" stroke="#ffffff" stroke-width="0.8"/>
<text x="257.3" y="256.0" fill="#ee2a3a" font-size="6.5" text-anchor="middle" font-weight="bold" >DT</text>
<rect x="247.0" y="272.0" width="24.4" height="25.0" fill="#000" stroke="#ffffff" stroke-width="1.4"/>
<rect x="267.6" y="272.0" width="3.8" height="25.0" fill="#ffffff"/>
<path d="M247 272 L267.6 297 M267.6 272 L247 297" fill="none" stroke="#ffffff" stroke-width="0.8"/>
<text x="257.3" y="287.0" fill="#ee2a3a" font-size="6.5" text-anchor="middle" font-weight="bold" >DT</text>
<rect x="243.2" y="246.5" width="2.2" height="14.5" fill="#46eaea"/>
<rect x="243.2" y="276.8" width="2.2" height="14.5" fill="#46eaea"/>
<rect x="251.8" y="221.0" width="13.0" height="2.4" fill="#46eaea"/>
<rect x="250.5" y="215.6" width="17.0" height="2.1" fill="#ee2a3a"/>
<rect x="250.5" y="215.6" width="1.6" height="3.8" fill="#ee2a3a"/>
<rect x="253.9" y="215.6" width="1.6" height="3.8" fill="#ee2a3a"/>
<rect x="257.3" y="215.6" width="1.6" height="3.8" fill="#ee2a3a"/>
<rect x="260.7" y="215.6" width="1.6" height="3.8" fill="#ee2a3a"/>
<rect x="264.1" y="215.6" width="1.6" height="3.8" fill="#ee2a3a"/>
<text x="257.0" y="232.0" fill="#ffffff" font-size="6.5" text-anchor="middle" font-weight="bold" >QV</text>
<rect x="240.9" y="220.5" width="3.4" height="3.4" fill="#f030f0"/>
<rect x="272.4" y="220.5" width="3.4" height="3.4" fill="#f030f0"/>
<rect x="240.9" y="235.8" width="3.4" height="3.4" fill="#f030f0"/>
<rect x="272.4" y="235.8" width="3.4" height="3.4" fill="#f030f0"/>
<rect x="272.4" y="251.8" width="3.4" height="3.4" fill="#f030f0"/>
<rect x="240.9" y="266.7" width="3.4" height="3.4" fill="#f030f0"/>
<rect x="272.4" y="266.7" width="3.4" height="3.4" fill="#f030f0"/>
<rect x="240.9" y="297.3" width="3.4" height="3.4" fill="#f030f0"/>
<rect x="272.4" y="297.3" width="3.4" height="3.4" fill="#f030f0"/>
<line x1="276.0" y1="253.5" x2="285.0" y2="253.5" stroke="#f6f032" stroke-width="1.6" />
<rect x="276.0" y="297.6" width="98.0" height="3.0" fill="#46eaea"/>
<rect x="276.0" y="297.6" width="14.0" height="3.0" fill="#f6f032"/>
<rect x="318.0" y="297.6" width="14.0" height="3.0" fill="#f6f032"/>
<rect x="362.0" y="297.6" width="10.0" height="3.0" fill="#f6f032"/>
<rect x="283.0" y="292.2" width="12.0" height="2.0" fill="#ee2a3a"/>
<rect x="283.0" y="292.2" width="1.6" height="3.6" fill="#ee2a3a"/>
<rect x="286.0" y="292.2" width="1.6" height="3.6" fill="#ee2a3a"/>
<rect x="289.0" y="292.2" width="1.6" height="3.6" fill="#ee2a3a"/>
<rect x="292.0" y="292.2" width="1.6" height="3.6" fill="#ee2a3a"/>
<rect x="338.0" y="292.2" width="13.0" height="2.0" fill="#ee2a3a"/>
<rect x="338.0" y="292.2" width="1.6" height="3.6" fill="#ee2a3a"/>
<rect x="341.2" y="292.2" width="1.6" height="3.6" fill="#ee2a3a"/>
<rect x="344.5" y="292.2" width="1.6" height="3.6" fill="#ee2a3a"/>
<rect x="347.8" y="292.2" width="1.6" height="3.6" fill="#ee2a3a"/>
<rect x="290.7" y="297.7" width="7.6" height="7.6" fill="#f030f0"/>
<rect x="292.2" y="299.2" width="4.6" height="4.6" fill="#808080"/>
<rect x="368.5" y="293.0" width="7.0" height="7.0" fill="#f030f0"/>
<rect x="370.0" y="294.5" width="4.0" height="4.0" fill="#808080"/>
<text x="300.0" y="274.0" fill="#ffffff" font-size="6.2" text-anchor="middle" font-weight="bold" ></text>
<text x="298.0" y="280.6" fill="#ffffff" font-size="5.2" text-anchor="middle" font-weight="bold" font-style="italic">17.54</text>
<text x="351.0" y="274.0" fill="#ffffff" font-size="6.2" text-anchor="middle" font-weight="bold" ></text>
<text x="349.0" y="280.6" fill="#ffffff" font-size="5.2" text-anchor="middle" font-weight="bold" font-style="italic">17.54</text>
<line x1="274.2" y1="254.0" x2="274.2" y2="299.0" stroke="#f6f032" stroke-width="2.4" />
<line x1="276.0" y1="222.3" x2="283.0" y2="222.3" stroke="#f6f032" stroke-width="2.4" />
<line x1="366.0" y1="222.3" x2="374.0" y2="222.3" stroke="#f6f032" stroke-width="2.4" />
<path d="M294.0 222.3 V226.3 L286.6 234.1 H281.0" fill="none" stroke="#46eaea" stroke-width="1.3"/>
<rect x="279.7" y="222.3" width="2.6" height="12.4" fill="#46eaea"/>
<path d="M354.0 222.3 V226.3 L361.4 234.1 H367.0" fill="none" stroke="#46eaea" stroke-width="1.3"/>
<rect x="365.7" y="222.3" width="2.6" height="12.4" fill="#46eaea"/>
<rect x="279.0" y="224.8" width="12.0" height="1.9" fill="#ee2a3a"/>
<rect x="279.0" y="224.8" width="1.6" height="3.4" fill="#ee2a3a"/>
<rect x="282.0" y="224.8" width="1.6" height="3.4" fill="#ee2a3a"/>
<rect x="285.0" y="224.8" width="1.6" height="3.4" fill="#ee2a3a"/>
<rect x="288.0" y="224.8" width="1.6" height="3.4" fill="#ee2a3a"/>
<rect x="357.0" y="224.8" width="12.0" height="1.9" fill="#ee2a3a"/>
<rect x="357.0" y="224.8" width="1.6" height="3.4" fill="#ee2a3a"/>
<rect x="360.0" y="224.8" width="1.6" height="3.4" fill="#ee2a3a"/>
<rect x="363.0" y="224.8" width="1.6" height="3.4" fill="#ee2a3a"/>
<rect x="366.0" y="224.8" width="1.6" height="3.4" fill="#ee2a3a"/>
<line x1="265.0" y1="253.8" x2="285.0" y2="253.8" stroke="#f6f032" stroke-width="1.6" />
<line x1="365.0" y1="253.8" x2="374.0" y2="253.8" stroke="#f6f032" stroke-width="1.6" />
<rect x="296.1" y="220.4" width="3.2" height="3.2" fill="#f030f0"/>
<rect x="350.7" y="220.4" width="3.2" height="3.2" fill="#f030f0"/>
<circle cx="280.5" cy="289.0" r="1.6" fill="none" stroke="#ffffff" stroke-width="1"/>
<path d="M281.5 290.5 Q284 294 284 298" fill="none" stroke="#62e23a" stroke-width="1.2"/>
<circle cx="362.0" cy="289.0" r="1.6" fill="none" stroke="#ffffff" stroke-width="1"/>
<path d="M363 290.5 Q366 294 367 298" fill="none" stroke="#62e23a" stroke-width="1.2"/>
<rect x="296.2" y="360.0" width="2.6" height="450.0" fill="#46eaea"/>
<rect x="300.0" y="360.0" width="2.4" height="11.0" fill="#ee2a3a"/>
<rect x="300.0" y="360.0" width="4.0" height="1.6" fill="#ee2a3a"/>
<rect x="300.0" y="363.1" width="4.0" height="1.6" fill="#ee2a3a"/>
<rect x="300.0" y="366.3" width="4.0" height="1.6" fill="#ee2a3a"/>
<rect x="300.0" y="369.4" width="4.0" height="1.6" fill="#ee2a3a"/>
<rect x="300.0" y="377.0" width="2.4" height="12.0" fill="#ee2a3a"/>
<rect x="300.0" y="377.0" width="4.0" height="1.6" fill="#ee2a3a"/>
<rect x="300.0" y="380.5" width="4.0" height="1.6" fill="#ee2a3a"/>
<rect x="300.0" y="383.9" width="4.0" height="1.6" fill="#ee2a3a"/>
<rect x="300.0" y="387.4" width="4.0" height="1.6" fill="#ee2a3a"/>
<rect x="300.0" y="412.0" width="2.4" height="11.0" fill="#ee2a3a"/>
<rect x="300.0" y="412.0" width="4.0" height="1.6" fill="#ee2a3a"/>
<rect x="300.0" y="415.1" width="4.0" height="1.6" fill="#ee2a3a"/>
<rect x="300.0" y="418.3" width="4.0" height="1.6" fill="#ee2a3a"/>
<rect x="300.0" y="421.4" width="4.0" height="1.6" fill="#ee2a3a"/>
<rect x="300.0" y="430.0" width="2.4" height="12.0" fill="#ee2a3a"/>
<rect x="300.0" y="430.0" width="4.0" height="1.6" fill="#ee2a3a"/>
<rect x="300.0" y="433.5" width="4.0" height="1.6" fill="#ee2a3a"/>
<rect x="300.0" y="436.9" width="4.0" height="1.6" fill="#ee2a3a"/>
<rect x="300.0" y="440.4" width="4.0" height="1.6" fill="#ee2a3a"/>
<rect x="295.9" y="372.5" width="3.0" height="3.0" fill="#f030f0"/>
<rect x="295.9" y="424.5" width="3.0" height="3.0" fill="#f030f0"/>
<rect x="300.0" y="412.0" width="2.4" height="11.0" fill="#ee2a3a"/>
<rect x="300.0" y="412.0" width="4.0" height="1.6" fill="#ee2a3a"/>
<rect x="300.0" y="415.1" width="4.0" height="1.6" fill="#ee2a3a"/>
<rect x="300.0" y="418.3" width="4.0" height="1.6" fill="#ee2a3a"/>
<rect x="300.0" y="421.4" width="4.0" height="1.6" fill="#ee2a3a"/>
<rect x="300.0" y="429.0" width="2.4" height="12.0" fill="#ee2a3a"/>
<rect x="300.0" y="429.0" width="4.0" height="1.6" fill="#ee2a3a"/>
<rect x="300.0" y="432.5" width="4.0" height="1.6" fill="#ee2a3a"/>
<rect x="300.0" y="435.9" width="4.0" height="1.6" fill="#ee2a3a"/>
<rect x="300.0" y="439.4" width="4.0" height="1.6" fill="#ee2a3a"/>
<rect x="300.0" y="464.0" width="2.4" height="11.0" fill="#ee2a3a"/>
<rect x="300.0" y="464.0" width="4.0" height="1.6" fill="#ee2a3a"/>
<rect x="300.0" y="467.1" width="4.0" height="1.6" fill="#ee2a3a"/>
<rect x="300.0" y="470.3" width="4.0" height="1.6" fill="#ee2a3a"/>
<rect x="300.0" y="473.4" width="4.0" height="1.6" fill="#ee2a3a"/>
<rect x="300.0" y="482.0" width="2.4" height="12.0" fill="#ee2a3a"/>
<rect x="300.0" y="482.0" width="4.0" height="1.6" fill="#ee2a3a"/>
<rect x="300.0" y="485.5" width="4.0" height="1.6" fill="#ee2a3a"/>
<rect x="300.0" y="488.9" width="4.0" height="1.6" fill="#ee2a3a"/>
<rect x="300.0" y="492.4" width="4.0" height="1.6" fill="#ee2a3a"/>
<rect x="295.9" y="424.5" width="3.0" height="3.0" fill="#f030f0"/>
<rect x="295.9" y="476.5" width="3.0" height="3.0" fill="#f030f0"/>
<rect x="300.0" y="514.0" width="2.4" height="11.0" fill="#ee2a3a"/>
<rect x="300.0" y="514.0" width="4.0" height="1.6" fill="#ee2a3a"/>
<rect x="300.0" y="517.1" width="4.0" height="1.6" fill="#ee2a3a"/>
<rect x="300.0" y="520.3" width="4.0" height="1.6" fill="#ee2a3a"/>
<rect x="300.0" y="523.4" width="4.0" height="1.6" fill="#ee2a3a"/>
<rect x="300.0" y="531.0" width="2.4" height="12.0" fill="#ee2a3a"/>
<rect x="300.0" y="531.0" width="4.0" height="1.6" fill="#ee2a3a"/>
<rect x="300.0" y="534.5" width="4.0" height="1.6" fill="#ee2a3a"/>
<rect x="300.0" y="537.9" width="4.0" height="1.6" fill="#ee2a3a"/>
<rect x="300.0" y="541.4" width="4.0" height="1.6" fill="#ee2a3a"/>
<rect x="300.0" y="566.0" width="2.4" height="11.0" fill="#ee2a3a"/>
<rect x="300.0" y="566.0" width="4.0" height="1.6" fill="#ee2a3a"/>
<rect x="300.0" y="569.1" width="4.0" height="1.6" fill="#ee2a3a"/>
<rect x="300.0" y="572.3" width="4.0" height="1.6" fill="#ee2a3a"/>
<rect x="300.0" y="575.4" width="4.0" height="1.6" fill="#ee2a3a"/>
<rect x="300.0" y="584.0" width="2.4" height="12.0" fill="#ee2a3a"/>
<rect x="300.0" y="584.0" width="4.0" height="1.6" fill="#ee2a3a"/>
<rect x="300.0" y="587.5" width="4.0" height="1.6" fill="#ee2a3a"/>
<rect x="300.0" y="590.9" width="4.0" height="1.6" fill="#ee2a3a"/>
<rect x="300.0" y="594.4" width="4.0" height="1.6" fill="#ee2a3a"/>
<rect x="295.9" y="526.5" width="3.0" height="3.0" fill="#f030f0"/>
<rect x="295.9" y="578.5" width="3.0" height="3.0" fill="#f030f0"/>
<rect x="300.0" y="613.0" width="2.4" height="11.0" fill="#ee2a3a"/>
<rect x="300.0" y="613.0" width="4.0" height="1.6" fill="#ee2a3a"/>
<rect x="300.0" y="616.1" width="4.0" height="1.6" fill="#ee2a3a"/>
<rect x="300.0" y="619.3" width="4.0" height="1.6" fill="#ee2a3a"/>
<rect x="300.0" y="622.4" width="4.0" height="1.6" fill="#ee2a3a"/>
<rect x="300.0" y="630.0" width="2.4" height="12.0" fill="#ee2a3a"/>
<rect x="300.0" y="630.0" width="4.0" height="1.6" fill="#ee2a3a"/>
<rect x="300.0" y="633.5" width="4.0" height="1.6" fill="#ee2a3a"/>
<rect x="300.0" y="636.9" width="4.0" height="1.6" fill="#ee2a3a"/>
<rect x="300.0" y="640.4" width="4.0" height="1.6" fill="#ee2a3a"/>
<rect x="300.0" y="665.0" width="2.4" height="11.0" fill="#ee2a3a"/>
<rect x="300.0" y="665.0" width="4.0" height="1.6" fill="#ee2a3a"/>
<rect x="300.0" y="668.1" width="4.0" height="1.6" fill="#ee2a3a"/>
<rect x="300.0" y="671.3" width="4.0" height="1.6" fill="#ee2a3a"/>
<rect x="300.0" y="674.4" width="4.0" height="1.6" fill="#ee2a3a"/>
<rect x="300.0" y="683.0" width="2.4" height="12.0" fill="#ee2a3a"/>
<rect x="300.0" y="683.0" width="4.0" height="1.6" fill="#ee2a3a"/>
<rect x="300.0" y="686.5" width="4.0" height="1.6" fill="#ee2a3a"/>
<rect x="300.0" y="689.9" width="4.0" height="1.6" fill="#ee2a3a"/>
<rect x="300.0" y="693.4" width="4.0" height="1.6" fill="#ee2a3a"/>
<rect x="295.9" y="625.5" width="3.0" height="3.0" fill="#f030f0"/>
<rect x="295.9" y="677.5" width="3.0" height="3.0" fill="#f030f0"/>
<rect x="300.0" y="718.0" width="2.4" height="11.0" fill="#ee2a3a"/>
<rect x="300.0" y="718.0" width="4.0" height="1.6" fill="#ee2a3a"/>
<rect x="300.0" y="721.1" width="4.0" height="1.6" fill="#ee2a3a"/>
<rect x="300.0" y="724.3" width="4.0" height="1.6" fill="#ee2a3a"/>
<rect x="300.0" y="727.4" width="4.0" height="1.6" fill="#ee2a3a"/>
<rect x="300.0" y="735.0" width="2.4" height="12.0" fill="#ee2a3a"/>
<rect x="300.0" y="735.0" width="4.0" height="1.6" fill="#ee2a3a"/>
<rect x="300.0" y="738.5" width="4.0" height="1.6" fill="#ee2a3a"/>
<rect x="300.0" y="741.9" width="4.0" height="1.6" fill="#ee2a3a"/>
<rect x="300.0" y="745.4" width="4.0" height="1.6" fill="#ee2a3a"/>
<rect x="300.0" y="770.0" width="2.4" height="11.0" fill="#ee2a3a"/>
<rect x="300.0" y="770.0" width="4.0" height="1.6" fill="#ee2a3a"/>
<rect x="300.0" y="773.1" width="4.0" height="1.6" fill="#ee2a3a"/>
<rect x="300.0" y="776.3" width="4.0" height="1.6" fill="#ee2a3a"/>
<rect x="300.0" y="779.4" width="4.0" height="1.6" fill="#ee2a3a"/>
<rect x="300.0" y="788.0" width="2.4" height="12.0" fill="#ee2a3a"/>
<rect x="300.0" y="788.0" width="4.0" height="1.6" fill="#ee2a3a"/>
<rect x="300.0" y="791.5" width="4.0" height="1.6" fill="#ee2a3a"/>
<rect x="300.0" y="794.9" width="4.0" height="1.6" fill="#ee2a3a"/>
<rect x="300.0" y="798.4" width="4.0" height="1.6" fill="#ee2a3a"/>
<rect x="295.9" y="730.5" width="3.0" height="3.0" fill="#f030f0"/>
<rect x="295.9" y="782.5" width="3.0" height="3.0" fill="#f030f0"/>
<line x1="228.0" y1="451.1" x2="290.0" y2="451.1" stroke="#f6f032" stroke-width="1.4" />
<line x1="228.0" y1="454.9" x2="290.0" y2="454.9" stroke="#f6f032" stroke-width="1.4" />
<line x1="288.4" y1="442.5" x2="298.4" y2="442.5" stroke="#f6f032" stroke-width="1.6" />
<line x1="288.4" y1="463.5" x2="298.4" y2="463.5" stroke="#f6f032" stroke-width="1.6" />
<line x1="288.4" y1="442.5" x2="288.4" y2="463.5" stroke="#f6f032" stroke-width="2.0" />
<rect x="292.0" y="447.8" width="4.6" height="10.4" fill="#202020" stroke="#808080" stroke-width="1.2"/>
<rect x="286.7" y="440.8" width="3.4" height="3.4" fill="#f030f0"/>
<rect x="295.2" y="440.8" width="3.4" height="3.4" fill="#f030f0"/>
<rect x="286.7" y="461.8" width="3.4" height="3.4" fill="#f030f0"/>
<rect x="295.2" y="461.8" width="3.4" height="3.4" fill="#f030f0"/>
<path d="M288.4 450.7 L273.4 445.5" fill="none" stroke="#62e23a" stroke-width="1.3"/>
<path d="M288.4 455.3 L273.4 460.5" fill="none" stroke="#62e23a" stroke-width="1.3"/>
<circle cx="271.9" cy="444.0" r="1.9" fill="none" stroke="#ffffff" stroke-width="1.2"/>
<circle cx="271.9" cy="462.0" r="1.9" fill="none" stroke="#ffffff" stroke-width="1.2"/>
<rect x="226.5" y="424.6" width="3.0" height="57.4" fill="#f6f032"/>
<rect x="194.8" y="424.6" width="3.0" height="19.5" fill="#f6f032"/>
<rect x="194.8" y="462.5" width="3.0" height="19.5" fill="#f6f032"/>
<rect x="215.0" y="424.7" width="13.0" height="2.4" fill="#f6f032"/>
<rect x="196.3" y="424.7" width="7.7" height="2.4" fill="#f6f032"/>
<rect x="204.0" y="425.1" width="11.0" height="1.6" fill="#46eaea"/>
<rect x="215.0" y="479.5" width="13.0" height="2.4" fill="#f6f032"/>
<rect x="196.3" y="479.5" width="7.7" height="2.4" fill="#f6f032"/>
<rect x="204.0" y="479.9" width="11.0" height="1.6" fill="#46eaea"/>
<rect x="202.0" y="451.9" width="26.0" height="2.8" fill="#f6f032"/>
<rect x="202.0" y="442.9" width="2.4" height="20.8" fill="#f6f032"/>
<rect x="196.3" y="442.9" width="8.1" height="2.0" fill="#f6f032"/>
<rect x="196.3" y="461.7" width="8.1" height="2.0" fill="#f6f032"/>
<rect x="195.8" y="444.7" width="4.6" height="17.2" fill="#ee2a3a"/>
<rect x="221.4" y="438.8" width="4.4" height="29.0" fill="#808080"/>
<rect x="220.0" y="428.2" width="4.4" height="3.2" fill="#2f86dc"/>
<rect x="200.4" y="429.7" width="18.4" height="4.2" fill="#ee2a3a"/>
<rect x="206.6" y="435.5" width="14.2" height="12.4" fill="#d8d8d8"/>
<rect x="213.4" y="437.9" width="4.6" height="3.4" fill="#000"/>
<rect x="208.5" y="442.9" width="4.0" height="2.6" fill="#000"/>
<rect x="216.6" y="444.9" width="3.0" height="2.2" fill="#444"/>
<rect x="197.4" y="434.1" width="5.4" height="7.4" fill="#808080"/>
<rect x="226.3" y="424.2" width="3.4" height="3.4" fill="#f030f0"/>
<rect x="220.0" y="475.2" width="4.4" height="3.2" fill="#2f86dc"/>
<rect x="200.4" y="472.7" width="18.4" height="4.2" fill="#ee2a3a"/>
<rect x="206.6" y="458.7" width="14.2" height="12.4" fill="#d8d8d8"/>
<rect x="213.4" y="461.1" width="4.6" height="3.4" fill="#000"/>
<rect x="208.5" y="466.1" width="4.0" height="2.6" fill="#000"/>
<rect x="216.6" y="468.1" width="3.0" height="2.2" fill="#444"/>
<rect x="197.4" y="465.1" width="5.4" height="7.4" fill="#808080"/>
<rect x="226.3" y="479.0" width="3.4" height="3.4" fill="#f030f0"/>
<rect x="194.5" y="423.7" width="3.6" height="3.6" fill="#f030f0"/>
<rect x="226.3" y="451.6" width="3.4" height="3.4" fill="#f030f0"/>
<rect x="201.5" y="451.6" width="3.4" height="3.4" fill="#f030f0"/>
<rect x="194.5" y="479.3" width="3.6" height="3.6" fill="#f030f0"/>
<path d="M194.7 445.9 V460.7 L189.3 457.1 V449.5 Z" fill="#46eaea" stroke="#46eaea" stroke-width="0.8"/>
<circle cx="192.4" cy="450.6" r="0.9" fill="#000" stroke="#000" stroke-width="0.1"/>
<circle cx="192.4" cy="456.0" r="0.9" fill="#000" stroke="#000" stroke-width="0.1"/>
<path d="M196.3 425.7 Q209.0 424.7 208.0 414.7 L199.0 411.7" fill="none" stroke="#46eaea" stroke-width="1.3"/>
<path d="M197.6 415.7 L201.2 412.7" fill="none" stroke="#ee2a3a" stroke-width="1.8399999999999999"/>
<rect x="200.0" y="412.1" width="2.3" height="9.0" fill="#ee2a3a"/>
<path d="M196.3 480.3 Q209.0 481.3 208.0 491.3 L199.0 494.3" fill="none" stroke="#46eaea" stroke-width="1.3"/>
<path d="M197.6 488.3 L201.2 485.3" fill="none" stroke="#ee2a3a" stroke-width="1.8399999999999999"/>
<rect x="200.0" y="484.7" width="2.3" height="9.0" fill="#ee2a3a"/>
<text x="266.0" y="420.0" fill="#ffffff" font-size="6.2" text-anchor="middle" font-weight="bold" >H1</text>
<text x="264.0" y="426.6" fill="#ffffff" font-size="5.2" text-anchor="middle" font-weight="bold" font-style="italic">27.84</text>
<text x="264.0" y="472.0" fill="#ffffff" font-size="6.2" text-anchor="middle" font-weight="bold" >H1</text>
<text x="262.0" y="478.6" fill="#ffffff" font-size="5.2" text-anchor="middle" font-weight="bold" font-style="italic">27.84</text>
<line x1="228.0" y1="553.1" x2="290.0" y2="553.1" stroke="#f6f032" stroke-width="1.4" />
<line x1="228.0" y1="556.9" x2="290.0" y2="556.9" stroke="#f6f032" stroke-width="1.4" />
<line x1="288.4" y1="544.5" x2="298.4" y2="544.5" stroke="#f6f032" stroke-width="1.6" />
<line x1="288.4" y1="565.5" x2="298.4" y2="565.5" stroke="#f6f032" stroke-width="1.6" />
<line x1="288.4" y1="544.5" x2="288.4" y2="565.5" stroke="#f6f032" stroke-width="2.0" />
<rect x="292.0" y="549.8" width="4.6" height="10.4" fill="#202020" stroke="#808080" stroke-width="1.2"/>
<rect x="286.7" y="542.8" width="3.4" height="3.4" fill="#f030f0"/>
<rect x="295.2" y="542.8" width="3.4" height="3.4" fill="#f030f0"/>
<rect x="286.7" y="563.8" width="3.4" height="3.4" fill="#f030f0"/>
<rect x="295.2" y="563.8" width="3.4" height="3.4" fill="#f030f0"/>
<path d="M288.4 552.7 L273.4 547.5" fill="none" stroke="#62e23a" stroke-width="1.3"/>
<path d="M288.4 557.3 L273.4 562.5" fill="none" stroke="#62e23a" stroke-width="1.3"/>
<circle cx="271.9" cy="546.0" r="1.9" fill="none" stroke="#ffffff" stroke-width="1.2"/>
<circle cx="271.9" cy="564.0" r="1.9" fill="none" stroke="#ffffff" stroke-width="1.2"/>
<rect x="226.5" y="526.6" width="3.0" height="57.4" fill="#f6f032"/>
<rect x="194.8" y="526.6" width="3.0" height="19.5" fill="#f6f032"/>
<rect x="194.8" y="564.5" width="3.0" height="19.5" fill="#f6f032"/>
<rect x="215.0" y="526.7" width="13.0" height="2.4" fill="#f6f032"/>
<rect x="196.3" y="526.7" width="7.7" height="2.4" fill="#f6f032"/>
<rect x="204.0" y="527.1" width="11.0" height="1.6" fill="#46eaea"/>
<rect x="215.0" y="581.5" width="13.0" height="2.4" fill="#f6f032"/>
<rect x="196.3" y="581.5" width="7.7" height="2.4" fill="#f6f032"/>
<rect x="204.0" y="581.9" width="11.0" height="1.6" fill="#46eaea"/>
<rect x="202.0" y="553.9" width="26.0" height="2.8" fill="#f6f032"/>
<rect x="202.0" y="544.9" width="2.4" height="20.8" fill="#f6f032"/>
<rect x="196.3" y="544.9" width="8.1" height="2.0" fill="#f6f032"/>
<rect x="196.3" y="563.7" width="8.1" height="2.0" fill="#f6f032"/>
<rect x="195.8" y="546.7" width="4.6" height="17.2" fill="#ee2a3a"/>
<rect x="221.4" y="540.8" width="4.4" height="29.0" fill="#808080"/>
<rect x="220.0" y="530.2" width="4.4" height="3.2" fill="#2f86dc"/>
<rect x="200.4" y="531.7" width="18.4" height="4.2" fill="#ee2a3a"/>
<rect x="206.6" y="537.5" width="14.2" height="12.4" fill="#d8d8d8"/>
<rect x="213.4" y="539.9" width="4.6" height="3.4" fill="#000"/>
<rect x="208.5" y="544.9" width="4.0" height="2.6" fill="#000"/>
<rect x="216.6" y="546.9" width="3.0" height="2.2" fill="#444"/>
<rect x="197.4" y="536.1" width="5.4" height="7.4" fill="#808080"/>
<rect x="226.3" y="526.2" width="3.4" height="3.4" fill="#f030f0"/>
<rect x="220.0" y="577.2" width="4.4" height="3.2" fill="#2f86dc"/>
<rect x="200.4" y="574.7" width="18.4" height="4.2" fill="#ee2a3a"/>
<rect x="206.6" y="560.7" width="14.2" height="12.4" fill="#d8d8d8"/>
<rect x="213.4" y="563.1" width="4.6" height="3.4" fill="#000"/>
<rect x="208.5" y="568.1" width="4.0" height="2.6" fill="#000"/>
<rect x="216.6" y="570.1" width="3.0" height="2.2" fill="#444"/>
<rect x="197.4" y="567.1" width="5.4" height="7.4" fill="#808080"/>
<rect x="226.3" y="581.0" width="3.4" height="3.4" fill="#f030f0"/>
<rect x="194.5" y="525.7" width="3.6" height="3.6" fill="#f030f0"/>
<rect x="226.3" y="553.6" width="3.4" height="3.4" fill="#f030f0"/>
<rect x="201.5" y="553.6" width="3.4" height="3.4" fill="#f030f0"/>
<rect x="194.5" y="581.3" width="3.6" height="3.6" fill="#f030f0"/>
<path d="M194.7 547.9 V562.7 L189.3 559.1 V551.5 Z" fill="#46eaea" stroke="#46eaea" stroke-width="0.8"/>
<circle cx="192.4" cy="552.6" r="0.9" fill="#000" stroke="#000" stroke-width="0.1"/>
<circle cx="192.4" cy="558.0" r="0.9" fill="#000" stroke="#000" stroke-width="0.1"/>
<path d="M196.3 527.7 Q209.0 526.7 208.0 516.7 L199.0 513.7" fill="none" stroke="#46eaea" stroke-width="1.3"/>
<path d="M197.6 517.7 L201.2 514.7" fill="none" stroke="#ee2a3a" stroke-width="1.8399999999999999"/>
<rect x="200.0" y="514.1" width="2.3" height="9.0" fill="#ee2a3a"/>
<path d="M196.3 582.3 Q209.0 583.3 208.0 593.3 L199.0 596.3" fill="none" stroke="#46eaea" stroke-width="1.3"/>
<path d="M197.6 590.3 L201.2 587.3" fill="none" stroke="#ee2a3a" stroke-width="1.8399999999999999"/>
<rect x="200.0" y="586.7" width="2.3" height="9.0" fill="#ee2a3a"/>
<text x="266.0" y="526.0" fill="#ffffff" font-size="6.2" text-anchor="middle" font-weight="bold" >H1</text>
<text x="264.0" y="532.6" fill="#ffffff" font-size="5.2" text-anchor="middle" font-weight="bold" font-style="italic">27.84</text>
<text x="264.0" y="577.5" fill="#ffffff" font-size="6.2" text-anchor="middle" font-weight="bold" >H1</text>
<text x="262.0" y="584.1" fill="#ffffff" font-size="5.2" text-anchor="middle" font-weight="bold" font-style="italic">27.84</text>
<line x1="228.0" y1="757.1" x2="290.0" y2="757.1" stroke="#f6f032" stroke-width="1.4" />
<line x1="228.0" y1="760.9" x2="290.0" y2="760.9" stroke="#f6f032" stroke-width="1.4" />
<line x1="288.4" y1="748.5" x2="298.4" y2="748.5" stroke="#f6f032" stroke-width="1.6" />
<line x1="288.4" y1="769.5" x2="298.4" y2="769.5" stroke="#f6f032" stroke-width="1.6" />
<line x1="288.4" y1="748.5" x2="288.4" y2="769.5" stroke="#f6f032" stroke-width="2.0" />
<rect x="292.0" y="753.8" width="4.6" height="10.4" fill="#202020" stroke="#808080" stroke-width="1.2"/>
<rect x="286.7" y="746.8" width="3.4" height="3.4" fill="#f030f0"/>
<rect x="295.2" y="746.8" width="3.4" height="3.4" fill="#f030f0"/>
<rect x="286.7" y="767.8" width="3.4" height="3.4" fill="#f030f0"/>
<rect x="295.2" y="767.8" width="3.4" height="3.4" fill="#f030f0"/>
<path d="M288.4 756.7 L273.4 751.5" fill="none" stroke="#62e23a" stroke-width="1.3"/>
<path d="M288.4 761.3 L273.4 766.5" fill="none" stroke="#62e23a" stroke-width="1.3"/>
<circle cx="271.9" cy="750.0" r="1.9" fill="none" stroke="#ffffff" stroke-width="1.2"/>
<circle cx="271.9" cy="768.0" r="1.9" fill="none" stroke="#ffffff" stroke-width="1.2"/>
<rect x="226.5" y="730.6" width="3.0" height="57.4" fill="#f6f032"/>
<rect x="194.8" y="730.6" width="3.0" height="19.5" fill="#f6f032"/>
<rect x="194.8" y="768.5" width="3.0" height="19.5" fill="#f6f032"/>
<rect x="215.0" y="730.7" width="13.0" height="2.4" fill="#f6f032"/>
<rect x="196.3" y="730.7" width="7.7" height="2.4" fill="#f6f032"/>
<rect x="204.0" y="731.1" width="11.0" height="1.6" fill="#46eaea"/>
<rect x="215.0" y="785.5" width="13.0" height="2.4" fill="#f6f032"/>
<rect x="196.3" y="785.5" width="7.7" height="2.4" fill="#f6f032"/>
<rect x="204.0" y="785.9" width="11.0" height="1.6" fill="#46eaea"/>
<rect x="202.0" y="757.9" width="26.0" height="2.8" fill="#f6f032"/>
<rect x="202.0" y="748.9" width="2.4" height="20.8" fill="#f6f032"/>
<rect x="196.3" y="748.9" width="8.1" height="2.0" fill="#f6f032"/>
<rect x="196.3" y="767.7" width="8.1" height="2.0" fill="#f6f032"/>
<rect x="195.8" y="750.7" width="4.6" height="17.2" fill="#ee2a3a"/>
<rect x="221.4" y="744.8" width="4.4" height="29.0" fill="#808080"/>
<rect x="220.0" y="734.2" width="4.4" height="3.2" fill="#2f86dc"/>
<rect x="200.4" y="735.7" width="18.4" height="4.2" fill="#ee2a3a"/>
<rect x="206.6" y="741.5" width="14.2" height="12.4" fill="#d8d8d8"/>
<rect x="213.4" y="743.9" width="4.6" height="3.4" fill="#000"/>
<rect x="208.5" y="748.9" width="4.0" height="2.6" fill="#000"/>
<rect x="216.6" y="750.9" width="3.0" height="2.2" fill="#444"/>
<rect x="197.4" y="740.1" width="5.4" height="7.4" fill="#808080"/>
<rect x="226.3" y="730.2" width="3.4" height="3.4" fill="#f030f0"/>
<rect x="220.0" y="781.2" width="4.4" height="3.2" fill="#2f86dc"/>
<rect x="200.4" y="778.7" width="18.4" height="4.2" fill="#ee2a3a"/>
<rect x="206.6" y="764.7" width="14.2" height="12.4" fill="#d8d8d8"/>
<rect x="213.4" y="767.1" width="4.6" height="3.4" fill="#000"/>
<rect x="208.5" y="772.1" width="4.0" height="2.6" fill="#000"/>
<rect x="216.6" y="774.1" width="3.0" height="2.2" fill="#444"/>
<rect x="197.4" y="771.1" width="5.4" height="7.4" fill="#808080"/>
<rect x="226.3" y="785.0" width="3.4" height="3.4" fill="#f030f0"/>
<rect x="194.5" y="729.7" width="3.6" height="3.6" fill="#f030f0"/>
<rect x="226.3" y="757.6" width="3.4" height="3.4" fill="#f030f0"/>
<rect x="201.5" y="757.6" width="3.4" height="3.4" fill="#f030f0"/>
<rect x="194.5" y="785.3" width="3.6" height="3.6" fill="#f030f0"/>
<path d="M194.7 751.9 V766.7 L189.3 763.1 V755.5 Z" fill="#46eaea" stroke="#46eaea" stroke-width="0.8"/>
<circle cx="192.4" cy="756.6" r="0.9" fill="#000" stroke="#000" stroke-width="0.1"/>
<circle cx="192.4" cy="762.0" r="0.9" fill="#000" stroke="#000" stroke-width="0.1"/>
<path d="M196.3 731.7 Q209.0 730.7 208.0 720.7 L199.0 717.7" fill="none" stroke="#46eaea" stroke-width="1.3"/>
<path d="M197.6 721.7 L201.2 718.7" fill="none" stroke="#ee2a3a" stroke-width="1.8399999999999999"/>
<rect x="200.0" y="718.1" width="2.3" height="9.0" fill="#ee2a3a"/>
<path d="M196.3 786.3 Q209.0 787.3 208.0 797.3 L199.0 800.3" fill="none" stroke="#46eaea" stroke-width="1.3"/>
<path d="M197.6 794.3 L201.2 791.3" fill="none" stroke="#ee2a3a" stroke-width="1.8399999999999999"/>
<rect x="200.0" y="790.7" width="2.3" height="9.0" fill="#ee2a3a"/>
<text x="266.0" y="729.0" fill="#ffffff" font-size="6.2" text-anchor="middle" font-weight="bold" >H1</text>
<text x="264.0" y="735.6" fill="#ffffff" font-size="5.2" text-anchor="middle" font-weight="bold" font-style="italic">27.84</text>
<text x="264.0" y="783.0" fill="#ffffff" font-size="6.2" text-anchor="middle" font-weight="bold" >H1</text>
<text x="262.0" y="789.6" fill="#ffffff" font-size="5.2" text-anchor="middle" font-weight="bold" font-style="italic">27.84</text>
<rect x="196.0" y="341.6" width="95.0" height="3.8" fill="#f6f032"/>
<line x1="196.0" y1="343.5" x2="291.0" y2="343.5" stroke="#000" stroke-width="0.7" />
<rect x="221.3" y="339.5" width="8.0" height="8.0" fill="#f030f0"/>
<rect x="222.8" y="341.0" width="5.0" height="5.0" fill="#808080"/>
<rect x="290.4" y="339.5" width="8.0" height="8.0" fill="#f030f0"/>
<rect x="291.9" y="341.0" width="5.0" height="5.0" fill="#808080"/>
<rect x="194.6" y="341.8" width="3.4" height="3.4" fill="#f030f0"/>
<rect x="196.0" y="400.4" width="95.0" height="3.8" fill="#f6f032"/>
<line x1="196.0" y1="402.3" x2="291.0" y2="402.3" stroke="#000" stroke-width="0.7" />
<rect x="221.3" y="398.3" width="8.0" height="8.0" fill="#f030f0"/>
<rect x="222.8" y="399.8" width="5.0" height="5.0" fill="#808080"/>
<rect x="290.4" y="398.3" width="8.0" height="8.0" fill="#f030f0"/>
<rect x="291.9" y="399.8" width="5.0" height="5.0" fill="#808080"/>
<rect x="194.6" y="400.6" width="3.4" height="3.4" fill="#f030f0"/>
<rect x="196.0" y="502.1" width="95.0" height="3.8" fill="#f6f032"/>
<line x1="196.0" y1="504.0" x2="291.0" y2="504.0" stroke="#000" stroke-width="0.7" />
<rect x="221.3" y="500.0" width="8.0" height="8.0" fill="#f030f0"/>
<rect x="222.8" y="501.5" width="5.0" height="5.0" fill="#808080"/>
<rect x="290.4" y="500.0" width="8.0" height="8.0" fill="#f030f0"/>
<rect x="291.9" y="501.5" width="5.0" height="5.0" fill="#808080"/>
<rect x="194.6" y="502.3" width="3.4" height="3.4" fill="#f030f0"/>
<rect x="196.0" y="604.4" width="95.0" height="3.8" fill="#f6f032"/>
<line x1="196.0" y1="606.3" x2="291.0" y2="606.3" stroke="#000" stroke-width="0.7" />
<rect x="221.3" y="602.3" width="8.0" height="8.0" fill="#f030f0"/>
<rect x="222.8" y="603.8" width="5.0" height="5.0" fill="#808080"/>
<rect x="290.4" y="602.3" width="8.0" height="8.0" fill="#f030f0"/>
<rect x="291.9" y="603.8" width="5.0" height="5.0" fill="#808080"/>
<rect x="194.6" y="604.6" width="3.4" height="3.4" fill="#f030f0"/>
<rect x="196.0" y="706.1" width="95.0" height="3.8" fill="#f6f032"/>
<line x1="196.0" y1="708.0" x2="291.0" y2="708.0" stroke="#000" stroke-width="0.7" />
<rect x="221.3" y="704.0" width="8.0" height="8.0" fill="#f030f0"/>
<rect x="222.8" y="705.5" width="5.0" height="5.0" fill="#808080"/>
<rect x="290.4" y="704.0" width="8.0" height="8.0" fill="#f030f0"/>
<rect x="291.9" y="705.5" width="5.0" height="5.0" fill="#808080"/>
<rect x="194.6" y="706.3" width="3.4" height="3.4" fill="#f030f0"/>
<rect x="196.0" y="807.9" width="95.0" height="3.8" fill="#f6f032"/>
<rect x="221.3" y="805.8" width="8.0" height="8.0" fill="#f030f0"/>
<rect x="222.8" y="807.3" width="5.0" height="5.0" fill="#808080"/>
<rect x="290.4" y="805.8" width="8.0" height="8.0" fill="#f030f0"/>
<rect x="291.9" y="807.3" width="5.0" height="5.0" fill="#808080"/>
<rect x="194.6" y="808.1" width="3.4" height="3.4" fill="#f030f0"/>
<line x1="196.3" y1="300.0" x2="196.3" y2="343.0" stroke="#f6f032" stroke-width="2.2" />
<line x1="196.3" y1="343.0" x2="196.3" y2="350.0" stroke="#f6f032" stroke-width="2.2" />
<line x1="196.3" y1="392.0" x2="196.3" y2="412.0" stroke="#f6f032" stroke-width="2.2" />
<line x1="196.3" y1="494.0" x2="196.3" y2="514.0" stroke="#f6f032" stroke-width="2.2" />
<line x1="196.3" y1="596.0" x2="196.3" y2="616.0" stroke="#f6f032" stroke-width="2.2" />
<line x1="196.3" y1="640.0" x2="196.3" y2="652.0" stroke="#f6f032" stroke-width="2.2" />
<line x1="196.3" y1="698.0" x2="196.3" y2="718.0" stroke="#f6f032" stroke-width="2.2" />
<line x1="196.3" y1="800.0" x2="196.3" y2="810.0" stroke="#f6f032" stroke-width="2.2" />
<rect x="196.3" y="344.0" width="31.7" height="34.0" fill="none" stroke="#f6f032" stroke-width="2.2"/>
<rect x="194.7" y="342.4" width="3.2" height="3.2" fill="#f030f0"/>
<rect x="226.4" y="342.4" width="3.2" height="3.2" fill="#f030f0"/>
<rect x="194.7" y="376.4" width="3.2" height="3.2" fill="#f030f0"/>
<rect x="226.4" y="376.4" width="3.2" height="3.2" fill="#f030f0"/>
<rect x="199.3" y="351.0" width="3.6" height="14.0" fill="#ee2a3a"/>
<rect x="204.3" y="371.0" width="16.0" height="3.4" fill="#ee2a3a"/>
<rect x="208.3" y="347.0" width="12.0" height="12.0" fill="#202020" stroke="#808080" stroke-width="1.4"/>
<text x="215.3" y="354.0" fill="#ffffff" font-size="6.2" text-anchor="middle" font-weight="bold" >W1</text>
<text x="215.3" y="362.0" fill="#ffffff" font-size="5" text-anchor="middle" font-weight="bold" >3.8</text>
<rect x="222.0" y="372.0" width="3.0" height="3.0" fill="#2f86dc"/>
<path d="M195.1 351.0 Q188.3 358.0 195.1 365.0" fill="none" stroke="#46eaea" stroke-width="1.3"/>
<rect x="196.3" y="649.5" width="31.7" height="36.0" fill="none" stroke="#f6f032" stroke-width="2.2"/>
<rect x="194.7" y="647.9" width="3.2" height="3.2" fill="#f030f0"/>
<rect x="226.4" y="647.9" width="3.2" height="3.2" fill="#f030f0"/>
<rect x="194.7" y="683.9" width="3.2" height="3.2" fill="#f030f0"/>
<rect x="226.4" y="683.9" width="3.2" height="3.2" fill="#f030f0"/>
<rect x="199.3" y="657.5" width="3.6" height="14.0" fill="#ee2a3a"/>
<rect x="204.3" y="678.5" width="16.0" height="3.4" fill="#ee2a3a"/>
<rect x="208.3" y="652.5" width="12.0" height="12.0" fill="#202020" stroke="#808080" stroke-width="1.4"/>
<text x="215.3" y="659.5" fill="#ffffff" font-size="6.2" text-anchor="middle" font-weight="bold" >W1</text>
<text x="215.3" y="667.5" fill="#ffffff" font-size="5" text-anchor="middle" font-weight="bold" >3.8</text>
<rect x="222.0" y="679.5" width="3.0" height="3.0" fill="#2f86dc"/>
<path d="M195.1 657.5 Q188.3 664.5 195.1 671.5" fill="none" stroke="#46eaea" stroke-width="1.3"/>
<path d="M196.3 379 Q209 380 208 391 L199 394" fill="none" stroke="#46eaea" stroke-width="1.3"/>
<path d="M197.4 387.1 L201.0 384.1" fill="none" stroke="#ee2a3a" stroke-width="1.8399999999999999"/>
<rect x="199.8" y="383.5" width="2.3" height="9.0" fill="#ee2a3a"/>
<path d="M196.3 686 Q209 687 208 698 L199 701" fill="none" stroke="#46eaea" stroke-width="1.3"/>
<path d="M197.4 694.1 L201.0 691.1" fill="none" stroke="#ee2a3a" stroke-width="1.8399999999999999"/>
<rect x="199.8" y="690.5" width="2.3" height="9.0" fill="#ee2a3a"/>
<text x="263.0" y="364.5" fill="#ffffff" font-size="6.2" text-anchor="middle" font-weight="bold" >H1</text>
<text x="261.0" y="371.1" fill="#ffffff" font-size="5.2" text-anchor="middle" font-weight="bold" font-style="italic">27.84</text>
<text x="264.0" y="674.5" fill="#ffffff" font-size="6.2" text-anchor="middle" font-weight="bold" >H1</text>
<text x="262.0" y="681.1" fill="#ffffff" font-size="5.2" text-anchor="middle" font-weight="bold" font-style="italic">27.84</text>
<rect x="288.4" y="344.0" width="9.6" height="19.0" fill="none" stroke="#f6f032" stroke-width="1.6"/>
<rect x="291.5" y="348.0" width="4.2" height="11.0" fill="#202020" stroke="#808080" stroke-width="1.2"/>
<rect x="286.7" y="361.3" width="3.4" height="3.4" fill="#f030f0"/>
<rect x="295.3" y="361.3" width="3.4" height="3.4" fill="#f030f0"/>
<rect x="286.7" y="342.3" width="3.4" height="3.4" fill="#f030f0"/>
<path d="M298 348.0 Q304 352.0 307 350.0" fill="none" stroke="#62e23a" stroke-width="1.3"/>
<circle cx="308.5" cy="349.0" r="1.9" fill="none" stroke="#ffffff" stroke-width="1.2"/>
<rect x="288.4" y="649.5" width="9.6" height="19.0" fill="none" stroke="#f6f032" stroke-width="1.6"/>
<rect x="291.5" y="653.5" width="4.2" height="11.0" fill="#202020" stroke="#808080" stroke-width="1.2"/>
<rect x="286.7" y="666.8" width="3.4" height="3.4" fill="#f030f0"/>
<rect x="295.3" y="666.8" width="3.4" height="3.4" fill="#f030f0"/>
<rect x="286.7" y="647.8" width="3.4" height="3.4" fill="#f030f0"/>
<path d="M298 653.5 Q304 657.5 307 655.5" fill="none" stroke="#62e23a" stroke-width="1.3"/>
<circle cx="308.5" cy="654.5" r="1.9" fill="none" stroke="#ffffff" stroke-width="1.2"/>
<line x1="196.3" y1="299.3" x2="262.0" y2="299.3" stroke="#f6f032" stroke-width="2.4" />
<line x1="227.0" y1="301.5" x2="227.0" y2="340.5" stroke="#ffffff" stroke-width="1.5" />
<line x1="230.4" y1="301.5" x2="230.4" y2="340.5" stroke="#ffffff" stroke-width="1.5" />
<line x1="233.9" y1="301.5" x2="233.9" y2="340.5" stroke="#ffffff" stroke-width="1.5" />
<line x1="237.3" y1="301.5" x2="237.3" y2="340.5" stroke="#ffffff" stroke-width="1.5" />
<line x1="240.8" y1="301.5" x2="240.8" y2="340.5" stroke="#ffffff" stroke-width="1.5" />
<line x1="244.2" y1="301.5" x2="244.2" y2="340.5" stroke="#ffffff" stroke-width="1.5" />
<line x1="247.7" y1="301.5" x2="247.7" y2="340.5" stroke="#ffffff" stroke-width="1.5" />
<line x1="251.2" y1="301.5" x2="251.2" y2="340.5" stroke="#ffffff" stroke-width="1.5" />
<line x1="254.6" y1="301.5" x2="254.6" y2="340.5" stroke="#ffffff" stroke-width="1.5" />
<line x1="258.1" y1="301.5" x2="258.1" y2="340.5" stroke="#ffffff" stroke-width="1.5" />
<line x1="261.5" y1="301.5" x2="261.5" y2="340.5" stroke="#ffffff" stroke-width="1.5" />
<rect x="227.0" y="318.8" width="34.5" height="4.4" fill="#ffffff"/>
<rect x="227.0" y="338.0" width="34.5" height="3.0" fill="#ffffff"/>
<path d="M222.5 312 H271.8 V332.2 H220" fill="none" stroke="#62e23a" stroke-width="1.3"/>
<text x="214.0" y="314.0" fill="#ffffff" font-size="5" text-anchor="middle" font-weight="bold" >up</text>
<text x="214.0" y="334.0" fill="#ffffff" font-size="5" text-anchor="middle" font-weight="bold" >dn</text>
<rect x="199.0" y="305.0" width="14.0" height="2.2" fill="#ee2a3a"/>
<rect x="199.0" y="305.0" width="1.6" height="4.0" fill="#ee2a3a"/>
<rect x="202.5" y="305.0" width="1.6" height="4.0" fill="#ee2a3a"/>
<rect x="206.0" y="305.0" width="1.6" height="4.0" fill="#ee2a3a"/>
<rect x="209.5" y="305.0" width="1.6" height="4.0" fill="#ee2a3a"/>
<text x="207.0" y="323.0" fill="#ee2a3a" font-size="9" text-anchor="middle" font-weight="bold" >1)</text>
<line x1="281.0" y1="300.0" x2="281.0" y2="343.0" stroke="#f6f032" stroke-width="2.4" />
<rect x="279.6" y="303.0" width="2.4" height="14.5" fill="#46eaea"/>
<rect x="274.2" y="305.0" width="2.2" height="13.0" fill="#ee2a3a"/>
<rect x="274.2" y="305.0" width="3.6" height="1.6" fill="#ee2a3a"/>
<rect x="274.2" y="308.8" width="3.6" height="1.6" fill="#ee2a3a"/>
<rect x="274.2" y="312.6" width="3.6" height="1.6" fill="#ee2a3a"/>
<rect x="274.2" y="316.4" width="3.6" height="1.6" fill="#ee2a3a"/>
<rect x="281.0" y="320.0" width="13.4" height="23.5" fill="none" stroke="#f6f032" stroke-width="1.8"/>
<rect x="285.0" y="324.0" width="3.6" height="9.0" fill="none" stroke="#46eaea" stroke-width="1.1"/>
<rect x="279.3" y="318.3" width="3.4" height="3.4" fill="#f030f0"/>
<rect x="292.7" y="318.3" width="3.4" height="3.4" fill="#f030f0"/>
<rect x="279.3" y="341.8" width="3.4" height="3.4" fill="#f030f0"/>
<rect x="194.6" y="297.6" width="3.4" height="3.4" fill="#f030f0"/>
<rect x="240.9" y="297.6" width="3.4" height="3.4" fill="#f030f0"/>
<rect x="220.8" y="292.2" width="8.0" height="8.0" fill="#f030f0"/>
<rect x="222.3" y="293.7" width="5.0" height="5.0" fill="#808080"/>
<path d="M205 300 l3 7 l5 0 l2 -6" fill="none" stroke="#46eaea" stroke-width="1.2"/>
<line x1="239.5" y1="609.0" x2="239.5" y2="647.0" stroke="#ffffff" stroke-width="1.5" />
<line x1="243.0" y1="609.0" x2="243.0" y2="647.0" stroke="#ffffff" stroke-width="1.5" />
<line x1="246.5" y1="609.0" x2="246.5" y2="647.0" stroke="#ffffff" stroke-width="1.5" />
<line x1="250.0" y1="609.0" x2="250.0" y2="647.0" stroke="#ffffff" stroke-width="1.5" />
<line x1="253.5" y1="609.0" x2="253.5" y2="647.0" stroke="#ffffff" stroke-width="1.5" />
<line x1="257.0" y1="609.0" x2="257.0" y2="647.0" stroke="#ffffff" stroke-width="1.5" />
<line x1="260.5" y1="609.0" x2="260.5" y2="647.0" stroke="#ffffff" stroke-width="1.5" />
<line x1="264.0" y1="609.0" x2="264.0" y2="647.0" stroke="#ffffff" stroke-width="1.5" />
<line x1="267.5" y1="609.0" x2="267.5" y2="647.0" stroke="#ffffff" stroke-width="1.5" />
<line x1="271.0" y1="609.0" x2="271.0" y2="647.0" stroke="#ffffff" stroke-width="1.5" />
<line x1="274.5" y1="609.0" x2="274.5" y2="647.0" stroke="#ffffff" stroke-width="1.5" />
<rect x="239.5" y="625.8" width="35.0" height="4.4" fill="#ffffff"/>
<rect x="239.5" y="644.5" width="35.0" height="3.0" fill="#ffffff"/>
<path d="M232 618 H283 V638 H230" fill="none" stroke="#62e23a" stroke-width="1.3"/>
<text x="229.0" y="620.0" fill="#ffffff" font-size="5" text-anchor="middle" font-weight="bold" >up</text>
<text x="229.0" y="640.0" fill="#ffffff" font-size="5" text-anchor="middle" font-weight="bold" >dn</text>
<line x1="196.3" y1="649.5" x2="290.0" y2="649.5" stroke="#f6f032" stroke-width="2.4" />
<rect x="196.5" y="608.5" width="22.5" height="19.0" fill="none" stroke="#f6f032" stroke-width="1.8"/>
<text x="208.0" y="621.0" fill="#ffffff" font-size="6" text-anchor="middle" font-weight="bold" >1</text>
<rect x="211.0" y="630.0" width="2.4" height="17.0" fill="#ee2a3a"/>
<rect x="211.0" y="630.0" width="4.0" height="1.6" fill="#ee2a3a"/>
<rect x="211.0" y="633.1" width="4.0" height="1.6" fill="#ee2a3a"/>
<rect x="211.0" y="636.2" width="4.0" height="1.6" fill="#ee2a3a"/>
<rect x="211.0" y="639.2" width="4.0" height="1.6" fill="#ee2a3a"/>
<rect x="211.0" y="642.3" width="4.0" height="1.6" fill="#ee2a3a"/>
<rect x="211.0" y="645.4" width="4.0" height="1.6" fill="#ee2a3a"/>
<text x="224.0" y="640.0" fill="#ee2a3a" font-size="8.5" text-anchor="middle" font-weight="bold" >18</text>
<rect x="291.5" y="628.0" width="10.0" height="21.0" fill="none" stroke="#f6f032" stroke-width="1.6"/>
<rect x="294.6" y="632.0" width="3.6" height="11.0" fill="none" stroke="#46eaea" stroke-width="1.1"/>
<rect x="286.1" y="610.0" width="2.3" height="16.0" fill="#ee2a3a"/>
<rect x="286.1" y="610.0" width="3.8" height="1.6" fill="#ee2a3a"/>
<rect x="286.1" y="613.6" width="3.8" height="1.6" fill="#ee2a3a"/>
<rect x="286.1" y="617.2" width="3.8" height="1.6" fill="#ee2a3a"/>
<rect x="286.1" y="620.8" width="3.8" height="1.6" fill="#ee2a3a"/>
<rect x="286.1" y="624.4" width="3.8" height="1.6" fill="#ee2a3a"/>
<path d="M195 609 Q188 618 195 627" fill="none" stroke="#46eaea" stroke-width="1.3"/>
<line x1="387.3" y1="198.0" x2="387.3" y2="220.0" stroke="#f6f032" stroke-width="1.5" />
<line x1="381.0" y1="219.0" x2="394.5" y2="219.0" stroke="#f6f032" stroke-width="1.6" />
<line x1="394.0" y1="219.0" x2="394.0" y2="250.0" stroke="#f6f032" stroke-width="1.8" />
<line x1="381.0" y1="250.0" x2="394.5" y2="250.0" stroke="#f6f032" stroke-width="1.6" />
<rect x="392.0" y="221.0" width="2.4" height="17.5" fill="#46eaea"/>
<rect x="396.2" y="221.5" width="2.2" height="16.0" fill="#ee2a3a"/>
<rect x="396.2" y="221.5" width="3.6" height="1.6" fill="#ee2a3a"/>
<rect x="396.2" y="225.1" width="3.6" height="1.6" fill="#ee2a3a"/>
<rect x="396.2" y="228.7" width="3.6" height="1.6" fill="#ee2a3a"/>
<rect x="396.2" y="232.3" width="3.6" height="1.6" fill="#ee2a3a"/>
<rect x="396.2" y="235.9" width="3.6" height="1.6" fill="#ee2a3a"/>
<text x="386.5" y="229.0" fill="#ffffff" font-size="6" text-anchor="middle" font-weight="bold" >4</text>
<text x="387.0" y="238.0" fill="#ffffff" font-size="5" text-anchor="middle" font-weight="bold" >r-</text>
<rect x="378.3" y="217.3" width="3.4" height="3.4" fill="#f030f0"/>
<rect x="385.6" y="217.3" width="3.4" height="3.4" fill="#f030f0"/>
<rect x="391.8" y="239.3" width="3.4" height="3.4" fill="#f030f0"/>
<rect x="391.8" y="248.3" width="3.4" height="3.4" fill="#f030f0"/>
<rect x="374.3" y="220.3" width="3.4" height="3.4" fill="#f030f0"/>
<rect x="374.3" y="251.3" width="3.4" height="3.4" fill="#f030f0"/>
<line x1="366.4" y1="253.3" x2="380.8" y2="253.3" stroke="#f6f032" stroke-width="2.2" />
<path d="M396 241 V250 H400 M414.5 250 H417.4 V243 M400 250 Q407 253 414 248" fill="none" stroke="#46eaea" stroke-width="1.2"/>
<rect x="400.0" y="244.0" width="14.6" height="2.2" fill="#ee2a3a"/>
<rect x="400.0" y="244.0" width="1.6" height="4.0" fill="#ee2a3a"/>
<rect x="403.6" y="244.0" width="1.6" height="4.0" fill="#ee2a3a"/>
<rect x="407.3" y="244.0" width="1.6" height="4.0" fill="#ee2a3a"/>
<rect x="411.0" y="244.0" width="1.6" height="4.0" fill="#ee2a3a"/>
<line x1="421.9" y1="222.0" x2="421.9" y2="316.0" stroke="#f6f032" stroke-width="1.5" />
<line x1="425.4" y1="222.0" x2="425.4" y2="316.0" stroke="#f6f032" stroke-width="1.5" />
<rect x="421.5" y="221.2" width="37.3" height="33.1" fill="none" stroke="#f6f032" stroke-width="2.3"/>
<line x1="431.8" y1="222.0" x2="431.8" y2="254.0" stroke="#f6f032" stroke-width="1.6" />
<rect x="418.0" y="224.4" width="2.6" height="14.5" fill="#ee2a3a"/>
<rect x="451.2" y="227.2" width="3.6" height="19.0" fill="#ee2a3a"/>
<rect x="452.5" y="246.5" width="3.2" height="3.2" fill="#2f86dc"/>
<rect x="434.0" y="226.0" width="14.0" height="10.0" fill="#808080"/>
<text x="441.0" y="236.0" fill="#ffffff" font-size="6" text-anchor="middle" font-weight="bold" >W1</text>
<text x="443.0" y="247.0" fill="#ffffff" font-size="5" text-anchor="middle" font-weight="bold" >3.84</text>
<text x="427.0" y="233.0" fill="#ffffff" font-size="5.5" text-anchor="middle" font-weight="bold" >4</text>
<text x="427.0" y="246.0" fill="#ffffff" font-size="5.5" text-anchor="middle" font-weight="bold" >6</text>
<rect x="424.0" y="219.5" width="6.0" height="3.0" fill="#f6f032"/>
<path d="M434.5 220 v-2 h6 v2" fill="none" stroke="#46eaea" stroke-width="1.2"/>
<rect x="428.2" y="213.7" width="19.4" height="2.3" fill="#ee2a3a"/>
<rect x="428.2" y="213.7" width="1.6" height="4.2" fill="#ee2a3a"/>
<rect x="431.4" y="213.7" width="1.6" height="4.2" fill="#ee2a3a"/>
<rect x="434.7" y="213.7" width="1.6" height="4.2" fill="#ee2a3a"/>
<rect x="437.9" y="213.7" width="1.6" height="4.2" fill="#ee2a3a"/>
<rect x="441.1" y="213.7" width="1.6" height="4.2" fill="#ee2a3a"/>
<rect x="444.4" y="213.7" width="1.6" height="4.2" fill="#ee2a3a"/>
<rect x="419.9" y="219.5" width="3.3" height="3.3" fill="#f030f0"/>
<rect x="457.2" y="219.5" width="3.3" height="3.3" fill="#f030f0"/>
<rect x="430.2" y="227.3" width="3.3" height="3.3" fill="#f030f0"/>
<rect x="419.9" y="252.7" width="3.3" height="3.3" fill="#f030f0"/>
<rect x="430.2" y="252.7" width="3.3" height="3.3" fill="#f030f0"/>
<rect x="457.2" y="252.7" width="3.3" height="3.3" fill="#f030f0"/>
<rect x="421.4" y="239.3" width="3.3" height="3.3" fill="#f030f0"/>
<path d="M462.0 222.3 V226.3 L469.4 234.1 H474.5" fill="none" stroke="#46eaea" stroke-width="1.3"/>
<rect x="473.2" y="222.3" width="2.6" height="12.4" fill="#46eaea"/>
<rect x="464.0" y="224.5" width="11.6" height="2.2" fill="#ee2a3a"/>
<rect x="464.0" y="224.5" width="1.6" height="4.0" fill="#ee2a3a"/>
<rect x="467.9" y="224.5" width="1.6" height="4.0" fill="#ee2a3a"/>
<rect x="471.7" y="224.5" width="1.6" height="4.0" fill="#ee2a3a"/>
<line x1="384.4" y1="266.0" x2="420.3" y2="266.0" stroke="#ffffff" stroke-width="1.5" />
<line x1="384.4" y1="269.4" x2="420.3" y2="269.4" stroke="#ffffff" stroke-width="1.5" />
<line x1="384.4" y1="272.7" x2="420.3" y2="272.7" stroke="#ffffff" stroke-width="1.5" />
<line x1="384.4" y1="276.1" x2="420.3" y2="276.1" stroke="#ffffff" stroke-width="1.5" />
<line x1="384.4" y1="279.4" x2="420.3" y2="279.4" stroke="#ffffff" stroke-width="1.5" />
<line x1="384.4" y1="282.8" x2="420.3" y2="282.8" stroke="#ffffff" stroke-width="1.5" />
<line x1="384.4" y1="286.1" x2="420.3" y2="286.1" stroke="#ffffff" stroke-width="1.5" />
<line x1="384.4" y1="289.4" x2="420.3" y2="289.4" stroke="#ffffff" stroke-width="1.5" />
<line x1="384.4" y1="292.8" x2="420.3" y2="292.8" stroke="#ffffff" stroke-width="1.5" />
<line x1="384.4" y1="296.1" x2="420.3" y2="296.1" stroke="#ffffff" stroke-width="1.5" />
<line x1="384.4" y1="299.5" x2="420.3" y2="299.5" stroke="#ffffff" stroke-width="1.5" />
<rect x="398.8" y="264.5" width="5.6" height="35.0" fill="#ffffff"/>
<rect x="384.4" y="265.0" width="18.0" height="2.6" fill="#ffffff"/>
<path d="M391.6 269.6 V305.5 H413.9 V292.6 M413.9 259.6 V273 l-2.2 -4 M413.9 273 l2.2 -4" fill="none" stroke="#62e23a" stroke-width="1.4"/>
<text x="413.0" y="259.0" fill="#ffffff" font-size="5.5" text-anchor="middle" font-weight="bold" >up</text>
<text x="403.0" y="309.5" fill="#ee2a3a" font-size="8.5" text-anchor="middle" font-weight="bold" >70</text>
<circle cx="415.3" cy="308.4" r="1.9" fill="none" stroke="#ffffff" stroke-width="1.2"/>
<path d="M417 309.5 L425.3 314.9" fill="none" stroke="#62e23a" stroke-width="1.3"/>
<path d="M379.4 317 H399 Q401.6 317 401.6 319.5 V323 Q401.6 325.7 399 325.7 H379.4" fill="none" stroke="#f6f032" stroke-width="1.5"/>
<rect x="402.4" y="316.8" width="19.0" height="2.4" fill="#46eaea"/>
<rect x="406.0" y="321.5" width="11.4" height="2.2" fill="#ee2a3a"/>
<rect x="406.0" y="321.5" width="1.6" height="4.0" fill="#ee2a3a"/>
<rect x="409.8" y="321.5" width="1.6" height="4.0" fill="#ee2a3a"/>
<rect x="413.6" y="321.5" width="1.6" height="4.0" fill="#ee2a3a"/>
<rect x="448.6" y="327.3" width="10.4" height="2.1" fill="#ee2a3a"/>
<rect x="448.6" y="327.3" width="1.6" height="3.8" fill="#ee2a3a"/>
<rect x="452.1" y="327.3" width="1.6" height="3.8" fill="#ee2a3a"/>
<rect x="455.5" y="327.3" width="1.6" height="3.8" fill="#ee2a3a"/>
<rect x="469.0" y="327.3" width="10.0" height="2.1" fill="#ee2a3a"/>
<rect x="469.0" y="327.3" width="1.6" height="3.8" fill="#ee2a3a"/>
<rect x="472.3" y="327.3" width="1.6" height="3.8" fill="#ee2a3a"/>
<rect x="475.7" y="327.3" width="1.6" height="3.8" fill="#ee2a3a"/>
<rect x="421.8" y="315.6" width="20.1" height="9.4" fill="none" stroke="#f6f032" stroke-width="1.6"/>
<rect x="426.0" y="318.0" width="11.0" height="4.6" fill="#202020" stroke="#808080" stroke-width="1.2"/>
<rect x="420.2" y="314.0" width="3.3" height="3.3" fill="#f030f0"/>
<rect x="440.2" y="314.0" width="3.3" height="3.3" fill="#f030f0"/>
<rect x="420.2" y="323.4" width="3.3" height="3.3" fill="#f030f0"/>
<rect x="440.2" y="323.4" width="3.3" height="3.3" fill="#f030f0"/>
<text x="453.0" y="283.0" fill="#ffffff" font-size="6.2" text-anchor="middle" font-weight="bold" >H2</text>
<text x="451.0" y="289.6" fill="#ffffff" font-size="5.2" text-anchor="middle" font-weight="bold" font-style="italic">34.84</text>
<text x="456.0" y="307.5" fill="#ffffff" font-size="6.2" text-anchor="middle" font-weight="bold" >FM1521ZX</text>
<rect x="478.8" y="248.4" width="8.0" height="8.0" fill="#f030f0"/>
<rect x="480.3" y="249.9" width="5.0" height="5.0" fill="#808080"/>
<rect x="478.8" y="316.6" width="8.0" height="8.0" fill="#f030f0"/>
<rect x="480.3" y="318.1" width="5.0" height="5.0" fill="#808080"/>
<rect x="788.6" y="221.0" width="36.7" height="28.5" fill="none" stroke="#f6f032" stroke-width="2.4"/>
<rect x="791.5" y="225.0" width="31.5" height="21.0" fill="#000" stroke="#ffffff" stroke-width="1.4"/>
<rect x="791.5" y="225.0" width="4.3" height="21.0" fill="#ffffff"/>
<path d="M795.8 225 L823 246 M823 225 L795.8 246" fill="none" stroke="#ffffff" stroke-width="0.8"/>
<text x="810.0" y="239.5" fill="#ee2a3a" font-size="10.5" text-anchor="middle" font-weight="bold" >111</text>
<rect x="822.5" y="228.0" width="2.2" height="13.0" fill="#46eaea"/>
<rect x="787.0" y="219.3" width="3.3" height="3.3" fill="#f030f0"/>
<rect x="823.6" y="219.3" width="3.3" height="3.3" fill="#f030f0"/>
<rect x="823.6" y="240.3" width="3.3" height="3.3" fill="#f030f0"/>
<line x1="788.6" y1="221.0" x2="788.6" y2="322.0" stroke="#f6f032" stroke-width="2.6" />
<rect x="784.0" y="247.6" width="8.0" height="8.0" fill="#f030f0"/>
<rect x="785.5" y="249.1" width="5.0" height="5.0" fill="#808080"/>
<rect x="825.5" y="244.8" width="6.5" height="6.5" fill="#f030f0"/>
<rect x="827.0" y="246.2" width="3.5" height="3.5" fill="#808080"/>
<rect x="784.0" y="316.6" width="8.0" height="8.0" fill="#f030f0"/>
<rect x="785.5" y="318.1" width="5.0" height="5.0" fill="#808080"/>
<rect x="829.8" y="318.1" width="6.5" height="6.5" fill="#f030f0"/>
<rect x="831.2" y="319.6" width="3.5" height="3.5" fill="#808080"/>
<text x="807.0" y="262.0" fill="#ee2a3a" font-size="8.5" text-anchor="middle" font-weight="bold" >25</text>
<text x="798.5" y="263.0" fill="#ffffff" font-size="4.6" text-anchor="middle" font-weight="bold" >up</text>
<text x="820.0" y="263.0" fill="#ffffff" font-size="4.6" text-anchor="middle" font-weight="bold" >dn</text>
<path d="M824 250 L831 258 L824 263 M831 258 H835" fill="none" stroke="#46eaea" stroke-width="1.2"/>
<rect x="833.5" y="252.4" width="2.2" height="17.2" fill="#ee2a3a"/>
<rect x="833.5" y="252.4" width="3.6" height="1.6" fill="#ee2a3a"/>
<rect x="833.5" y="255.5" width="3.6" height="1.6" fill="#ee2a3a"/>
<rect x="833.5" y="258.6" width="3.6" height="1.6" fill="#ee2a3a"/>
<rect x="833.5" y="261.8" width="3.6" height="1.6" fill="#ee2a3a"/>
<rect x="833.5" y="264.9" width="3.6" height="1.6" fill="#ee2a3a"/>
<rect x="833.5" y="268.0" width="3.6" height="1.6" fill="#ee2a3a"/>
<line x1="790.0" y1="272.0" x2="830.3" y2="272.0" stroke="#ffffff" stroke-width="1.5" />
<line x1="790.0" y1="275.2" x2="830.3" y2="275.2" stroke="#ffffff" stroke-width="1.5" />
<line x1="790.0" y1="278.4" x2="830.3" y2="278.4" stroke="#ffffff" stroke-width="1.5" />
<line x1="790.0" y1="281.6" x2="830.3" y2="281.6" stroke="#ffffff" stroke-width="1.5" />
<line x1="790.0" y1="284.8" x2="830.3" y2="284.8" stroke="#ffffff" stroke-width="1.5" />
<line x1="790.0" y1="288.0" x2="830.3" y2="288.0" stroke="#ffffff" stroke-width="1.5" />
<line x1="790.0" y1="291.2" x2="830.3" y2="291.2" stroke="#ffffff" stroke-width="1.5" />
<line x1="790.0" y1="294.4" x2="830.3" y2="294.4" stroke="#ffffff" stroke-width="1.5" />
<line x1="790.0" y1="297.6" x2="830.3" y2="297.6" stroke="#ffffff" stroke-width="1.5" />
<line x1="790.0" y1="300.8" x2="830.3" y2="300.8" stroke="#ffffff" stroke-width="1.5" />
<line x1="790.0" y1="304.0" x2="830.3" y2="304.0" stroke="#ffffff" stroke-width="1.5" />
<rect x="808.0" y="270.5" width="3.0" height="33.5" fill="#ffffff"/>
<rect x="790.0" y="304.0" width="40.3" height="11.0" fill="none" stroke="#ffffff" stroke-width="1.2"/>
<path d="M798.7 264.6 V314 H821.7 V264.6" fill="none" stroke="#62e23a" stroke-width="1.3"/>
<line x1="831.7" y1="269.6" x2="831.7" y2="302.6" stroke="#f6f032" stroke-width="2.4" />
<rect x="832.0" y="301.5" width="10.3" height="23.9" fill="none" stroke="#f6f032" stroke-width="2.0"/>
<line x1="835.0" y1="306.0" x2="835.0" y2="318.0" stroke="#46eaea" stroke-width="1.2" />
<rect x="833.0" y="271.8" width="56.0" height="7.9" fill="#46eaea"/>
<rect x="831.4" y="273.9" width="3.3" height="3.3" fill="#f030f0"/>
<rect x="886.9" y="273.9" width="3.3" height="3.3" fill="#f030f0"/>
<rect x="850.4" y="280.7" width="20.1" height="2.5" fill="#ee2a3a"/>
<rect x="850.4" y="280.7" width="1.6" height="4.6" fill="#ee2a3a"/>
<rect x="853.8" y="280.7" width="1.6" height="4.6" fill="#ee2a3a"/>
<rect x="857.1" y="280.7" width="1.6" height="4.6" fill="#ee2a3a"/>
<rect x="860.5" y="280.7" width="1.6" height="4.6" fill="#ee2a3a"/>
<rect x="863.8" y="280.7" width="1.6" height="4.6" fill="#ee2a3a"/>
<rect x="867.1" y="280.7" width="1.6" height="4.6" fill="#ee2a3a"/>
<text x="862.0" y="295.0" fill="#ffffff" font-size="6.6" text-anchor="middle" font-weight="bold" >FM Z 1521</text>
<circle cx="883.4" cy="291.9" r="1.9" fill="none" stroke="#ffffff" stroke-width="1.2"/>
<path d="M885 293 Q889 298 893.5 299.8" fill="none" stroke="#62e23a" stroke-width="1.3"/>
<text x="858.3" y="235.5" fill="#ffffff" font-size="6" text-anchor="middle" font-weight="bold" >==</text>
<rect x="780.0" y="321.3" width="31.0" height="3.4" fill="#46eaea"/>
<rect x="811.0" y="325.0" width="22.0" height="7.6" fill="none" stroke="#f6f032" stroke-width="1.8"/>
<rect x="815.0" y="327.5" width="13.0" height="2.6" fill="#808080"/>
<rect x="809.4" y="323.4" width="3.3" height="3.3" fill="#f030f0"/>
<rect x="831.4" y="331.0" width="3.3" height="3.3" fill="#f030f0"/>
<rect x="809.4" y="331.0" width="3.3" height="3.3" fill="#f030f0"/>
<rect x="796.5" y="327.2" width="12.2" height="2.2" fill="#ee2a3a"/>
<rect x="796.5" y="327.2" width="1.6" height="4.0" fill="#ee2a3a"/>
<rect x="799.5" y="327.2" width="1.6" height="4.0" fill="#ee2a3a"/>
<rect x="802.6" y="327.2" width="1.6" height="4.0" fill="#ee2a3a"/>
<rect x="805.7" y="327.2" width="1.6" height="4.0" fill="#ee2a3a"/>
<path d="M768.0 222.3 V226.3 L775.4 234.1 H780.0" fill="none" stroke="#46eaea" stroke-width="1.3"/>
<rect x="778.7" y="222.3" width="2.6" height="12.4" fill="#46eaea"/>
<rect x="770.0" y="224.7" width="12.0" height="2.0" fill="#ee2a3a"/>
<rect x="770.0" y="224.7" width="1.6" height="3.6" fill="#ee2a3a"/>
<rect x="773.0" y="224.7" width="1.6" height="3.6" fill="#ee2a3a"/>
<rect x="776.0" y="224.7" width="1.6" height="3.6" fill="#ee2a3a"/>
<rect x="779.0" y="224.7" width="1.6" height="3.6" fill="#ee2a3a"/>
<rect x="781.0" y="224.0" width="3.0" height="3.0" fill="#2f86dc"/>
<line x1="760.0" y1="222.3" x2="770.0" y2="222.3" stroke="#f6f032" stroke-width="2.4" />
<line x1="977.0" y1="93.0" x2="977.0" y2="407.5" stroke="#46eaea" stroke-width="1.5" />
<line x1="971.3" y1="100.0" x2="971.3" y2="324.0" stroke="#f6f032" stroke-width="1.5" />
<line x1="974.3" y1="100.0" x2="974.3" y2="324.0" stroke="#f6f032" stroke-width="1.5" />
<line x1="971.3" y1="324.0" x2="971.3" y2="405.0" stroke="#62e23a" stroke-width="1.5" />
<line x1="974.6" y1="324.0" x2="974.6" y2="405.0" stroke="#62e23a" stroke-width="1.5" />
<line x1="890.3" y1="100.0" x2="890.3" y2="200.0" stroke="#f6f032" stroke-width="3.2" />
<line x1="890.8" y1="254.0" x2="890.8" y2="320.0" stroke="#f6f032" stroke-width="3.0" />
<path d="M886.8 95 V82.6 H975.6 V95" fill="none" stroke="#808080" stroke-width="2.2"/>
<rect x="887.5" y="85.5" width="13.5" height="8.9" fill="none" stroke="#808080" stroke-width="1.6"/>
<rect x="891.0" y="88.3" width="6.5" height="3.3" fill="none" stroke="#808080" stroke-width="1.1"/>
<rect x="960.5" y="85.5" width="14.5" height="8.9" fill="none" stroke="#808080" stroke-width="1.6"/>
<rect x="964.0" y="88.3" width="7.5" height="3.3" fill="none" stroke="#808080" stroke-width="1.1"/>
<rect x="916.0" y="95.0" width="31.0" height="3.0" fill="#46eaea"/>
<line x1="916.6" y1="96.0" x2="916.6" y2="121.0" stroke="#f6f032" stroke-width="2.4" />
<line x1="946.3" y1="96.0" x2="946.3" y2="121.0" stroke="#f6f032" stroke-width="2.4" />
<line x1="916.0" y1="120.6" x2="947.0" y2="120.6" stroke="#f6f032" stroke-width="2.4" />
<line x1="890.0" y1="120.2" x2="916.0" y2="120.2" stroke="#46eaea" stroke-width="1.2" />
<line x1="947.0" y1="120.2" x2="972.0" y2="120.2" stroke="#46eaea" stroke-width="1.2" />
<line x1="933.3" y1="121.0" x2="933.3" y2="167.0" stroke="#f6f032" stroke-width="3.0" />
<rect x="914.9" y="94.6" width="3.4" height="3.4" fill="#f030f0"/>
<rect x="944.6" y="94.6" width="3.4" height="3.4" fill="#f030f0"/>
<rect x="889.1" y="118.9" width="3.4" height="3.4" fill="#f030f0"/>
<rect x="914.9" y="118.9" width="3.4" height="3.4" fill="#f030f0"/>
<rect x="931.6" y="118.9" width="3.4" height="3.4" fill="#f030f0"/>
<rect x="944.6" y="118.9" width="3.4" height="3.4" fill="#f030f0"/>
<rect x="971.6" y="118.9" width="3.4" height="3.4" fill="#f030f0"/>
<rect x="896.6" y="113.5" width="15.8" height="2.3" fill="#ee2a3a"/>
<rect x="896.6" y="113.5" width="1.6" height="4.2" fill="#ee2a3a"/>
<rect x="899.8" y="113.5" width="1.6" height="4.2" fill="#ee2a3a"/>
<rect x="902.9" y="113.5" width="1.6" height="4.2" fill="#ee2a3a"/>
<rect x="906.1" y="113.5" width="1.6" height="4.2" fill="#ee2a3a"/>
<rect x="909.2" y="113.5" width="1.6" height="4.2" fill="#ee2a3a"/>
<rect x="951.9" y="113.5" width="16.5" height="2.3" fill="#ee2a3a"/>
<rect x="951.9" y="113.5" width="1.6" height="4.2" fill="#ee2a3a"/>
<rect x="955.2" y="113.5" width="1.6" height="4.2" fill="#ee2a3a"/>
<rect x="958.5" y="113.5" width="1.6" height="4.2" fill="#ee2a3a"/>
<rect x="961.8" y="113.5" width="1.6" height="4.2" fill="#ee2a3a"/>
<rect x="965.1" y="113.5" width="1.6" height="4.2" fill="#ee2a3a"/>
<rect x="935.4" y="159.5" width="12.2" height="2.3" fill="#ee2a3a"/>
<rect x="935.4" y="159.5" width="1.6" height="4.2" fill="#ee2a3a"/>
<rect x="938.5" y="159.5" width="1.6" height="4.2" fill="#ee2a3a"/>
<rect x="941.5" y="159.5" width="1.6" height="4.2" fill="#ee2a3a"/>
<rect x="944.5" y="159.5" width="1.6" height="4.2" fill="#ee2a3a"/>
<rect x="924.6" y="98.9" width="12.9" height="2.3" fill="#ee2a3a"/>
<rect x="924.6" y="98.9" width="1.6" height="4.2" fill="#ee2a3a"/>
<rect x="927.8" y="98.9" width="1.6" height="4.2" fill="#ee2a3a"/>
<rect x="931.0" y="98.9" width="1.6" height="4.2" fill="#ee2a3a"/>
<rect x="934.3" y="98.9" width="1.6" height="4.2" fill="#ee2a3a"/>
<path d="M917 107.5 Q926 108 927.5 118 H917" fill="none" stroke="#46eaea" stroke-width="1.3"/>
<path d="M935.4 160 Q937 156 944.7 158" fill="none" stroke="#46eaea" stroke-width="1.3"/>
<text x="935.0" y="112.0" fill="#ffffff" font-size="6.2" text-anchor="middle" font-weight="bold" >1 4</text>
<text x="913.0" y="91.5" fill="#ffffff" font-size="5.5" text-anchor="middle" font-weight="bold" >PJ</text>
<path d="M933 91 l2.5 -5 l2.5 5 z" fill="#ffffff" stroke="#ffffff" stroke-width="0.6"/>
<line x1="928.0" y1="90.8" x2="942.0" y2="90.8" stroke="#62e23a" stroke-width="1.3" />
<path d="M899 108.5 L909 100" fill="none" stroke="#62e23a" stroke-width="1.3"/>
<path d="M956 85 l5 4" fill="none" stroke="#62e23a" stroke-width="1.3"/>
<text x="901.0" y="102.0" fill="#ffffff" font-size="6" text-anchor="middle" font-weight="bold" >/</text>
<text x="883.0" y="113.0" fill="#ffffff" font-size="6.5" text-anchor="middle" font-weight="bold" >4</text>
<path d="M884 113.5 Q888 118 892 119" fill="none" stroke="#62e23a" stroke-width="1.2"/>
<text x="961.0" y="109.0" fill="#ffffff" font-size="5" text-anchor="middle" font-weight="bold" >===</text>
<path d="M972 121 Q976 128 980.6 129" fill="none" stroke="#62e23a" stroke-width="1.3"/>
<rect x="977.3" y="122.7" width="3.7" height="4.9" fill="none" stroke="#ffffff" stroke-width="1.0"/>
<text x="914.5" y="138.0" fill="#ffffff" font-size="6.5" text-anchor="middle" font-weight="bold" >H</text>
<text x="955.5" y="138.0" fill="#ffffff" font-size="6.5" text-anchor="middle" font-weight="bold" >H</text>
<text x="904.5" y="158.0" fill="#ffffff" font-size="5" text-anchor="middle" font-weight="bold" font-style="italic">11.84</text>
<text x="959.0" y="156.0" fill="#ffffff" font-size="5" text-anchor="middle" font-weight="bold" >1111</text>
<text x="999.5" y="90.0" fill="#ffffff" font-size="6.6" text-anchor="middle" font-weight="bold" >FM1521</text>
<rect x="886.2" y="94.9" width="7.6" height="7.6" fill="#f030f0"/>
<rect x="887.7" y="96.4" width="4.6" height="4.6" fill="#808080"/>
<rect x="965.6" y="94.7" width="10.0" height="8.0" fill="#f030f0"/>
<rect x="967.4" y="96.3" width="6.4" height="4.8" fill="#808080"/>
<rect x="885.6" y="163.2" width="8.0" height="8.0" fill="#f030f0"/>
<rect x="887.1" y="164.7" width="5.0" height="5.0" fill="#808080"/>
<rect x="965.9" y="163.2" width="8.0" height="8.0" fill="#f030f0"/>
<rect x="967.4" y="164.7" width="5.0" height="5.0" fill="#808080"/>
<rect x="886.0" y="248.5" width="8.0" height="8.0" fill="#f030f0"/>
<rect x="887.5" y="250.0" width="5.0" height="5.0" fill="#808080"/>
<rect x="966.3" y="248.6" width="8.0" height="8.0" fill="#f030f0"/>
<rect x="967.8" y="250.1" width="5.0" height="5.0" fill="#808080"/>
<rect x="886.0" y="317.2" width="8.0" height="8.0" fill="#f030f0"/>
<rect x="887.5" y="318.7" width="5.0" height="5.0" fill="#808080"/>
<rect x="966.5" y="317.2" width="8.0" height="8.0" fill="#f030f0"/>
<rect x="968.0" y="318.7" width="5.0" height="5.0" fill="#808080"/>
<line x1="894.4" y1="167.2" x2="914.5" y2="167.2" stroke="#f6f032" stroke-width="2.4" />
<line x1="948.3" y1="167.2" x2="964.8" y2="167.2" stroke="#f6f032" stroke-width="2.4" />
<rect x="912.1" y="165.5" width="3.3" height="3.3" fill="#f030f0"/>
<rect x="931.6" y="165.5" width="3.3" height="3.3" fill="#f030f0"/>
<rect x="946.9" y="165.5" width="3.3" height="3.3" fill="#f030f0"/>
<rect x="890.3" y="165.8" width="25.0" height="32.2" fill="none" stroke="#f6f032" stroke-width="2.3"/>
<rect x="908.0" y="170.8" width="3.6" height="17.5" fill="#ee2a3a"/>
<rect x="909.0" y="168.3" width="3.0" height="3.0" fill="#2f86dc"/>
<rect x="895.0" y="169.8" width="11.0" height="8.0" fill="#808080"/>
<text x="901.0" y="181.8" fill="#ffffff" font-size="6" text-anchor="middle" font-weight="bold" >W1</text>
<text x="902.0" y="191.8" fill="#ffffff" font-size="5" text-anchor="middle" font-weight="bold" >3.8</text>
<rect x="912.5" y="173.8" width="2.2" height="13.0" fill="#46eaea"/>
<rect x="913.6" y="164.2" width="3.3" height="3.3" fill="#f030f0"/>
<rect x="913.6" y="196.3" width="3.3" height="3.3" fill="#f030f0"/>
<rect x="888.6" y="196.3" width="3.3" height="3.3" fill="#f030f0"/>
<rect x="890.3" y="221.2" width="25.0" height="32.8" fill="none" stroke="#f6f032" stroke-width="2.3"/>
<rect x="908.0" y="226.2" width="3.6" height="17.5" fill="#ee2a3a"/>
<rect x="909.0" y="223.7" width="3.0" height="3.0" fill="#2f86dc"/>
<rect x="895.0" y="225.2" width="11.0" height="8.0" fill="#808080"/>
<text x="901.0" y="237.2" fill="#ffffff" font-size="6" text-anchor="middle" font-weight="bold" >W1</text>
<text x="902.0" y="247.2" fill="#ffffff" font-size="5" text-anchor="middle" font-weight="bold" >3.8</text>
<rect x="912.5" y="229.2" width="2.2" height="13.0" fill="#46eaea"/>
<rect x="913.6" y="219.5" width="3.3" height="3.3" fill="#f030f0"/>
<rect x="913.6" y="252.3" width="3.3" height="3.3" fill="#f030f0"/>
<rect x="888.6" y="219.5" width="3.3" height="3.3" fill="#f030f0"/>
<path d="M869.5 197.8 V193.8 L876.9 186.0 H882.5" fill="none" stroke="#46eaea" stroke-width="1.3"/>
<rect x="881.2" y="185.4" width="2.6" height="12.4" fill="#46eaea"/>
<rect x="884.5" y="192.0" width="3.0" height="3.0" fill="#2f86dc"/>
<rect x="870.0" y="200.7" width="12.0" height="2.0" fill="#ee2a3a"/>
<rect x="870.0" y="200.7" width="1.6" height="3.6" fill="#ee2a3a"/>
<rect x="873.0" y="200.7" width="1.6" height="3.6" fill="#ee2a3a"/>
<rect x="876.0" y="200.7" width="1.6" height="3.6" fill="#ee2a3a"/>
<rect x="879.0" y="200.7" width="1.6" height="3.6" fill="#ee2a3a"/>
<line x1="866.0" y1="197.8" x2="870.0" y2="197.8" stroke="#f6f032" stroke-width="2.4" />
<line x1="884.5" y1="197.8" x2="890.0" y2="197.8" stroke="#f6f032" stroke-width="2.4" />
<path d="M917 186 H921 L930 196" fill="none" stroke="#46eaea" stroke-width="1.2"/>
<rect x="922.0" y="191.5" width="13.0" height="2.2" fill="#ee2a3a"/>
<rect x="922.0" y="191.5" width="1.6" height="4.0" fill="#ee2a3a"/>
<rect x="925.2" y="191.5" width="1.6" height="4.0" fill="#ee2a3a"/>
<rect x="928.5" y="191.5" width="1.6" height="4.0" fill="#ee2a3a"/>
<rect x="931.8" y="191.5" width="1.6" height="4.0" fill="#ee2a3a"/>
<path d="M917 226 V234 H921 L930 226" fill="none" stroke="#46eaea" stroke-width="1.2"/>
<rect x="917.0" y="215.0" width="13.0" height="2.2" fill="#ee2a3a"/>
<rect x="917.0" y="215.0" width="1.6" height="4.0" fill="#ee2a3a"/>
<rect x="920.2" y="215.0" width="1.6" height="4.0" fill="#ee2a3a"/>
<rect x="923.5" y="215.0" width="1.6" height="4.0" fill="#ee2a3a"/>
<rect x="926.8" y="215.0" width="1.6" height="4.0" fill="#ee2a3a"/>
<rect x="932.5" y="197.6" width="14.5" height="24.8" fill="none" stroke="#f6f032" stroke-width="2.0"/>
<line x1="944.0" y1="198.0" x2="944.0" y2="222.0" stroke="#f6f032" stroke-width="1.4" />
<line x1="936.0" y1="210.0" x2="944.0" y2="210.0" stroke="#f6f032" stroke-width="1.4" />
<line x1="936.0" y1="199.0" x2="936.0" y2="221.0" stroke="#f6f032" stroke-width="1.4" />
<rect x="947.6" y="196.2" width="26.0" height="2.6" fill="#46eaea"/>
<rect x="947.6" y="220.6" width="26.0" height="2.6" fill="#46eaea"/>
<line x1="949.7" y1="169.4" x2="949.7" y2="196.7" stroke="#46eaea" stroke-width="2.0" />
<line x1="949.7" y1="224.0" x2="949.7" y2="247.0" stroke="#46eaea" stroke-width="2.0" />
<line x1="947.0" y1="210.5" x2="958.0" y2="210.5" stroke="#46eaea" stroke-width="1.1" />
<text x="964.0" y="206.0" fill="#ffffff" font-size="5.5" text-anchor="middle" font-weight="bold" >4</text>
<text x="970.0" y="213.0" fill="#ffffff" font-size="5.5" text-anchor="middle" font-weight="bold" >XHS</text>
<rect x="930.9" y="195.9" width="3.3" height="3.3" fill="#f030f0"/>
<rect x="945.4" y="195.9" width="3.3" height="3.3" fill="#f030f0"/>
<rect x="971.4" y="195.9" width="3.3" height="3.3" fill="#f030f0"/>
<rect x="930.9" y="220.8" width="3.3" height="3.3" fill="#f030f0"/>
<rect x="945.4" y="220.8" width="3.3" height="3.3" fill="#f030f0"/>
<rect x="971.4" y="220.8" width="3.3" height="3.3" fill="#f030f0"/>
<line x1="949.0" y1="168.0" x2="949.0" y2="176.0" stroke="#f6f032" stroke-width="1.4" />
<line x1="952.5" y1="168.0" x2="952.5" y2="176.0" stroke="#f6f032" stroke-width="1.4" />
<rect x="953.5" y="170.0" width="2.4" height="5.0" fill="#2f86dc"/>
<line x1="949.0" y1="246.0" x2="949.0" y2="253.0" stroke="#f6f032" stroke-width="1.4" />
<line x1="952.5" y1="246.0" x2="952.5" y2="253.0" stroke="#f6f032" stroke-width="1.4" />
<rect x="953.5" y="246.0" width="2.4" height="5.0" fill="#2f86dc"/>
<text x="963.0" y="179.5" fill="#ffffff" font-size="5.5" text-anchor="middle" font-weight="bold" >1 4</text>
<rect x="953.2" y="180.0" width="2.2" height="11.0" fill="#ee2a3a"/>
<rect x="953.2" y="180.0" width="3.6" height="1.6" fill="#ee2a3a"/>
<rect x="953.2" y="183.1" width="3.6" height="1.6" fill="#ee2a3a"/>
<rect x="953.2" y="186.3" width="3.6" height="1.6" fill="#ee2a3a"/>
<rect x="953.2" y="189.4" width="3.6" height="1.6" fill="#ee2a3a"/>
<rect x="959.0" y="192.2" width="11.0" height="2.0" fill="#ee2a3a"/>
<rect x="959.0" y="192.2" width="1.6" height="3.6" fill="#ee2a3a"/>
<rect x="962.7" y="192.2" width="1.6" height="3.6" fill="#ee2a3a"/>
<rect x="966.3" y="192.2" width="1.6" height="3.6" fill="#ee2a3a"/>
<rect x="953.1" y="226.0" width="2.3" height="16.0" fill="#ee2a3a"/>
<rect x="953.1" y="226.0" width="3.8" height="1.6" fill="#ee2a3a"/>
<rect x="953.1" y="229.6" width="3.8" height="1.6" fill="#ee2a3a"/>
<rect x="953.1" y="233.2" width="3.8" height="1.6" fill="#ee2a3a"/>
<rect x="953.1" y="236.8" width="3.8" height="1.6" fill="#ee2a3a"/>
<rect x="953.1" y="240.4" width="3.8" height="1.6" fill="#ee2a3a"/>
<rect x="958.0" y="223.9" width="10.0" height="1.8" fill="#ee2a3a"/>
<rect x="958.0" y="223.9" width="1.6" height="3.2" fill="#ee2a3a"/>
<rect x="961.3" y="223.9" width="1.6" height="3.2" fill="#ee2a3a"/>
<rect x="964.7" y="223.9" width="1.6" height="3.2" fill="#ee2a3a"/>
<line x1="933.4" y1="253.0" x2="933.4" y2="300.0" stroke="#f6f032" stroke-width="3.0" />
<line x1="894.4" y1="253.6" x2="913.8" y2="253.6" stroke="#f6f032" stroke-width="2.4" />
<line x1="949.0" y1="253.6" x2="964.8" y2="253.6" stroke="#f6f032" stroke-width="2.4" />
<rect x="912.1" y="251.9" width="3.3" height="3.3" fill="#f030f0"/>
<rect x="931.8" y="251.9" width="3.3" height="3.3" fill="#f030f0"/>
<rect x="947.4" y="251.9" width="3.3" height="3.3" fill="#f030f0"/>
<rect x="934.0" y="248.4" width="12.0" height="2.3" fill="#ee2a3a"/>
<rect x="934.0" y="248.4" width="1.6" height="4.2" fill="#ee2a3a"/>
<rect x="937.0" y="248.4" width="1.6" height="4.2" fill="#ee2a3a"/>
<rect x="940.0" y="248.4" width="1.6" height="4.2" fill="#ee2a3a"/>
<rect x="943.0" y="248.4" width="1.6" height="4.2" fill="#ee2a3a"/>
<path d="M936 255 V262 H941 L947 256" fill="none" stroke="#46eaea" stroke-width="1.2"/>
<rect x="889.1" y="273.9" width="3.3" height="3.3" fill="#f030f0"/>
<text x="916.0" y="273.0" fill="#ffffff" font-size="6.5" text-anchor="middle" font-weight="bold" >H</text>
<text x="916.6" y="280.5" fill="#ffffff" font-size="5" text-anchor="middle" font-weight="bold" font-style="italic">12.84</text>
<text x="955.4" y="277.0" fill="#ffffff" font-size="6.5" text-anchor="middle" font-weight="bold" >H</text>
<text x="955.4" y="285.0" fill="#ffffff" font-size="5" text-anchor="middle" font-weight="bold" >11111</text>
<rect x="893.0" y="297.4" width="23.0" height="2.4" fill="#46eaea"/>
<rect x="946.8" y="297.4" width="24.0" height="2.4" fill="#46eaea"/>
<rect x="895.0" y="294.3" width="15.0" height="2.4" fill="#ee2a3a"/>
<rect x="895.0" y="294.3" width="1.6" height="4.4" fill="#ee2a3a"/>
<rect x="898.0" y="294.3" width="1.6" height="4.4" fill="#ee2a3a"/>
<rect x="901.0" y="294.3" width="1.6" height="4.4" fill="#ee2a3a"/>
<rect x="904.0" y="294.3" width="1.6" height="4.4" fill="#ee2a3a"/>
<rect x="907.0" y="294.3" width="1.6" height="4.4" fill="#ee2a3a"/>
<rect x="952.6" y="294.3" width="15.0" height="2.4" fill="#ee2a3a"/>
<rect x="952.6" y="294.3" width="1.6" height="4.4" fill="#ee2a3a"/>
<rect x="955.6" y="294.3" width="1.6" height="4.4" fill="#ee2a3a"/>
<rect x="958.6" y="294.3" width="1.6" height="4.4" fill="#ee2a3a"/>
<rect x="961.6" y="294.3" width="1.6" height="4.4" fill="#ee2a3a"/>
<rect x="964.6" y="294.3" width="1.6" height="4.4" fill="#ee2a3a"/>
<line x1="916.6" y1="298.0" x2="916.6" y2="324.0" stroke="#f6f032" stroke-width="2.4" />
<line x1="946.4" y1="298.0" x2="946.4" y2="324.0" stroke="#f6f032" stroke-width="2.4" />
<line x1="933.4" y1="299.0" x2="946.4" y2="299.0" stroke="#f6f032" stroke-width="2.4" />
<rect x="918.0" y="322.0" width="27.5" height="2.6" fill="#46eaea"/>
<line x1="894.4" y1="317.6" x2="914.5" y2="317.6" stroke="#62e23a" stroke-width="1.3" />
<line x1="894.4" y1="324.8" x2="914.5" y2="324.8" stroke="#62e23a" stroke-width="1.3" />
<line x1="948.0" y1="317.6" x2="966.0" y2="317.6" stroke="#62e23a" stroke-width="1.3" />
<line x1="948.0" y1="324.8" x2="966.0" y2="324.8" stroke="#62e23a" stroke-width="1.3" />
<rect x="900.8" y="319.7" width="9.2" height="3.6" fill="#202020" stroke="#808080" stroke-width="1.1"/>
<rect x="952.6" y="319.7" width="9.4" height="3.6" fill="#202020" stroke="#808080" stroke-width="1.1"/>
<rect x="915.0" y="297.4" width="3.3" height="3.3" fill="#f030f0"/>
<rect x="931.8" y="297.4" width="3.3" height="3.3" fill="#f030f0"/>
<rect x="944.8" y="297.4" width="3.3" height="3.3" fill="#f030f0"/>
<rect x="915.0" y="321.9" width="3.3" height="3.3" fill="#f030f0"/>
<rect x="944.8" y="321.9" width="3.3" height="3.3" fill="#f030f0"/>
<rect x="889.1" y="297.4" width="3.3" height="3.3" fill="#f030f0"/>
<rect x="971.4" y="297.4" width="3.3" height="3.3" fill="#f030f0"/>
<text x="901.5" y="310.0" fill="#ffffff" font-size="6" text-anchor="middle" font-weight="bold" >JMd</text>
<text x="931.7" y="312.5" fill="#ffffff" font-size="6" text-anchor="middle" font-weight="bold" >1 4</text>
<text x="960.5" y="310.0" fill="#ffffff" font-size="6" text-anchor="middle" font-weight="bold" >rJM</text>
<rect x="924.0" y="301.7" width="10.0" height="2.0" fill="#ee2a3a"/>
<rect x="924.0" y="301.7" width="1.6" height="3.6" fill="#ee2a3a"/>
<rect x="927.3" y="301.7" width="1.6" height="3.6" fill="#ee2a3a"/>
<rect x="930.7" y="301.7" width="1.6" height="3.6" fill="#ee2a3a"/>
<text x="929.6" y="321.0" fill="#ee2a3a" font-size="5" text-anchor="middle" font-weight="bold" >-0.</text>
<text x="995.0" y="307.0" fill="#ffffff" font-size="7" text-anchor="middle" font-weight="bold" >YTL1221</text>
<path d="M972 300 Q976 310 981 308" fill="none" stroke="#62e23a" stroke-width="1.3"/>
<text x="960.5" y="336.0" fill="#ffffff" font-size="5.5" text-anchor="middle" font-weight="bold" >4%</text>
<path d="M382 391.5 L484.4 402.7 L593.4 389.3 L688 402.4 L797 389.3 L893.7 402.4 L969 391" fill="none" stroke="#46eaea" stroke-width="1.2"/>
<line x1="593.4" y1="389.3" x2="593.4" y2="403.6" stroke="#46eaea" stroke-width="1.2" />
<line x1="797.0" y1="389.3" x2="797.0" y2="403.6" stroke="#46eaea" stroke-width="1.2" />
<rect x="483.1" y="401.5" width="2.6" height="2.6" fill="#f030f0"/>
<rect x="686.7" y="401.5" width="2.6" height="2.6" fill="#f030f0"/>
<rect x="892.4" y="401.5" width="2.6" height="2.6" fill="#f030f0"/>
<rect x="377.0" y="403.2" width="598.8" height="2.6" fill="#62e23a"/>
<line x1="378.0" y1="408.0" x2="977.6" y2="408.0" stroke="#46eaea" stroke-width="1.3" />
<line x1="392.7" y1="400.5" x2="415.4" y2="400.5" stroke="#62e23a" stroke-width="1.3" />
<text x="406.0" y="398.5" fill="#ffffff" font-size="4.6" text-anchor="middle" font-weight="bold" >2%</text>
<line x1="550.0" y1="400.5" x2="571.5" y2="400.5" stroke="#62e23a" stroke-width="1.3" />
<text x="562.8" y="398.5" fill="#ffffff" font-size="4.6" text-anchor="middle" font-weight="bold" >2%</text>
<line x1="606.0" y1="400.5" x2="629.0" y2="400.5" stroke="#62e23a" stroke-width="1.3" />
<text x="619.5" y="398.5" fill="#ffffff" font-size="4.6" text-anchor="middle" font-weight="bold" >2%</text>
<line x1="768.0" y1="400.5" x2="785.6" y2="400.5" stroke="#62e23a" stroke-width="1.3" />
<text x="778.8" y="398.5" fill="#ffffff" font-size="4.6" text-anchor="middle" font-weight="bold" >2%</text>
<line x1="805.7" y1="400.5" x2="828.3" y2="400.5" stroke="#62e23a" stroke-width="1.3" />
<text x="819.0" y="398.5" fill="#ffffff" font-size="4.6" text-anchor="middle" font-weight="bold" >2%</text>
<line x1="942.7" y1="400.5" x2="966.6" y2="400.5" stroke="#62e23a" stroke-width="1.3" />
<text x="956.7" y="398.5" fill="#ffffff" font-size="4.6" text-anchor="middle" font-weight="bold" >2%</text>
<line x1="419.0" y1="356.7" x2="419.0" y2="378.8" stroke="#62e23a" stroke-width="1.4" />
<rect x="421.2" y="366.8" width="3.8" height="4.2" fill="#ffffff"/>
<line x1="519.3" y1="355.0" x2="519.3" y2="381.0" stroke="#62e23a" stroke-width="1.4" />
<rect x="521.5" y="366.8" width="3.8" height="4.2" fill="#ffffff"/>
<line x1="640.0" y1="355.5" x2="640.0" y2="381.0" stroke="#62e23a" stroke-width="1.4" />
<rect x="642.2" y="366.8" width="3.8" height="4.2" fill="#ffffff"/>
<line x1="737.5" y1="356.0" x2="737.5" y2="381.0" stroke="#62e23a" stroke-width="1.4" />
<rect x="739.7" y="366.8" width="3.8" height="4.2" fill="#ffffff"/>
<line x1="858.5" y1="357.0" x2="858.5" y2="380.0" stroke="#62e23a" stroke-width="1.4" />
<rect x="860.7" y="366.8" width="3.8" height="4.2" fill="#ffffff"/>
<line x1="938.2" y1="357.0" x2="938.2" y2="380.0" stroke="#62e23a" stroke-width="1.4" />
<rect x="940.4" y="366.8" width="3.8" height="4.2" fill="#ffffff"/>
<text x="443.0" y="364.8" fill="#ffffff" font-size="6.6" text-anchor="middle" font-weight="bold" >FM Z 1521</text>
<text x="566.0" y="360.5" fill="#ffffff" font-size="6" text-anchor="middle" font-weight="bold" >F</text>
<text x="586.0" y="369.5" fill="#ffffff" font-size="7.5" text-anchor="middle" font-weight="bold" >(WM 12.000)</text>
<path d="M846 334.5 l2.6 -5 l2.6 5 z" fill="#ffffff" stroke="#ffffff" stroke-width="0.6"/>
<text x="869.0" y="334.5" fill="#ffffff" font-size="7.5" text-anchor="middle" font-weight="bold" >WM 5.F</text>
<text x="868.0" y="342.5" fill="#ffffff" font-size="7.5" text-anchor="middle" font-weight="bold" >12.000</text>
<text x="648.0" y="336.5" fill="#ffffff" font-size="5.5" text-anchor="middle" font-weight="bold" >4%</text>
<text x="444.6" y="336.5" fill="#ffffff" font-size="5.5" text-anchor="middle" font-weight="bold" >4%</text>
<text x="664.0" y="306.0" fill="#ffffff" font-size="6.4" text-anchor="middle" font-weight="bold" >FM1521</text>
<circle cx="648.0" cy="308.5" r="1.8" fill="none" stroke="#ffffff" stroke-width="1.1"/>
<line x1="377.4" y1="300.0" x2="377.4" y2="404.0" stroke="#ffffff" stroke-width="1.3" />
<line x1="381.6" y1="326.0" x2="381.6" y2="404.0" stroke="#ffffff" stroke-width="1.3" />
<path d="M367.3 302.6 L376.6 407 L365.6 507.6 L376 608 L365.6 706 L376 807" fill="none" stroke="#46eaea" stroke-width="1.2"/>
<line x1="365.6" y1="507.6" x2="377.4" y2="507.6" stroke="#46eaea" stroke-width="1.2" />
<line x1="365.6" y1="706.0" x2="377.4" y2="706.0" stroke="#46eaea" stroke-width="1.2" />
<rect x="375.0" y="405.7" width="2.6" height="2.6" fill="#f030f0"/>
<rect x="375.0" y="606.7" width="2.6" height="2.6" fill="#f030f0"/>
<rect x="375.0" y="805.7" width="2.6" height="2.6" fill="#f030f0"/>
<line x1="377.6" y1="405.0" x2="377.6" y2="811.0" stroke="#62e23a" stroke-width="1.5" />
<line x1="381.2" y1="405.0" x2="381.2" y2="811.0" stroke="#62e23a" stroke-width="1.5" />
<line x1="383.6" y1="408.0" x2="383.6" y2="814.0" stroke="#46eaea" stroke-width="1.3" />
<rect x="297.0" y="809.6" width="81.0" height="2.6" fill="#62e23a"/>
<line x1="371.6" y1="322.7" x2="371.6" y2="344.0" stroke="#62e23a" stroke-width="1.4" />
<text x="365.5" y="335.4" fill="#ffffff" font-size="4.6" text-anchor="middle" font-weight="bold" >n</text>
<line x1="371.6" y1="469.8" x2="371.6" y2="488.6" stroke="#62e23a" stroke-width="1.4" />
<text x="365.5" y="481.2" fill="#ffffff" font-size="4.6" text-anchor="middle" font-weight="bold" >n</text>
<line x1="371.6" y1="524.0" x2="371.6" y2="542.8" stroke="#62e23a" stroke-width="1.4" />
<text x="365.5" y="535.4" fill="#ffffff" font-size="4.6" text-anchor="middle" font-weight="bold" >n</text>
<line x1="371.6" y1="666.0" x2="371.6" y2="693.0" stroke="#62e23a" stroke-width="1.4" />
<text x="365.5" y="681.5" fill="#ffffff" font-size="4.6" text-anchor="middle" font-weight="bold" >n</text>
<line x1="371.6" y1="721.8" x2="371.6" y2="743.2" stroke="#62e23a" stroke-width="1.4" />
<text x="365.5" y="734.5" fill="#ffffff" font-size="4.6" text-anchor="middle" font-weight="bold" >n</text>
<line x1="329.6" y1="352.0" x2="353.5" y2="352.0" stroke="#62e23a" stroke-width="1.3" />
<text x="343.0" y="350.2" fill="#ffffff" font-size="4.6" text-anchor="middle" font-weight="bold" >2%</text>
<line x1="329.6" y1="478.0" x2="353.5" y2="478.0" stroke="#62e23a" stroke-width="1.3" />
<text x="343.0" y="476.2" fill="#ffffff" font-size="4.6" text-anchor="middle" font-weight="bold" >2%</text>
<line x1="329.6" y1="564.2" x2="353.5" y2="564.2" stroke="#62e23a" stroke-width="1.3" />
<text x="343.0" y="562.4" fill="#ffffff" font-size="4.6" text-anchor="middle" font-weight="bold" >2%</text>
<line x1="329.6" y1="676.6" x2="353.5" y2="676.6" stroke="#62e23a" stroke-width="1.3" />
<text x="343.0" y="674.8" fill="#ffffff" font-size="4.6" text-anchor="middle" font-weight="bold" >2%</text>
<line x1="329.6" y1="747.0" x2="353.5" y2="747.0" stroke="#62e23a" stroke-width="1.3" />
<text x="343.0" y="745.2" fill="#ffffff" font-size="4.6" text-anchor="middle" font-weight="bold" >2%</text>
<text x="308.2" y="311.5" fill="#ffffff" font-size="5.5" text-anchor="middle" font-weight="bold" >1%</text>
<text x="324.6" y="331.5" fill="#ffffff" font-size="7" text-anchor="middle" font-weight="bold" >FM1521</text>
<text x="317.0" y="338.5" fill="#ffffff" font-size="6.5" text-anchor="middle" font-weight="bold" >HM</text>
<text x="333.4" y="387.0" fill="#ffffff" font-size="7.5" text-anchor="middle" font-weight="bold" >r WM 5</text>
<text x="334.6" y="394.0" fill="#ffffff" font-size="7.5" text-anchor="middle" font-weight="bold" >12.000</text>
<text x="323.3" y="431.5" fill="#ffffff" font-size="7" text-anchor="middle" font-weight="bold" >FM1521</text>
<text x="334.0" y="438.5" fill="#ffffff" font-size="6.6" text-anchor="middle" font-weight="bold" >HM 1.0-0%</text>
<text x="324.6" y="637.5" fill="#ffffff" font-size="7" text-anchor="middle" font-weight="bold" >FM1521</text>
<text x="317.0" y="645.0" fill="#ffffff" font-size="6.5" text-anchor="middle" font-weight="bold" >HM</text>
<line x1="367.3" y1="302.6" x2="372.0" y2="297.0" stroke="#46eaea" stroke-width="1.2" />
<rect x="365.5" y="301.5" width="8.5" height="4.0" fill="#202020" stroke="#808080" stroke-width="1.1"/>
<rect x="174.4" y="805.6" width="20.0" height="3.4" fill="#46eaea"/>
<rect x="178.0" y="809.8" width="13.0" height="1.9" fill="#ee2a3a"/>
<rect x="178.0" y="809.8" width="1.6" height="3.4" fill="#ee2a3a"/>
<rect x="181.2" y="809.8" width="1.6" height="3.4" fill="#ee2a3a"/>
<rect x="184.5" y="809.8" width="1.6" height="3.4" fill="#ee2a3a"/>
<rect x="187.8" y="809.8" width="1.6" height="3.4" fill="#ee2a3a"/>
<rect x="171.8" y="804.0" width="3.3" height="3.3" fill="#f030f0"/>
<rect x="194.7" y="804.0" width="3.3" height="3.3" fill="#f030f0"/>
<path d="M69 705.8 H58.4 V810.6 H69" fill="none" stroke="#808080" stroke-width="2.2"/>
<text x="44.0" y="144.2" fill="#ffffff" font-size="7.2" text-anchor="middle" font-weight="bold" >FM1521</text>
<text x="44.0" y="347.9" fill="#ffffff" font-size="7.2" text-anchor="middle" font-weight="bold" >FM1521</text>
<text x="44.0" y="450.4" fill="#ffffff" font-size="7.2" text-anchor="middle" font-weight="bold" >FM1521</text>
<text x="44.0" y="655.4" fill="#ffffff" font-size="7.2" text-anchor="middle" font-weight="bold" >FM1521</text>
<text x="363.0" y="82.3" fill="#ffffff" font-size="6.6" text-anchor="middle" font-weight="bold" >FM1521</text>
<text x="470.0" y="82.3" fill="#ffffff" font-size="6.6" text-anchor="middle" font-weight="bold" >FM1521</text>
<text x="672.0" y="80.0" fill="#ffffff" font-size="6.6" text-anchor="middle" font-weight="bold" >FM1521</text>
<text x="990.5" y="176.0" fill="#ffffff" font-size="5" text-anchor="middle" font-weight="bold" ></text>
<text x="17.0" y="82.3" fill="#ffffff" font-size="5" text-anchor="middle" font-weight="bold" ></text>
<use href="#wm" transform="translate(98,128.4) rotate(-28) skewX(-14)" opacity="0.215"/><use href="#wm" transform="translate(541,172) rotate(-28) skewX(-14)" opacity="0.215"/><use href="#wm" transform="translate(916.5,111.5) rotate(-28) skewX(-14)" opacity="0.215"/><use href="#wm" transform="translate(198,390) rotate(-28) skewX(-14)" opacity="0.215"/><use href="#wm" transform="translate(507.7,468.2) rotate(-28) skewX(-14)" opacity="0.215"/><use href="#wm" transform="translate(848,468.5) rotate(-28) skewX(-14)" opacity="0.215"/><use href="#wm" transform="translate(595,722.4) rotate(-28) skewX(-14)" opacity="0.215"/><use href="#wm" transform="translate(916.7,722.4) rotate(-28) skewX(-14)" opacity="0.215"/><use href="#wm" transform="translate(124.4,728.4) rotate(-28) skewX(-14)" opacity="0.215"/>
</g>
</svg>
</body></html>
